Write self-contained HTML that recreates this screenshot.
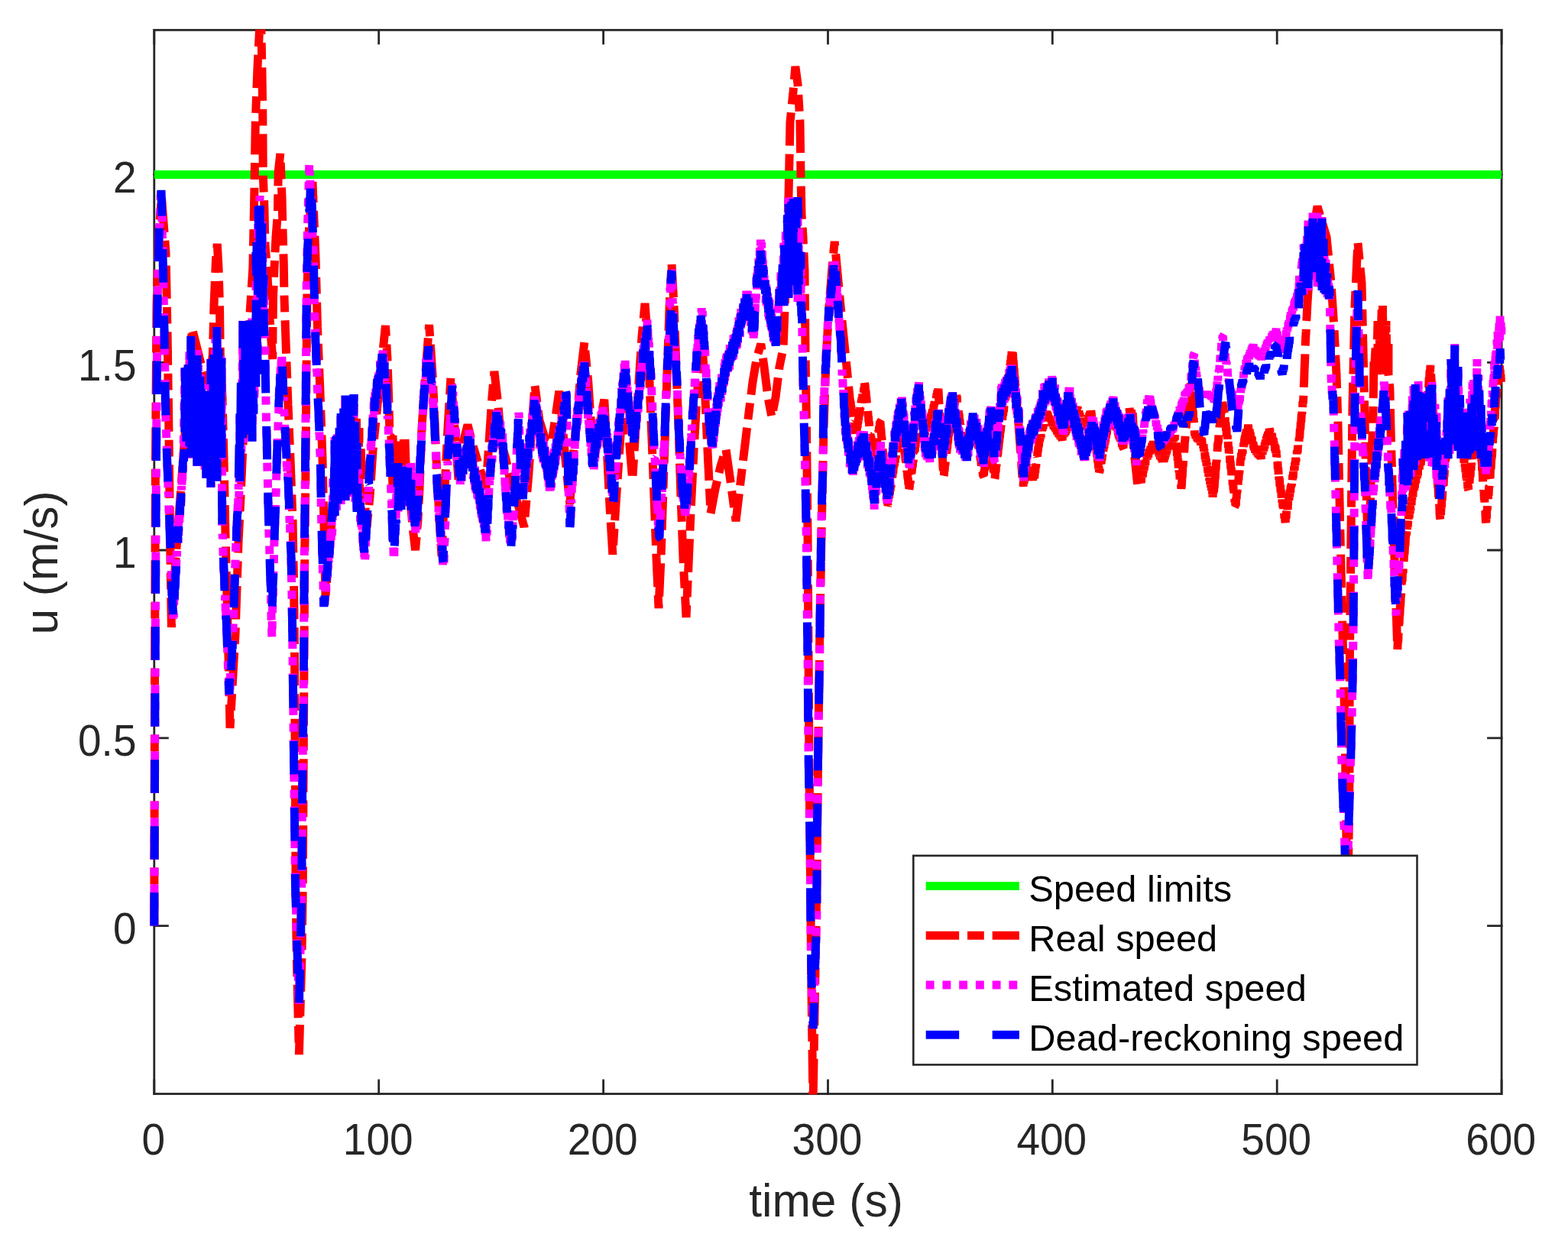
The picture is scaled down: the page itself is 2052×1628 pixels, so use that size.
<!DOCTYPE html>
<html lang="en"><head><meta charset="utf-8"><title>Speed comparison</title>
<style>
html,body{margin:0;padding:0;background:#fff;}
body{width:2052px;height:1628px;overflow:hidden;}
svg{display:block;}
text{font-family:'Liberation Sans', 'DejaVu Sans', sans-serif;fill:#262626;}
.tick{font-size:55px;}
.lab{font-size:60.5px;}
.leg{font-size:48.8px;fill:#000;}
.c{fill:none;stroke-width:11;stroke-linejoin:bevel;stroke-linecap:butt;}
</style></head>
<body>
<svg width="2052" height="1628" viewBox="0 0 2052 1628">
<rect x="0" y="0" width="2052" height="1628" fill="#fff"/>
<defs><clipPath id="ax"><rect x="195.3" y="38.5" width="1776.3" height="1393.8"/></clipPath></defs>
<g stroke="#262626" stroke-width="2.8" fill="none" stroke-linecap="square">
<rect x="201.8" y="39.3" width="1763.3" height="1392.2"/>
<path d="M201.8,1431.5v-17.6M201.8,39.3v17.6"/>
<path d="M495.7,1431.5v-17.6M495.7,39.3v17.6"/>
<path d="M789.6,1431.5v-17.6M789.6,39.3v17.6"/>
<path d="M1083.5,1431.5v-17.6M1083.5,39.3v17.6"/>
<path d="M1377.3,1431.5v-17.6M1377.3,39.3v17.6"/>
<path d="M1671.2,1431.5v-17.6M1671.2,39.3v17.6"/>
<path d="M1965.1,1431.5v-17.6M1965.1,39.3v17.6"/>
<path d="M201.8,1211.6h17.6M1965.1,1211.6h-17.6"/>
<path d="M201.8,965.8h17.6M1965.1,965.8h-17.6"/>
<path d="M201.8,720.0h17.6M1965.1,720.0h-17.6"/>
<path d="M201.8,474.3h17.6M1965.1,474.3h-17.6"/>
<path d="M201.8,228.5h17.6M1965.1,228.5h-17.6"/>
</g>
<text class="tick" transform="translate(200.8,1511.4) scale(1,1.045)" text-anchor="middle">0</text>
<text class="tick" transform="translate(494.7,1511.4) scale(1,1.045)" text-anchor="middle">100</text>
<text class="tick" transform="translate(788.6,1511.4) scale(1,1.045)" text-anchor="middle">200</text>
<text class="tick" transform="translate(1082.5,1511.4) scale(1,1.045)" text-anchor="middle">300</text>
<text class="tick" transform="translate(1376.3,1511.4) scale(1,1.045)" text-anchor="middle">400</text>
<text class="tick" transform="translate(1670.2,1511.4) scale(1,1.045)" text-anchor="middle">500</text>
<text class="tick" transform="translate(1964.1,1511.4) scale(1,1.045)" text-anchor="middle">600</text>
<text class="tick" transform="translate(178.5,1235.0) scale(1,1.045)" text-anchor="end">0</text>
<text class="tick" transform="translate(178.5,989.2) scale(1,1.045)" text-anchor="end">0.5</text>
<text class="tick" transform="translate(178.5,743.4) scale(1,1.045)" text-anchor="end">1</text>
<text class="tick" transform="translate(178.5,497.7) scale(1,1.045)" text-anchor="end">1.5</text>
<text class="tick" transform="translate(178.5,251.9) scale(1,1.045)" text-anchor="end">2</text>
<text class="lab" x="1081" y="1592" text-anchor="middle">time (s)</text>
<text class="lab" transform="translate(74.8,736.5) rotate(-90)" text-anchor="middle">u (m/s)</text>
<g clip-path="url(#ax)">
<path class="c" stroke="#00ff00" d="M201.8,228.5H1965.1"/>
<path class="c" stroke="#ff0000" stroke-dasharray="43.48 10.87 21.74 10.87" d="M201.8,1211.6 202.5,900.0 203.5,600.0 205.0,400.0 207.5,310.0 211.5,258.0 217.0,330.0 219.0,430.0 220.5,530.0 221.5,610.0 222.5,700.0 224.4,821.0 230.0,730.0 236.0,650.0 242.0,570.0 247.0,490.0 251.5,430.0 258.0,456.0 264.0,480.0 270.0,508.0 274.0,500.0 278.3,465.0 280.0,400.0 282.5,340.0 284.3,319.0 286.0,350.0 287.5,400.0 288.3,465.0 291.0,520.0 293.0,600.0 295.0,700.0 297.5,800.0 299.5,880.0 301.0,953.0 304.0,900.0 308.0,830.0 310.0,770.0 312.0,710.0 315.0,650.0 319.0,560.0 323.0,480.0 326.5,417.0 329.0,380.0 330.9,350.0 332.9,250.0 334.3,160.0 336.9,90.0 339.5,40.0 340.7,15.0 341.9,40.0 342.9,90.0 343.8,150.0 344.3,230.0 345.9,270.0 346.9,320.0 349.5,350.0 352.0,400.0 354.5,440.0 356.8,470.0 357.0,430.0 357.5,389.0 359.5,340.0 361.0,310.0 363.4,280.0 364.2,225.0 366.8,201.0 369.0,258.0 370.0,300.0 371.3,345.0 372.0,389.0 374.2,452.0 377.0,530.0 380.0,600.0 383.0,680.0 384.5,760.0 385.5,850.0 386.0,950.0 386.5,1050.0 387.0,1150.0 388.2,1250.0 391.4,1380.0 395.0,1250.0 396.3,1156.0 396.8,1070.0 397.3,982.0 397.8,896.0 398.3,809.0 398.8,722.0 399.8,634.0 400.5,549.0 401.2,462.0 402.0,375.0 404.5,300.0 409.0,238.0 413.0,336.0 415.5,428.0 419.0,514.0 422.0,600.0 424.0,687.0 426.0,780.0 431.0,720.0 436.0,660.0 437.7,658.1 440.0,600.0 440.1,660.0 441.5,593.8 443.5,646.6 444.5,571.9 446.4,643.3 448.9,557.5 450.0,650.0 450.1,540.0 452.1,640.4 453.6,547.7 455.3,643.6 456.9,532.8 458.8,627.5 460.6,529.6 462.0,640.0 462.1,520.0 463.8,627.2 466.4,547.8 468.2,645.8 470.0,560.0 470.1,650.0 472.2,587.3 473.9,642.5 476.0,640.0 480.0,690.0 484.0,650.0 488.0,590.0 493.0,540.0 498.0,490.0 502.0,450.0 504.5,426.0 507.0,470.0 509.0,530.0 510.0,570.0 511.9,570.3 514.0,640.0 514.0,570.0 516.2,632.2 517.2,578.9 519.8,637.7 521.2,579.3 522.9,639.3 524.5,577.6 526.5,646.8 528.4,575.2 530.0,650.0 530.0,575.0 532.4,646.6 534.2,621.3 536.0,640.0 540.0,690.0 543.6,720.0 547.0,680.0 549.0,640.0 552.0,560.0 556.0,500.0 561.6,425.0 566.0,490.0 568.5,540.0 571.0,600.0 575.0,680.0 578.0,728.0 582.0,639.8 586.0,559.8 590.0,492.9 595.0,559.8 600.0,627.8 606.0,579.8 612.0,555.8 618.0,579.8 623.9,599.8 629.9,619.8 635.9,639.8 639.9,579.8 643.9,519.9 646.9,485.9 651.9,529.9 655.9,579.8 661.9,599.8 669.9,639.8 677.9,659.7 685.9,689.7 691.9,619.8 695.9,559.8 699.9,503.9 705.9,549.9 713.9,575.8 721.8,579.8 727.8,539.9 731.8,511.9 735.8,551.8 739.8,599.8 745.8,659.7 749.8,599.8 755.8,539.9 759.8,489.9 764.8,448.0 769.8,499.9 773.8,559.8 777.8,599.8 783.8,559.8 790.8,522.9 793.8,579.8 797.8,659.7 801.8,725.7 806.0,660.0 810.0,600.0 814.0,540.0 818.0,500.0 822.0,560.0 827.7,628.0 832.0,560.0 836.0,500.0 840.0,440.0 844.0,397.0 848.0,450.0 852.0,550.0 856.0,650.0 859.0,730.0 862.0,796.0 865.0,730.0 868.0,640.0 871.0,550.0 874.0,460.0 876.5,390.0 879.0,346.0 882.0,400.0 885.0,480.0 888.0,560.0 891.0,650.0 894.0,730.0 898.0,808.0 901.0,740.0 904.0,670.0 908.0,590.0 912.0,520.0 916.0,470.0 919.0,450.0 922.0,500.0 926.0,590.0 930.0,672.0 936.0,640.0 943.0,610.0 950.0,588.0 956.0,630.0 963.0,682.0 968.0,640.0 974.0,590.0 980.0,540.0 985.0,500.0 990.0,470.0 995.8,450.0 1000.0,480.0 1005.0,520.0 1010.0,546.0 1015.0,520.0 1020.0,480.0 1025.0,456.0 1028.0,380.0 1030.0,320.0 1032.0,256.0 1034.0,160.0 1038.0,120.0 1040.9,87.0 1044.0,110.0 1047.0,160.0 1048.0,230.0 1049.0,280.0 1051.0,310.0 1053.0,355.0 1054.0,460.0 1055.5,560.0 1057.0,700.0 1058.0,850.0 1059.0,1000.0 1060.5,1150.0 1062.0,1300.0 1064.0,1445.0 1066.5,1300.0 1069.0,1150.0 1070.5,1000.0 1072.5,850.0 1075.0,700.0 1078.0,560.0 1081.0,470.0 1085.0,400.0 1089.0,350.0 1092.2,316.0 1100.0,400.0 1106.0,459.9 1112.0,519.9 1112.6,525.6 1113.1,524.8 1113.4,530.9 1113.9,531.1 1114.3,537.8 1114.9,537.4 1115.2,542.6 1115.8,543.2 1116.1,548.4 1116.5,547.2 1116.8,553.3 1117.4,552.6 1117.8,560.0 1118.2,558.3 1118.6,564.9 1119.1,563.6 1119.6,571.3 1120.0,571.8 1120.3,567.7 1120.9,567.7 1121.5,559.5 1122.0,559.8 1122.5,553.6 1122.9,553.9 1123.2,547.5 1123.6,550.2 1124.1,543.0 1124.5,544.1 1125.1,535.5 1125.6,536.2 1126.0,531.8 1126.4,527.4 1126.8,530.1 1127.3,523.1 1127.6,526.0 1127.9,520.1 1128.5,521.9 1128.9,515.2 1129.3,517.6 1129.8,511.1 1130.2,513.4 1130.6,507.3 1131.1,508.9 1131.6,502.0 1131.9,502.9 1132.5,510.1 1133.1,512.6 1133.5,520.0 1133.8,518.9 1134.4,528.4 1134.9,529.4 1135.3,536.7 1135.6,536.6 1136.2,545.1 1136.5,544.8 1136.9,552.3 1137.3,551.8 1137.9,559.8 1138.3,564.1 1138.8,563.7 1139.3,570.4 1139.8,570.4 1140.2,576.9 1140.7,576.1 1141.2,583.9 1141.8,584.0 1142.2,589.6 1142.6,589.3 1143.0,596.1 1143.6,595.9 1143.9,599.8 1144.5,598.6 1145.0,591.9 1145.3,594.1 1145.8,586.2 1146.3,587.9 1146.9,580.6 1147.2,582.0 1147.8,574.5 1148.3,575.8 1148.7,569.4 1149.2,570.3 1149.7,563.0 1150.3,564.4 1150.6,558.0 1151.1,559.1 1151.5,552.0 1151.9,551.8 1152.5,559.0 1152.8,561.1 1153.4,569.9 1154.0,573.2 1154.4,580.9 1154.8,582.8 1155.1,589.7 1155.5,590.7 1156.0,599.5 1156.4,601.6 1156.8,609.3 1157.2,609.7 1157.5,616.9 1157.9,619.8 1158.5,624.3 1159.0,632.9 1159.6,635.0 1160.0,643.3 1160.4,643.7 1160.8,652.4 1161.3,653.2 1161.9,661.7 1162.5,660.1 1163.1,652.2 1163.5,653.1 1163.8,646.7 1164.3,647.3 1164.7,642.0 1165.1,642.7 1165.4,637.3 1166.0,637.6 1166.5,630.1 1167.0,630.1 1167.4,623.4 1167.8,625.3 1168.1,618.8 1168.7,620.0 1169.2,612.4 1169.9,609.8 1170.4,608.9 1170.8,603.1 1171.2,605.6 1171.7,598.2 1172.2,599.9 1172.7,592.8 1173.2,595.5 1173.6,589.7 1174.0,591.3 1174.6,584.5 1175.0,585.7 1175.3,581.1 1175.7,582.4 1176.1,577.1 1176.5,579.5 1177.1,571.3 1177.6,572.8 1178.0,566.8 1178.5,569.6 1178.8,563.5 1179.1,565.7 1179.6,559.5 1179.9,559.8 1180.2,564.0 1180.8,564.8 1181.3,572.0 1181.7,572.4 1182.2,579.8 1182.7,580.8 1183.2,587.8 1183.6,587.0 1184.1,595.3 1184.5,594.1 1185.0,601.8 1185.6,603.2 1186.0,610.2 1186.4,609.6 1186.8,616.7 1187.3,617.5 1187.9,625.7 1188.4,626.7 1189.0,634.8 1189.4,633.1 1189.9,639.7 1190.2,638.8 1190.8,630.7 1191.2,632.9 1191.5,626.1 1192.0,627.3 1192.6,618.6 1193.1,618.9 1193.7,611.1 1194.2,611.6 1194.7,604.0 1195.2,604.2 1195.7,597.5 1196.1,597.4 1196.6,590.7 1197.2,590.4 1197.5,584.8 1198.0,585.6 1198.4,577.6 1198.8,579.0 1199.2,572.5 1199.9,569.8 1200.2,572.2 1200.6,567.5 1200.9,571.6 1201.4,567.8 1202.0,572.1 1202.4,568.0 1202.9,572.1 1203.3,566.9 1203.7,572.5 1204.2,567.1 1204.5,572.8 1205.0,568.1 1205.5,571.4 1205.9,568.2 1206.2,572.0 1206.8,567.2 1207.4,572.5 1207.9,567.4 1208.5,571.5 1208.9,567.5 1209.2,572.6 1209.9,569.8 1210.3,566.0 1210.7,569.8 1211.2,563.2 1211.6,566.1 1212.2,561.1 1212.6,564.3 1213.1,558.4 1213.7,561.2 1214.1,555.2 1214.6,557.9 1214.9,552.1 1215.4,555.3 1215.9,549.9 1216.5,552.6 1216.9,547.0 1217.4,548.9 1217.8,544.2 1218.3,546.6 1218.7,541.0 1219.2,544.7 1219.9,539.8 1220.3,535.5 1220.7,538.9 1221.0,533.2 1221.5,536.3 1222.1,529.4 1222.6,531.1 1223.0,525.4 1223.4,528.9 1224.0,522.4 1224.6,524.3 1224.9,517.9 1225.4,520.1 1225.9,515.1 1226.3,517.1 1226.8,510.8 1227.2,513.4 1227.9,508.9 1228.3,514.9 1228.8,526.0 1229.2,529.8 1229.8,541.6 1230.3,547.3 1230.6,556.4 1231.0,559.7 1231.3,567.2 1231.6,569.6 1232.1,580.2 1232.7,588.0 1233.1,597.2 1233.5,600.4 1234.0,611.9 1234.4,616.1 1234.8,624.8 1235.3,622.0 1235.7,616.4 1236.0,617.5 1236.6,608.5 1237.0,608.8 1237.5,600.3 1238.0,600.5 1238.6,591.7 1238.9,593.0 1239.2,586.7 1239.6,586.8 1240.1,578.9 1240.5,580.3 1241.1,570.7 1241.6,570.4 1242.0,563.4 1242.4,562.9 1242.9,556.7 1243.4,554.8 1243.8,549.8 1244.2,546.4 1244.5,549.6 1244.9,543.3 1245.3,546.0 1245.9,539.7 1246.4,541.8 1247.0,534.9 1247.4,537.4 1247.9,532.0 1248.3,534.5 1248.9,528.3 1249.4,529.7 1249.8,523.4 1250.2,526.0 1250.8,520.5 1251.3,522.4 1251.8,517.9 1252.3,519.6 1252.6,526.3 1253.1,526.3 1253.6,533.7 1254.1,533.9 1254.6,541.6 1255.2,542.2 1255.5,548.9 1255.9,548.3 1256.4,555.7 1257.0,555.3 1257.3,562.7 1257.7,561.9 1258.1,567.6 1258.4,567.2 1258.8,573.6 1259.4,575.1 1259.8,579.8 1260.2,581.5 1260.5,577.5 1260.8,581.5 1261.1,577.1 1261.4,581.9 1262.0,578.1 1262.4,582.6 1262.9,578.1 1263.3,582.6 1263.8,577.9 1264.2,582.7 1264.6,578.0 1265.0,582.2 1265.5,577.3 1266.0,581.8 1266.4,577.3 1266.8,581.7 1267.3,576.9 1267.8,581.5 1268.4,577.5 1268.7,582.5 1269.2,577.6 1269.5,582.1 1269.8,579.8 1270.4,576.9 1270.7,582.7 1271.1,578.3 1271.6,582.5 1272.2,578.1 1272.7,582.7 1273.3,577.8 1273.8,581.5 1274.4,577.4 1274.9,582.4 1275.3,578.0 1275.6,582.4 1275.9,578.3 1276.4,582.0 1277.0,578.1 1277.5,581.6 1278.0,576.9 1278.6,581.5 1279.1,577.5 1279.4,582.0 1279.8,579.8 1280.3,581.0 1280.6,586.8 1281.0,585.6 1281.6,593.2 1282.1,592.7 1282.5,598.8 1282.9,597.2 1283.2,602.5 1283.7,602.1 1284.3,609.6 1284.7,607.2 1285.2,615.8 1285.8,614.3 1286.4,622.4 1286.8,622.8 1287.2,618.4 1287.5,621.8 1288.0,614.9 1288.6,615.4 1289.0,608.9 1289.6,610.4 1289.9,604.3 1290.3,605.5 1290.6,600.0 1291.1,602.0 1291.7,594.3 1292.2,594.9 1292.8,588.3 1293.4,589.7 1293.9,582.3 1294.2,584.9 1294.8,579.8 1295.3,581.3 1295.7,587.9 1296.1,587.4 1296.6,594.2 1297.0,592.8 1297.6,600.7 1297.9,599.1 1298.5,606.7 1298.8,605.0 1299.2,611.8 1299.8,611.0 1300.2,617.7 1300.5,616.6 1301.0,623.7 1301.5,622.3 1301.8,626.8 1302.1,625.3 1302.6,617.5 1303.1,618.4 1303.4,610.5 1304.0,609.5 1304.5,601.9 1304.9,602.3 1305.2,596.2 1305.8,595.1 1306.3,587.3 1306.8,586.4 1307.3,578.7 1307.7,578.5 1308.1,572.8 1308.5,572.1 1308.8,565.5 1309.2,566.2 1309.8,559.8 1310.2,555.3 1310.7,556.1 1311.1,549.0 1311.6,550.5 1312.0,543.7 1312.6,544.2 1312.9,538.6 1313.5,539.2 1314.0,531.0 1314.5,532.2 1314.9,526.3 1315.3,527.1 1315.7,520.1 1316.3,521.1 1316.7,514.1 1317.2,515.4 1317.8,509.9 1318.1,504.9 1318.5,505.7 1319.1,498.3 1319.5,497.8 1319.9,491.5 1320.5,490.8 1320.9,484.4 1321.2,484.9 1321.7,476.9 1322.2,477.3 1322.5,471.3 1323.0,471.7 1323.3,465.4 1323.7,466.1 1324.2,458.4 1324.8,455.9 1325.1,461.6 1325.5,462.8 1325.9,471.6 1326.3,472.4 1326.7,481.3 1327.1,482.8 1327.5,490.1 1328.0,493.5 1328.5,502.3 1329.1,506.2 1329.4,512.8 1329.8,514.7 1330.2,522.7 1330.8,527.0 1331.1,533.5 1331.7,539.8 1332.1,543.8 1332.6,552.6 1333.1,556.6 1333.4,564.6 1333.9,567.3 1334.3,575.3 1334.8,580.1 1335.2,588.6 1335.8,592.5 1336.1,601.2 1336.6,603.7 1336.9,611.5 1337.3,614.3 1337.9,624.7 1338.3,627.8 1338.7,634.7 1339.0,636.4 1339.5,629.4 1340.1,632.8 1340.4,626.3 1340.9,629.7 1341.3,623.1 1341.9,625.8 1342.2,619.8 1342.5,623.4 1342.9,617.9 1343.5,620.7 1344.0,613.2 1344.3,617.1 1344.8,610.7 1345.2,614.2 1345.7,609.8 1346.3,608.7 1346.7,615.0 1347.0,611.0 1347.6,616.9 1348.0,615.0 1348.6,621.0 1349.2,617.9 1349.7,623.5 1350.2,620.7 1350.7,626.7 1351.0,623.5 1351.4,628.5 1351.8,625.1 1352.2,631.1 1352.7,630.7 1353.2,625.4 1353.7,625.9 1354.3,617.9 1354.7,618.7 1355.2,611.1 1355.7,611.0 1356.2,604.1 1356.7,604.1 1357.1,596.4 1357.5,597.3 1357.9,591.2 1358.4,590.7 1358.8,584.7 1359.4,584.3 1359.7,579.8 1360.2,576.2 1360.6,578.1 1361.0,572.1 1361.5,574.4 1361.9,568.5 1362.4,571.8 1362.9,565.6 1363.3,567.9 1363.7,561.8 1364.2,563.5 1364.5,558.8 1365.0,561.1 1365.3,556.0 1365.8,558.0 1366.3,551.2 1366.7,554.6 1367.0,548.0 1367.5,551.0 1368.1,544.3 1368.5,546.6 1368.9,541.0 1369.3,543.2 1369.7,539.8 1370.1,538.0 1370.6,543.6 1371.2,540.0 1371.5,545.3 1372.0,541.6 1372.5,547.8 1373.0,544.2 1373.6,549.1 1374.1,546.3 1374.5,551.0 1374.8,547.6 1375.3,553.3 1375.8,550.5 1376.2,555.8 1376.7,551.0 1377.0,557.3 1377.5,553.1 1378.0,558.3 1378.5,554.8 1379.1,560.9 1379.7,559.8 1380.1,558.8 1380.4,562.4 1381.0,559.2 1381.6,565.1 1382.0,561.4 1382.5,566.8 1382.9,562.1 1383.3,566.8 1383.6,563.6 1384.0,569.0 1384.5,564.7 1384.9,570.1 1385.3,565.6 1385.9,571.8 1386.5,567.3 1387.0,572.5 1387.5,569.4 1387.8,574.4 1388.4,570.3 1388.7,575.2 1389.3,572.5 1389.7,574.8 1390.1,575.8 1390.6,571.4 1391.1,574.1 1391.6,569.2 1392.2,572.3 1392.7,566.7 1393.3,570.1 1393.6,565.8 1394.1,568.9 1394.6,564.0 1395.1,567.4 1395.5,561.7 1395.8,566.0 1396.2,560.9 1396.6,563.3 1397.2,557.8 1397.8,561.3 1398.1,557.0 1398.6,559.7 1399.0,554.7 1399.7,555.8 1400.0,557.0 1400.4,552.0 1400.7,555.3 1401.1,550.9 1401.5,553.6 1401.8,548.8 1402.3,552.8 1402.9,546.9 1403.3,550.3 1403.6,545.5 1404.2,547.4 1404.5,542.4 1405.1,546.5 1405.5,540.7 1406.0,544.1 1406.6,537.9 1407.0,542.5 1407.4,536.7 1407.9,540.6 1408.4,534.4 1408.9,537.6 1409.7,533.8 1410.1,532.2 1410.5,538.8 1411.0,535.7 1411.4,540.5 1411.9,537.3 1412.3,543.4 1412.7,540.2 1413.3,544.7 1413.7,542.8 1414.3,548.2 1414.7,544.7 1415.0,549.3 1415.3,547.1 1415.8,551.8 1416.3,548.9 1416.8,554.3 1417.2,551.1 1417.7,556.7 1418.0,552.9 1418.4,558.5 1418.9,555.0 1419.7,559.8 1420.2,560.5 1420.5,554.7 1421.0,558.3 1421.6,552.2 1422.0,555.1 1422.4,549.7 1423.0,552.4 1423.3,547.1 1423.6,551.2 1424.2,545.7 1424.6,549.0 1424.9,543.3 1425.5,546.0 1425.8,540.1 1426.3,543.1 1426.9,538.2 1427.3,541.7 1427.7,537.8 1428.2,540.0 1428.8,547.9 1429.3,548.0 1429.8,555.6 1430.3,556.0 1430.8,562.8 1431.2,561.9 1431.6,568.9 1432.1,567.9 1432.5,574.9 1432.9,573.7 1433.3,581.0 1433.8,580.5 1434.3,588.7 1434.9,588.6 1435.5,596.5 1436.1,597.5 1436.6,604.9 1437.1,605.0 1437.7,613.3 1438.0,610.8 1438.6,617.8 1439.2,616.4 1439.6,610.3 1440.0,612.6 1440.6,605.8 1441.1,606.9 1441.6,600.9 1442.0,602.5 1442.5,594.8 1442.8,597.9 1443.4,590.7 1443.7,592.9 1444.3,586.0 1444.9,586.7 1445.3,580.2 1445.8,581.8 1446.2,575.4 1446.5,579.0 1446.8,572.8 1447.4,573.1 1447.8,568.0 1448.3,568.7 1448.8,562.2 1449.6,559.8 1450.2,561.6 1450.6,556.6 1451.1,561.7 1451.4,556.6 1452.0,560.7 1452.5,556.9 1452.8,560.3 1453.2,555.7 1453.6,560.6 1454.2,556.4 1454.6,559.8 1455.0,555.6 1455.3,559.3 1455.7,554.7 1456.0,559.5 1456.5,554.8 1456.8,558.9 1457.4,554.6 1457.8,558.8 1458.3,554.8 1458.7,559.1 1459.3,554.0 1459.6,555.8 1460.0,559.2 1460.5,556.2 1460.9,561.5 1461.2,558.5 1461.6,563.2 1462.1,560.9 1462.5,566.3 1462.8,563.1 1463.3,568.8 1463.6,565.6 1464.1,571.7 1464.4,567.3 1464.9,574.7 1465.3,570.5 1465.7,576.0 1466.2,572.7 1466.6,579.5 1467.2,576.6 1467.5,581.4 1468.0,579.3 1468.5,584.6 1468.9,582.1 1469.6,585.8 1469.9,586.1 1470.5,579.3 1471.0,582.2 1471.3,575.4 1471.9,578.0 1472.4,571.5 1472.9,573.2 1473.4,567.1 1474.0,568.5 1474.4,562.6 1474.9,564.0 1475.4,557.6 1475.7,560.9 1476.3,553.6 1476.8,556.3 1477.1,551.2 1477.7,552.0 1478.1,546.4 1478.7,547.8 1479.2,542.0 1479.7,543.1 1480.2,536.5 1480.6,539.8 1481.0,533.6 1481.6,532.8 1482.2,541.9 1482.6,546.0 1483.0,554.8 1483.5,558.3 1484.1,569.3 1484.5,573.3 1484.8,581.3 1485.3,585.1 1485.8,594.7 1486.1,596.7 1486.6,605.6 1487.2,612.0 1487.5,619.4 1488.0,624.1 1488.6,633.7 1478.0,533.8 1478.4,539.1 1479.0,537.1 1479.3,544.3 1479.8,539.9 1480.3,550.8 1480.7,546.3 1481.1,555.3 1481.5,550.9 1482.0,561.0 1482.3,555.0 1482.8,565.6 1483.2,560.3 1483.7,569.9 1484.2,564.9 1484.7,574.7 1485.3,571.3 1486.0,579.8 1486.5,586.9 1487.0,585.5 1487.6,596.3 1488.0,593.9 1488.5,605.7 1488.9,603.4 1489.3,613.7 1489.7,610.0 1490.2,621.1 1490.6,618.9 1490.9,627.7 1491.3,624.3 1492.0,633.7 1492.5,636.1 1493.0,626.7 1493.4,632.0 1493.8,623.0 1494.2,627.8 1494.7,618.3 1495.3,624.4 1495.9,614.4 1496.2,618.4 1496.7,609.2 1497.3,615.5 1497.6,606.0 1497.9,612.3 1498.3,602.7 1498.7,608.8 1499.2,599.2 1500.0,599.8 1500.4,602.9 1500.8,594.9 1501.2,601.5 1501.6,592.9 1502.0,598.5 1502.3,592.6 1502.7,599.1 1503.1,589.5 1503.5,595.3 1503.9,587.3 1504.4,594.4 1504.9,587.5 1505.3,594.0 1505.7,583.7 1506.0,590.2 1506.5,584.1 1507.1,590.1 1507.6,579.7 1508.1,587.7 1508.5,578.8 1508.8,586.7 1509.2,576.9 1509.6,584.6 1510.0,579.8 1510.4,576.8 1510.7,585.5 1511.3,578.1 1511.9,586.5 1512.2,581.3 1512.6,588.2 1513.0,582.1 1513.5,590.2 1514.0,583.2 1514.4,592.8 1515.0,585.9 1515.5,593.7 1516.0,587.8 1516.5,595.9 1517.1,589.1 1517.4,598.0 1517.9,592.8 1518.5,601.2 1518.9,594.4 1519.4,602.0 1519.9,594.9 1520.5,603.7 1521.1,599.4 1521.6,607.8 1521.9,603.8 1522.3,598.2 1522.7,604.9 1523.1,595.5 1523.5,603.8 1523.9,595.1 1524.3,600.8 1524.9,592.3 1525.3,597.7 1525.8,588.4 1526.3,595.2 1526.6,585.0 1526.9,592.5 1527.4,584.1 1527.9,589.6 1528.3,580.1 1528.8,588.0 1529.4,577.7 1529.9,579.8 1530.4,584.1 1530.8,576.0 1531.3,582.2 1531.7,575.0 1532.2,580.8 1532.7,572.5 1533.0,579.9 1533.4,573.5 1533.7,578.8 1534.3,572.7 1534.8,578.2 1535.3,571.3 1535.7,577.7 1536.2,571.0 1536.6,576.3 1536.9,569.3 1537.2,575.9 1537.6,569.7 1537.9,571.8 1538.5,579.3 1538.9,577.5 1539.5,588.5 1540.0,587.6 1540.5,596.6 1540.9,595.1 1541.3,602.9 1541.7,601.1 1542.3,612.4 1542.6,607.4 1543.1,618.4 1543.5,616.1 1544.1,627.3 1544.5,624.8 1545.1,634.9 1545.4,632.9 1545.9,639.7 1546.5,634.6 1546.8,626.0 1547.3,623.3 1547.9,610.0 1548.3,610.2 1548.6,601.4 1549.0,601.4 1549.4,591.5 1549.9,589.6 1550.4,578.7 1550.9,575.2 1551.4,565.4 1551.9,559.8 1552.4,557.4 1553.0,546.3 1553.4,549.6 1554.0,538.1 1554.4,537.9 1554.9,527.6 1555.5,529.1 1555.9,518.6 1556.4,520.0 1556.8,508.8 1557.4,510.7 1557.9,501.9 1558.4,504.0 1558.7,514.5 1559.3,514.5 1559.8,525.5 1560.2,524.7 1560.7,536.8 1561.2,536.6 1561.6,547.3 1562.2,547.0 1562.5,556.5 1563.0,556.2 1563.4,567.3 1563.9,569.8 1564.4,566.9 1565.0,573.8 1565.4,567.8 1565.9,576.3 1566.3,568.0 1566.8,576.7 1567.4,568.9 1567.7,578.3 1568.3,571.2 1568.6,579.1 1569.0,570.2 1569.3,579.3 1569.9,572.9 1570.3,580.0 1570.8,572.3 1571.4,582.3 1571.8,572.9 1572.3,580.8 1572.8,573.7 1573.2,582.9 1573.9,579.8 1574.3,579.4 1574.6,586.7 1575.0,581.4 1575.6,590.9 1575.9,587.6 1576.4,596.8 1576.7,591.8 1577.3,601.5 1577.7,596.5 1578.1,605.1 1578.5,601.1 1579.1,609.8 1579.5,605.7 1579.9,614.2 1580.2,609.5 1580.8,618.6 1581.3,614.9 1581.8,623.6 1582.2,618.7 1582.8,629.1 1583.4,625.2 1583.7,633.7 1584.2,629.2 1584.6,638.1 1585.2,633.4 1585.5,642.0 1586.1,638.7 1586.4,647.1 1586.7,642.2 1587.0,650.6 1587.4,645.2 1587.9,651.7 1588.3,649.6 1588.8,638.9 1589.3,637.0 1589.8,627.0 1590.3,625.9 1590.6,616.6 1591.1,614.3 1591.5,605.4 1592.1,604.4 1592.5,593.6 1593.0,593.4 1593.5,581.7 1593.9,579.8 1594.5,578.3 1594.9,567.4 1595.5,567.7 1596.1,556.0 1596.5,558.5 1596.9,548.1 1597.3,549.5 1597.7,539.9 1598.3,541.5 1598.6,532.7 1599.0,535.6 1599.4,526.3 1599.9,523.9 1600.4,530.6 1600.9,529.3 1601.3,538.5 1601.9,536.4 1602.4,546.2 1603.0,543.7 1603.6,554.7 1604.0,552.9 1604.6,563.8 1604.9,558.7 1605.2,569.2 1605.9,569.8 1606.3,569.8 1606.6,580.4 1607.1,576.5 1607.5,585.8 1608.0,584.2 1608.3,593.2 1608.7,590.6 1609.0,599.4 1609.4,596.5 1609.8,606.1 1610.2,603.3 1610.8,614.2 1611.3,611.9 1611.8,622.1 1612.1,618.6 1612.4,627.5 1612.8,624.7 1613.2,634.7 1613.8,633.9 1614.2,642.1 1614.6,641.0 1615.2,650.7 1615.6,649.2 1615.9,657.6 1616.3,653.6 1616.9,661.7 1617.3,661.4 1617.6,651.5 1618.1,653.6 1618.5,644.6 1619.0,645.0 1619.5,634.4 1620.0,636.9 1620.4,627.8 1620.9,628.4 1621.3,619.6 1621.8,620.0 1622.3,611.2 1622.7,613.8 1623.2,602.9 1623.8,599.8 1624.2,602.0 1624.5,592.8 1625.1,596.7 1625.7,588.2 1626.1,593.7 1626.6,584.1 1627.2,587.3 1627.7,579.3 1628.1,583.4 1628.7,573.1 1629.0,579.3 1629.3,570.0 1629.6,576.7 1630.2,565.7 1630.7,571.2 1631.2,561.5 1631.7,567.0 1632.3,557.4 1632.8,557.8 1633.2,562.8 1633.5,555.5 1634.1,566.0 1634.5,558.6 1634.9,568.3 1635.3,561.8 1635.7,571.6 1636.2,565.4 1636.7,575.5 1637.1,568.1 1637.7,578.6 1638.2,571.5 1638.7,580.7 1639.3,576.7 1639.7,583.5 1640.1,578.6 1640.7,586.7 1641.0,582.3 1641.3,589.2 1641.8,587.8 1642.4,583.5 1642.7,592.7 1643.3,585.7 1643.7,593.1 1644.2,586.2 1644.7,595.3 1645.2,588.7 1645.6,596.2 1645.9,588.1 1646.3,597.3 1646.6,589.1 1647.1,598.1 1647.5,590.3 1648.0,599.8 1648.5,593.3 1648.9,600.0 1649.2,593.7 1649.8,597.8 1650.3,600.7 1650.7,592.5 1651.1,596.4 1651.5,588.9 1652.0,595.1 1652.6,586.8 1653.0,591.6 1653.4,583.2 1653.9,590.3 1654.5,579.5 1654.8,586.9 1655.4,578.9 1655.9,582.6 1656.4,575.5 1656.9,580.5 1657.4,571.3 1657.9,577.9 1658.5,568.2 1658.9,575.6 1659.5,565.4 1660.0,572.6 1660.3,563.0 1660.7,570.6 1661.3,561.0 1661.8,562.8 1662.3,567.3 1662.9,563.6 1663.4,572.5 1663.8,566.4 1664.2,575.1 1664.6,567.3 1664.9,578.0 1665.5,571.4 1666.0,581.4 1666.4,573.7 1666.7,582.1 1667.1,577.8 1667.7,585.6 1668.1,580.5 1668.6,590.1 1669.1,583.0 1669.5,593.0 1669.8,589.8 1670.2,589.0 1670.5,598.1 1670.9,596.2 1671.5,606.5 1671.9,604.0 1672.3,614.1 1672.7,611.8 1673.3,622.7 1673.6,618.4 1673.9,628.4 1674.4,625.6 1674.9,636.4 1675.5,634.6 1675.8,639.7 1676.1,644.5 1676.7,641.8 1677.2,652.8 1677.5,648.1 1678.0,658.0 1678.4,655.6 1678.9,664.1 1679.5,662.1 1680.0,673.1 1680.5,670.4 1681.0,678.6 1681.5,676.8 1681.8,681.7 1682.2,683.8 1682.8,672.4 1683.1,678.5 1683.6,668.2 1684.1,671.3 1684.6,661.7 1685.1,666.9 1685.6,655.5 1686.1,660.3 1686.6,651.0 1686.9,654.9 1687.2,646.6 1687.7,650.5 1688.3,640.5 1688.7,644.9 1689.1,637.0 1689.8,635.7 1690.4,634.7 1690.8,627.7 1691.2,630.9 1691.7,621.4 1692.2,626.4 1692.6,615.5 1693.2,620.7 1693.6,610.4 1694.1,615.6 1694.6,604.8 1695.1,608.6 1695.7,598.9 1696.0,603.7 1696.6,595.2 1697.1,597.7 1697.4,589.2 1698.0,592.9 1698.6,582.7 1699.0,586.8 1699.8,579.8 1700.2,572.7 1700.7,573.7 1701.3,562.0 1701.8,561.7 1702.3,552.6 1702.8,552.1 1703.3,541.6 1703.8,542.4 1704.1,533.7 1704.5,536.3 1704.9,525.1 1705.3,528.3 1705.8,519.9 1706.3,504.1 1706.7,497.8 1707.1,483.5 1707.7,470.8 1708.2,452.6 1708.8,439.9 1709.2,433.5 1709.6,420.8 1710.0,416.8 1710.8,400.0 1714.0,350.0 1719.0,300.0 1724.0,270.0 1730.0,290.0 1736.0,310.0 1742.0,370.0 1746.0,430.0 1749.0,490.0 1751.0,555.0 1754.0,700.0 1757.0,830.0 1760.0,950.0 1762.0,1100.0 1763.5,1200.0 1765.0,1100.0 1766.0,1015.0 1766.0,940.0 1766.5,850.0 1768.0,700.0 1770.0,530.0 1773.0,400.0 1776.9,317.0 1782.0,370.0 1785.0,500.0 1788.0,640.0 1791.0,740.0 1795.0,600.0 1796.9,545.0 1798.0,470.0 1798.0,490.0 1800.1,455.5 1801.6,484.1 1803.0,420.0 1803.0,490.0 1805.0,419.5 1806.0,479.5 1808.2,405.1 1809.4,490.0 1809.5,400.0 1810.5,487.7 1812.4,422.4 1814.0,490.0 1814.0,420.0 1815.3,488.2 1817.0,450.0 1817.0,490.0 1818.9,507.7 1820.0,560.0 1824.0,700.0 1828.8,850.0 1829.2,841.2 1829.8,838.9 1830.1,827.4 1830.4,828.4 1830.7,817.2 1831.1,816.1 1831.5,806.3 1831.9,804.2 1832.3,794.1 1832.8,791.3 1833.2,780.6 1833.6,778.2 1834.0,770.0 1834.5,761.5 1835.0,761.3 1835.5,750.1 1836.1,749.5 1836.6,737.1 1836.9,737.9 1837.5,726.3 1838.1,724.3 1838.6,713.0 1839.0,714.5 1839.4,703.8 1840.0,700.0 1840.6,700.0 1840.9,691.0 1841.4,695.3 1841.8,684.6 1842.3,689.6 1842.8,679.3 1843.1,683.9 1843.5,674.1 1844.1,678.1 1844.6,667.3 1845.1,672.3 1845.5,661.6 1846.1,668.3 1846.5,655.7 1847.0,661.3 1847.5,650.6 1848.0,654.8 1848.4,644.9 1848.9,650.6 1849.3,639.5 1850.0,640.0 1850.6,642.1 1851.0,632.2 1851.4,638.5 1851.7,630.0 1852.1,635.2 1852.5,625.9 1852.8,632.6 1853.2,621.9 1853.7,629.1 1854.1,618.0 1854.5,626.0 1854.9,616.1 1855.4,622.5 1855.7,612.3 1856.3,618.9 1856.8,607.4 1857.3,614.4 1857.7,605.8 1858.1,612.0 1858.6,600.3 1859.2,608.8 1860.0,600.0 1860.6,591.5 1861.1,591.5 1861.7,579.0 1862.1,583.2 1862.5,571.0 1862.8,576.0 1863.3,564.1 1863.7,565.5 1864.1,556.5 1864.5,559.0 1865.1,544.5 1865.5,549.1 1866.0,536.3 1866.4,539.2 1867.0,525.9 1867.5,529.1 1868.0,520.0 1868.4,512.7 1868.8,514.2 1869.2,503.0 1869.7,506.5 1870.2,494.2 1870.5,497.9 1871.1,484.5 1871.5,487.3 1872.0,478.0 1872.5,483.1 1872.9,494.5 1873.3,498.4 1873.8,511.4 1874.3,515.5 1874.8,529.1 1875.2,529.8 1875.6,541.3 1876.0,543.4 1876.5,558.4 1876.8,557.9 1877.4,571.3 1878.0,580.0 1878.5,584.4 1879.0,597.1 1879.4,597.5 1879.9,610.0 1880.4,612.8 1880.8,623.3 1881.3,625.6 1881.6,636.6 1882.1,638.8 1882.5,649.9 1883.0,650.5 1883.4,662.0 1883.7,660.5 1884.1,673.1 1884.8,680.0 1885.2,671.4 1885.5,674.3 1886.1,661.2 1886.5,664.4 1886.9,653.0 1887.3,655.0 1887.7,644.0 1888.2,645.9 1888.6,635.0 1889.1,635.4 1889.6,623.9 1890.1,622.9 1890.5,613.8 1890.9,614.4 1891.3,603.8 1892.0,600.0 1892.5,601.1 1893.0,588.0 1893.3,594.5 1893.9,582.6 1894.3,586.6 1894.6,576.6 1895.2,581.2 1895.7,567.7 1896.2,571.6 1896.7,560.5 1897.2,565.6 1897.6,554.1 1898.1,557.6 1898.6,546.2 1899.0,550.7 1899.4,539.8 1900.0,540.0 1900.5,544.0 1900.8,535.8 1901.2,547.1 1901.8,538.6 1902.3,548.4 1902.8,540.8 1903.3,551.6 1903.6,542.7 1904.2,552.6 1904.6,544.9 1905.2,554.8 1905.7,546.3 1906.1,556.7 1906.4,547.3 1907.0,558.7 1907.5,549.5 1907.9,559.5 1908.4,551.5 1908.9,562.5 1909.3,554.0 1910.0,560.0 1910.3,565.8 1910.7,560.8 1911.2,571.3 1911.8,567.3 1912.2,579.8 1912.8,575.6 1913.2,586.3 1913.6,582.3 1914.0,592.0 1914.5,588.0 1914.9,596.6 1915.4,592.8 1916.0,605.7 1916.4,600.4 1916.9,611.7 1917.4,606.9 1918.0,618.3 1918.5,614.4 1919.0,626.5 1919.4,622.2 1919.9,632.5 1920.3,627.6 1920.9,639.4 1921.4,634.4 1921.7,641.0 1922.0,642.1 1922.6,630.9 1923.0,632.7 1923.6,622.3 1924.1,624.5 1924.5,613.3 1925.0,615.9 1925.4,606.0 1925.8,608.5 1926.4,597.7 1926.9,600.9 1927.3,590.3 1927.7,593.5 1928.2,583.0 1928.5,585.2 1928.9,575.4 1929.2,580.5 1930.0,570.0 1930.5,564.4 1931.0,573.8 1931.5,562.2 1932.1,570.1 1932.4,560.9 1932.9,570.8 1933.2,558.9 1933.6,569.1 1933.9,557.9 1934.4,565.6 1934.9,558.7 1935.3,566.6 1935.7,556.1 1936.0,560.0 1936.3,568.4 1936.8,568.5 1937.1,577.9 1937.6,580.9 1938.0,590.3 1938.5,592.5 1938.9,604.0 1939.2,603.4 1939.7,616.1 1940.1,615.8 1940.7,630.8 1941.3,632.8 1941.6,643.2 1941.9,641.8 1942.4,654.6 1942.8,653.4 1943.2,666.5 1943.7,666.7 1944.3,681.9 1944.7,684.0 1945.1,676.6 1945.4,678.9 1945.8,666.9 1946.4,667.2 1946.7,657.4 1947.3,658.2 1947.7,646.6 1948.1,648.7 1948.5,637.5 1949.1,636.5 1949.6,624.4 1950.1,626.1 1950.5,612.8 1951.1,613.7 1951.7,600.9 1952.0,600.0 1952.6,595.5 1953.1,581.9 1953.4,583.9 1953.8,572.1 1954.3,571.0 1954.6,562.2 1955.2,560.9 1955.7,547.7 1956.2,547.5 1956.7,534.6 1957.2,533.0 1957.5,523.7 1958.0,520.0 1958.4,520.0 1958.7,509.8 1959.2,512.4 1959.6,501.0 1960.1,502.8 1960.4,492.7 1960.9,494.2 1961.2,484.5 1961.6,486.9 1962.0,480.0 1962.5,478.5 1962.8,489.2 1963.2,483.6 1963.7,495.3 1964.0,490.1 1964.4,500.0 1965.0,500.0"/>
<path class="c" stroke="#ff00ff" stroke-dasharray="10.87 10.87" d="M201.8,1211.6 202.3,1069.7 203.0,900.0 203.4,809.7 203.9,713.9 204.5,600.0 204.9,542.2 205.4,477.4 206.0,400.0 206.4,380.1 206.9,363.7 207.3,337.4 207.7,327.5 208.0,310.0 208.5,294.4 209.0,296.6 209.4,277.5 209.8,278.6 210.2,257.4 211.0,249.0 211.3,263.8 211.8,276.4 212.4,308.2 213.0,330.0 213.4,349.3 214.0,382.3 214.5,401.9 215.0,430.0 215.5,467.2 216.1,502.1 216.5,530.0 217.0,551.1 217.4,554.7 217.9,580.2 218.2,580.4 218.7,604.0 219.0,610.0 219.6,620.1 220.2,648.2 220.5,643.6 221.0,668.4 221.5,672.6 222.0,690.0 222.3,703.4 222.9,711.0 223.4,734.2 223.8,733.6 224.5,760.0 225.0,778.4 225.6,782.0 226.0,800.3 226.6,811.0 226.9,795.8 227.3,808.5 227.8,783.2 228.1,790.9 229.0,770.0 229.4,753.7 229.8,759.3 230.2,740.7 230.5,746.5 231.0,723.1 231.4,728.2 232.0,710.0 232.5,696.1 233.0,710.3 233.4,684.1 233.7,700.8 234.1,674.7 234.6,685.3 235.2,665.8 235.5,676.5 236.1,650.4 236.7,661.9 237.0,650.0 237.5,635.9 237.8,643.2 238.1,626.1 238.5,634.5 239.0,608.5 239.4,616.6 240.0,600.0 240.4,573.1 240.8,553.0 241.1,530.4 241.6,504.1 241.9,479.9 242.0,589.7 242.4,563.9 242.8,547.3 243.3,510.9 243.9,477.4 244.2,493.8 244.6,501.4 244.9,525.9 245.4,537.1 245.9,568.5 246.4,584.6 246.8,548.2 247.4,505.6 248.0,458.4 248.5,494.8 248.9,530.2 249.4,556.0 249.9,599.7 250.0,439.9 250.6,496.4 251.0,528.8 251.6,591.4 252.0,572.0 252.5,540.3 252.9,523.0 253.3,493.2 254.1,453.4 254.6,502.5 255.0,541.5 255.5,592.2 255.9,573.4 256.3,542.5 256.9,515.3 257.3,490.1 257.6,478.3 257.9,457.9 258.0,609.7 258.5,564.5 258.8,540.4 259.1,509.3 259.5,477.5 259.8,499.0 260.4,523.5 260.8,551.5 261.4,577.8 261.9,609.7 262.0,489.8 262.3,511.6 262.7,521.9 263.0,545.5 263.4,557.3 263.8,584.0 264.1,597.9 264.7,573.4 265.0,566.5 265.4,544.9 265.9,530.2 266.4,502.4 267.0,539.6 267.5,576.0 268.1,615.6 268.6,583.9 269.2,556.7 269.9,513.8 270.0,625.7 270.5,585.1 271.0,558.1 271.5,517.2 271.9,526.3 272.2,547.4 272.7,560.2 273.0,580.4 273.6,596.1 273.9,614.1 274.3,587.9 274.8,547.8 275.3,516.6 275.9,469.9 276.0,637.7 276.5,581.5 277.0,539.3 277.6,478.1 277.9,505.0 278.5,553.8 278.9,576.3 279.4,619.8 279.9,582.0 280.3,549.4 280.7,531.0 281.1,491.5 281.8,442.7 282.2,475.1 282.6,506.5 283.2,563.7 283.9,629.7 284.0,427.9 284.4,464.2 284.8,505.4 285.3,542.6 285.6,575.9 285.9,604.4 286.4,567.5 286.9,534.5 287.3,501.4 287.9,461.2 288.4,492.7 288.9,519.2 289.3,546.4 289.9,579.8 290.0,467.9 290.4,582.8 290.9,689.9 291.3,704.6 291.6,702.8 292.1,727.8 292.6,729.6 292.9,749.1 293.4,751.8 293.9,769.9 294.5,785.7 294.8,778.8 295.3,804.5 295.7,798.8 296.2,822.7 296.9,829.8 297.4,838.8 297.8,861.0 298.2,863.1 298.7,886.0 299.1,887.7 299.5,903.7 299.9,909.5 300.4,886.1 301.0,903.8 301.3,880.8 301.9,889.7 302.3,886.5 302.7,864.2 303.3,867.2 303.8,844.7 304.1,849.5 304.9,829.8 305.2,815.6 305.5,817.2 305.9,794.6 306.4,789.6 306.9,769.9 307.2,756.2 307.7,747.3 308.1,729.1 308.9,709.9 309.2,709.0 309.5,689.4 309.9,696.5 310.3,677.6 310.8,675.6 311.2,657.3 311.5,663.9 311.9,650.0 312.3,633.5 312.8,650.7 313.3,624.8 313.9,629.7 313.9,539.8 314.3,555.8 314.9,560.5 315.3,582.3 315.8,592.1 316.2,561.9 316.5,535.5 317.1,484.2 317.6,447.8 317.9,419.9 317.9,579.8 318.5,535.8 319.1,499.2 319.4,473.2 319.7,448.6 320.1,419.4 320.5,456.7 321.0,508.7 321.3,536.1 321.7,572.6 322.1,525.7 322.8,435.5 323.2,461.1 323.7,500.8 324.0,522.8 324.5,557.7 325.1,526.8 325.5,497.0 325.9,481.2 326.4,449.8 326.7,430.6 327.0,455.7 327.4,481.5 327.7,507.8 328.5,564.2 329.1,499.2 329.9,415.9 329.9,577.8 330.4,545.4 330.8,507.3 331.4,470.2 332.1,418.9 332.4,463.6 332.8,520.8 333.2,510.7 333.8,480.9 334.3,470.7 334.9,442.5 335.5,423.0 335.9,446.3 336.4,467.0 336.9,489.8 336.9,415.9 335.0,420.0 335.1,330.0 335.4,346.0 335.7,347.5 336.1,370.2 336.4,375.1 337.0,400.7 337.4,345.0 338.0,270.0 338.1,400.0 338.5,361.6 339.0,330.7 339.3,304.6 340.0,256.0 340.1,380.0 340.5,333.7 341.0,279.3 341.6,314.7 342.1,348.9 342.5,372.1 343.0,410.0 343.1,290.0 343.5,324.4 344.0,354.4 344.3,382.7 344.7,403.5 345.0,430.0 345.1,360.0 345.6,391.6 345.9,403.4 346.5,440.0 346.8,460.9 347.4,489.3 348.0,525.0 348.4,546.3 348.9,561.3 349.3,588.9 350.0,617.0 350.3,625.6 350.8,652.9 351.1,661.5 351.5,682.4 352.0,700.0 352.6,711.8 353.0,733.7 353.3,733.5 353.7,755.0 354.0,760.0 354.5,779.3 355.1,810.4 355.5,817.2 355.8,834.0 356.2,818.9 356.6,794.1 357.0,787.4 357.3,765.9 358.0,740.0 358.3,736.2 358.9,708.8 359.3,704.6 359.7,684.1 360.0,680.0 360.3,674.0 360.7,650.9 361.2,642.9 362.0,612.0 362.4,594.2 362.8,592.8 363.3,567.8 363.8,566.5 364.2,542.6 364.7,539.8 365.0,524.0 365.6,505.6 366.0,516.5 366.3,492.9 366.7,500.3 367.2,481.0 367.7,486.7 368.5,463.0 368.9,466.2 369.2,484.1 369.7,485.1 370.1,505.7 370.4,499.7 371.0,522.9 371.4,519.8 371.8,541.2 372.3,540.6 372.7,561.6 373.5,572.0 374.1,575.6 374.4,595.3 374.8,586.5 375.3,611.4 375.7,602.0 376.0,621.9 376.6,617.1 377.1,637.6 377.5,640.0 378.0,648.0 378.3,667.1 378.7,662.9 379.0,684.5 379.4,679.1 379.9,705.0 380.5,708.4 381.0,727.0 381.4,751.5 381.9,774.6 382.5,813.0 383.1,864.2 383.5,900.0 384.0,941.7 384.5,987.0 384.9,1022.5 385.5,1073.0 386.1,1121.1 386.5,1160.0 386.8,1174.6 387.4,1184.8 387.8,1208.3 388.2,1212.3 388.6,1236.0 389.0,1245.0 389.6,1256.9 389.9,1276.8 390.3,1279.1 390.9,1306.7 391.4,1315.0 391.9,1290.8 392.4,1280.1 392.9,1250.4 393.3,1238.0 393.7,1218.2 394.1,1190.2 394.8,1156.0 395.3,1070.0 395.8,1025.2 396.3,982.0 396.6,950.7 397.3,896.0 397.8,809.0 398.3,722.0 398.7,692.3 399.3,634.0 399.6,595.3 400.0,549.0 400.6,462.0 401.2,375.0 401.7,348.5 402.5,300.0 402.8,285.4 403.1,279.3 403.5,258.8 403.9,249.2 404.3,231.0 404.8,214.0 405.2,229.4 405.6,225.0 406.1,247.4 406.5,247.4 407.0,268.0 407.4,262.7 407.7,285.9 408.2,285.4 408.6,304.9 408.9,299.8 409.3,318.6 409.7,319.6 410.3,336.0 410.8,361.4 411.1,373.8 411.7,406.9 412.2,428.0 412.6,430.9 413.0,452.8 413.5,453.3 413.8,474.6 414.2,468.0 414.5,486.8 415.0,486.9 415.3,507.9 415.8,514.0 416.4,522.7 416.8,544.2 417.3,542.5 417.8,566.7 418.2,568.9 418.7,590.3 419.3,600.0 419.6,615.8 420.1,651.6 420.8,687.0 421.2,696.9 421.7,723.5 422.1,728.0 422.4,748.7 422.9,756.5 423.2,776.6 423.8,794.0 424.2,782.9 424.5,798.5 424.9,775.6 425.3,785.6 425.7,765.6 426.1,778.9 426.5,759.3 426.9,773.6 427.3,745.8 428.0,750.0 428.4,756.0 428.7,731.2 429.2,745.5 429.5,724.8 430.1,736.6 430.5,715.2 431.1,730.3 431.6,703.1 432.1,717.2 432.4,695.7 433.0,700.0 433.4,710.6 433.9,679.1 434.5,700.6 435.0,688.2 435.4,658.3 435.9,621.1 436.4,639.3 436.8,638.5 437.4,665.6 438.0,675.0 438.1,572.0 438.4,583.0 438.9,609.9 439.3,615.8 439.7,639.5 440.5,667.6 441.1,613.1 441.6,568.2 442.0,587.7 442.4,596.8 442.9,624.5 443.2,629.8 443.6,648.6 444.0,631.7 444.5,604.6 444.8,598.1 445.2,571.1 445.7,557.2 446.0,541.0 446.1,660.0 446.6,626.6 447.1,611.6 447.5,585.6 448.3,547.1 448.8,575.7 449.3,601.0 450.1,646.4 450.6,614.5 451.2,569.5 451.5,548.8 452.0,516.0 452.1,655.0 452.4,620.3 453.0,569.8 453.5,521.2 454.1,560.3 454.5,596.9 455.3,646.5 455.7,613.7 456.3,579.4 457.1,527.1 457.5,547.6 457.9,576.2 458.3,592.8 459.0,637.8 459.6,617.0 460.2,583.1 460.5,575.4 461.1,544.7 461.7,519.7 462.1,561.5 462.5,599.3 463.0,650.0 463.1,516.0 463.4,549.7 464.0,589.4 464.8,658.2 465.3,645.4 465.6,626.2 466.0,618.8 466.4,596.2 467.0,580.0 467.1,670.0 467.5,653.2 467.9,630.6 468.4,614.4 468.9,630.1 469.2,626.5 469.6,648.6 470.0,645.1 470.3,664.5 470.7,667.2 471.2,652.5 471.5,682.7 472.0,668.0 472.5,663.4 472.9,690.0 473.4,677.6 473.7,695.8 474.3,686.0 474.8,710.6 475.2,694.6 475.7,720.6 476.3,708.2 476.7,730.0 477.2,717.9 477.7,732.0 478.1,727.9 478.7,701.6 479.2,704.6 479.6,683.0 480.1,683.9 480.5,663.6 481.0,660.0 481.5,656.7 482.0,637.8 482.4,643.7 482.9,620.5 483.4,625.5 484.0,600.3 484.5,600.0 484.8,606.1 485.2,580.9 485.6,592.0 486.2,570.8 486.8,575.6 487.3,555.3 487.7,567.9 488.2,540.2 488.6,553.1 489.0,540.0 489.3,525.9 489.7,543.2 490.0,519.1 490.4,537.2 491.0,512.9 491.4,533.8 491.9,508.5 492.5,523.8 493.0,510.0 493.5,496.8 494.0,517.5 494.6,489.8 495.1,511.8 495.6,484.5 496.2,502.7 497.0,490.0 497.4,472.3 497.9,492.3 498.3,473.1 498.6,489.7 499.0,467.4 499.4,487.0 499.8,464.0 500.4,479.8 500.7,467.5 501.1,458.6 501.7,483.5 502.2,466.8 502.6,491.8 503.1,472.8 503.6,501.1 504.2,485.5 505.0,500.0 505.3,511.7 505.8,509.0 506.3,530.4 506.8,522.6 507.3,548.4 507.7,544.3 508.3,560.0 508.7,576.6 509.2,574.6 509.7,598.8 510.2,601.5 510.6,621.2 511.1,618.0 511.7,640.0 512.1,655.3 512.4,654.4 512.8,673.1 513.5,690.0 513.9,694.1 514.4,716.6 514.8,715.2 515.3,733.0 515.8,729.5 516.2,706.5 516.7,711.8 517.0,691.7 517.6,694.3 518.0,680.0 518.6,655.0 519.1,643.0 519.5,657.3 519.9,647.6 520.5,672.0 521.0,668.0 521.0,606.0 521.6,624.7 522.1,648.2 522.6,661.6 523.1,644.3 523.4,652.6 523.9,630.0 524.4,633.5 524.7,614.2 525.1,611.8 525.5,631.0 526.0,639.0 526.4,660.0 527.0,645.4 527.5,623.4 528.1,609.6 528.4,624.8 528.9,625.3 529.4,648.2 529.8,648.7 530.2,664.5 530.7,654.1 531.3,630.9 531.8,625.9 532.2,610.7 532.8,616.2 533.1,638.2 533.4,629.7 533.8,651.9 534.3,650.3 534.7,663.5 535.3,645.9 535.8,617.4 536.2,607.2 536.5,623.8 537.0,630.1 537.4,652.7 538.0,668.0 538.0,606.0 538.4,623.1 539.2,665.3 539.6,681.6 540.2,658.1 541.0,670.0 541.6,682.1 542.1,661.2 542.6,689.4 543.2,666.0 543.7,697.4 544.2,673.1 544.7,698.8 545.0,690.0 545.4,677.0 545.9,681.4 546.3,660.5 546.7,665.9 547.1,645.7 547.7,647.9 548.1,627.9 548.5,638.4 549.0,615.4 549.6,610.0 550.0,608.9 550.5,584.8 551.1,590.5 551.5,566.1 552.1,570.5 552.6,549.4 553.2,549.9 553.8,533.0 554.1,517.8 554.4,534.2 555.0,510.6 555.4,520.8 555.7,498.8 556.0,509.7 556.3,490.7 557.0,490.0 557.3,496.1 557.8,469.3 558.3,488.1 558.6,467.7 559.1,481.9 559.5,461.6 559.9,480.7 560.4,454.1 561.0,458.0 561.6,476.0 562.0,458.9 562.5,485.9 562.9,467.3 563.2,491.5 563.8,480.1 564.2,501.1 564.6,483.3 565.0,500.0 565.5,517.6 565.9,508.6 566.4,528.8 566.8,517.2 567.3,541.8 567.8,532.0 568.2,548.0 568.6,564.1 569.2,565.9 569.7,588.0 570.3,589.3 570.8,613.1 571.1,606.7 571.7,633.0 572.0,634.0 572.5,632.3 573.1,656.4 573.6,648.2 574.0,670.3 574.4,661.8 574.9,683.0 575.2,671.0 575.6,690.6 576.0,690.0 576.4,683.3 576.8,709.7 577.1,695.3 577.6,715.9 578.2,703.5 578.5,727.1 578.9,710.2 579.4,740.4 579.9,720.7 580.6,741.0 581.1,733.1 581.5,711.8 582.0,707.3 582.4,688.4 582.8,685.9 583.1,667.0 583.6,662.6 584.0,640.1 584.6,635.9 585.0,619.8 585.5,603.7 586.0,608.6 586.6,587.9 587.0,593.8 587.4,574.5 587.9,578.6 588.2,558.8 588.7,564.7 589.3,540.8 589.7,549.7 590.0,528.8 590.4,539.0 590.9,513.2 591.2,525.0 591.6,504.1 592.0,504.9 592.3,516.7 592.9,512.5 593.3,532.3 593.7,521.7 594.2,544.4 594.6,534.4 594.9,554.9 595.3,547.2 595.8,571.5 596.4,561.5 597.0,579.8 597.3,594.1 597.7,578.1 598.2,603.0 598.6,584.7 599.1,607.5 599.6,593.4 600.2,615.8 600.5,600.7 600.9,622.1 601.4,610.8 602.0,622.8 602.3,633.8 602.8,607.3 603.2,633.1 603.6,604.4 604.1,629.9 604.6,599.1 604.9,623.6 605.3,602.6 605.8,622.8 606.3,595.8 606.6,618.3 607.1,596.6 607.6,615.5 608.1,594.2 608.4,610.3 609.0,599.8 609.6,587.7 609.9,608.3 610.3,582.7 610.9,604.3 611.3,580.0 611.8,594.8 612.1,575.6 612.7,591.6 613.0,569.5 613.5,589.9 613.8,562.7 614.4,572.8 614.8,583.4 615.3,567.2 615.8,595.4 616.3,582.0 616.7,603.8 617.2,586.6 617.6,611.1 618.0,591.2 618.3,618.2 618.8,598.2 619.3,626.8 620.0,619.8 620.4,610.1 620.9,634.1 621.4,610.6 621.9,642.2 622.5,615.3 622.9,644.9 623.5,618.6 624.0,646.7 624.3,619.5 624.8,652.3 625.4,621.7 625.9,639.8 626.4,654.1 626.9,634.0 627.5,658.2 628.0,639.0 628.3,666.6 628.6,640.6 629.2,668.3 629.6,650.0 630.0,676.3 630.4,653.2 631.0,678.5 631.3,658.1 631.6,682.3 631.9,659.6 632.4,684.6 633.0,669.0 633.4,690.3 633.9,675.3 634.2,694.5 634.7,678.3 635.0,700.5 635.5,683.1 636.1,708.9 636.4,686.1 636.9,699.7 637.3,697.8 637.8,675.0 638.3,678.9 638.8,657.7 639.3,659.0 639.9,639.8 640.4,626.0 640.8,635.5 641.1,615.6 641.5,628.5 641.8,607.5 642.3,618.5 642.9,599.8 643.5,583.3 644.0,604.6 644.4,579.5 644.9,592.8 645.4,568.8 645.9,590.0 646.3,560.8 646.7,579.9 647.0,555.8 647.5,572.4 648.0,550.2 648.3,572.2 648.7,544.4 649.2,559.0 649.9,545.9 650.3,536.7 650.8,564.4 651.3,538.6 651.8,562.6 652.1,539.5 652.6,567.7 653.1,550.7 653.6,569.6 654.2,555.5 654.5,576.5 654.8,551.4 655.3,579.4 655.7,557.3 656.2,584.5 656.5,565.3 656.9,587.9 657.5,565.4 657.9,579.8 658.3,594.5 658.7,587.7 659.0,606.6 659.6,597.4 659.9,621.7 660.3,612.2 660.9,629.8 661.4,645.1 661.7,629.8 662.3,656.2 662.8,647.3 663.3,672.5 663.9,669.7 664.3,664.7 664.8,684.5 665.1,668.8 665.5,697.5 665.9,681.3 666.5,707.3 667.0,689.2 667.6,712.3 668.2,702.0 668.9,715.7 669.4,714.7 669.8,695.5 670.2,707.1 670.8,683.6 671.3,690.7 671.9,665.4 672.2,675.1 672.5,654.6 672.9,659.7 673.4,658.3 674.0,634.0 674.4,635.4 674.9,612.7 675.3,618.6 675.9,599.8 676.5,583.8 676.8,589.0 677.3,566.4 677.6,573.9 678.1,549.9 678.5,554.8 678.9,539.9 679.2,544.7 679.6,563.4 680.1,572.1 680.9,599.8 681.4,614.6 681.7,607.0 682.3,629.0 682.9,622.3 683.3,647.9 683.9,647.8 684.4,636.5 684.8,651.9 685.3,628.9 685.8,644.4 686.4,617.4 687.0,635.0 687.6,608.2 688.1,626.7 688.6,601.7 689.1,616.5 689.5,589.8 689.9,599.8 690.3,606.0 690.9,582.0 691.3,602.6 691.8,578.9 692.3,591.4 692.8,569.6 693.3,590.4 693.7,560.9 694.0,581.9 694.4,561.2 694.7,575.6 695.3,552.8 695.9,559.8 696.2,570.8 696.8,540.4 697.2,559.9 697.7,535.0 698.1,549.4 698.4,524.9 698.9,545.1 699.4,518.6 699.9,535.5 700.3,523.9 700.7,518.5 701.1,539.2 701.6,522.0 702.0,550.7 702.6,529.4 702.9,557.0 703.5,539.4 703.8,562.9 704.3,545.8 704.6,570.2 705.1,553.2 705.9,569.8 706.3,586.9 706.7,561.2 707.3,587.9 707.7,565.9 708.0,588.3 708.5,566.9 708.9,592.2 709.5,569.5 709.9,600.3 710.5,578.8 710.8,603.6 711.2,573.9 711.6,606.0 712.0,583.3 712.4,605.3 713.0,585.0 713.5,610.6 713.9,599.8 714.2,589.5 714.6,612.2 715.2,598.2 715.6,617.2 715.9,602.8 716.5,626.5 716.8,601.8 717.4,629.1 717.8,607.8 718.3,636.6 718.8,617.8 719.2,642.6 719.5,616.7 719.9,631.8 720.4,643.5 721.0,616.0 721.6,638.2 722.1,607.9 722.4,627.7 722.7,604.8 723.2,628.9 723.6,599.4 724.1,620.3 724.5,595.5 724.9,616.2 725.4,587.0 725.8,610.5 726.2,584.1 726.8,609.4 727.1,580.3 727.4,601.6 727.8,589.8 728.4,574.8 728.8,596.5 729.4,573.2 729.9,592.1 730.4,564.1 730.7,589.3 731.1,561.9 731.6,583.9 732.2,560.2 732.7,579.7 733.1,554.9 733.5,573.9 733.9,555.0 734.5,574.1 734.9,546.7 735.3,568.5 735.8,555.8 736.4,543.6 736.8,557.6 737.2,536.4 737.7,553.2 738.2,525.2 738.8,546.7 739.3,516.9 739.9,539.0 740.2,511.6 740.6,532.0 741.2,514.9 741.6,529.1 742.2,566.6 742.8,599.8 743.2,606.0 743.6,627.0 744.1,632.0 744.6,657.0 744.9,657.5 745.5,684.0 745.8,689.7 746.4,675.2 746.9,677.6 747.4,654.0 747.9,658.1 748.4,635.7 749.0,642.0 749.5,618.9 749.8,619.8 750.1,622.5 750.5,599.2 751.0,610.1 751.4,591.2 751.9,595.8 752.3,576.6 752.9,581.4 753.5,555.5 753.8,559.8 754.2,564.5 754.6,543.1 755.1,557.0 755.6,533.7 756.1,554.2 756.4,529.1 757.0,545.0 757.6,520.2 757.9,538.9 758.3,511.8 758.8,528.4 759.1,506.2 759.4,524.2 759.8,509.9 760.4,496.4 761.0,516.4 761.4,491.5 762.0,505.5 762.6,481.9 763.1,497.2 763.6,471.6 764.2,492.2 764.8,477.9 765.1,472.9 765.5,496.2 766.0,486.7 766.5,507.1 767.0,496.3 767.5,523.4 768.1,511.6 768.6,536.5 769.1,519.5 769.5,547.7 769.8,539.9 770.1,532.0 770.6,555.1 770.9,546.5 771.4,569.2 771.8,551.5 772.3,576.9 772.6,561.0 773.1,589.3 773.6,574.0 774.1,596.8 774.4,583.4 775.0,608.7 775.3,594.2 775.8,609.8 776.3,614.9 776.9,590.5 777.2,614.3 777.6,586.3 778.2,604.4 778.6,577.5 778.9,602.3 779.5,577.2 779.8,592.7 780.4,568.0 780.9,590.1 781.5,559.6 781.8,569.8 782.1,584.5 782.6,551.6 783.1,579.2 783.6,548.6 783.9,575.2 784.3,550.5 784.7,568.9 785.2,549.2 785.5,571.6 786.1,545.5 786.6,570.7 786.9,539.1 787.4,561.8 787.9,535.5 788.4,563.5 789.0,532.9 789.8,543.9 790.2,558.0 790.7,538.3 791.1,562.6 791.6,544.7 792.2,574.9 792.5,553.1 793.1,577.2 793.7,559.0 794.2,582.6 794.7,567.0 795.2,590.9 795.7,574.2 796.3,600.9 796.8,579.3 797.4,608.6 797.8,599.8 798.3,596.2 798.8,622.6 799.3,606.3 799.7,631.0 800.3,620.5 800.9,645.3 801.3,632.3 801.8,651.4 802.1,638.4 802.8,655.7 803.2,654.3 803.6,634.9 804.0,642.8 804.4,621.3 805.0,627.5 805.5,607.0 805.9,616.2 806.3,595.0 806.9,599.7 807.3,577.8 807.8,579.8 808.3,585.1 808.7,559.5 809.1,572.7 809.5,551.8 810.0,570.7 810.3,545.9 810.7,560.0 811.2,534.4 811.8,539.9 812.1,543.7 812.7,522.7 813.3,533.0 813.7,507.7 814.1,526.7 814.5,500.0 814.9,517.3 815.2,497.2 815.7,507.7 816.2,487.8 816.7,499.6 817.0,475.7 817.4,495.8 817.8,479.9 818.1,471.9 818.7,500.6 819.1,481.6 819.5,506.7 820.0,493.7 820.6,516.5 821.1,505.9 821.5,528.0 821.9,511.5 822.5,539.9 823.0,525.0 823.7,539.9 824.1,553.6 824.6,530.9 824.9,558.0 825.5,540.5 826.1,568.1 826.6,546.2 826.9,568.9 827.2,548.3 827.7,570.5 828.3,553.5 828.7,575.8 829.2,555.8 829.7,573.8 830.3,576.5 830.7,557.8 831.1,570.9 831.6,549.2 832.2,562.2 832.6,535.5 833.1,555.6 833.5,531.0 834.1,544.0 834.6,522.0 835.1,538.7 835.7,519.9 836.3,507.1 836.8,522.2 837.2,497.4 837.8,509.5 838.3,483.3 838.6,498.6 839.2,478.9 839.7,479.9 840.1,489.3 840.5,465.9 840.9,482.1 841.3,457.4 841.9,474.4 842.2,451.4 842.6,475.2 842.9,448.9 843.3,468.1 843.7,441.9 844.1,459.4 844.5,439.0 845.0,459.7 845.5,428.5 846.0,448.0 846.5,428.0 846.8,442.7 847.1,418.6 847.7,429.0 848.1,440.9 848.5,435.6 848.9,457.8 849.3,448.2 849.6,468.0 850.1,460.3 850.6,484.3 851.0,477.4 851.4,495.8 851.9,487.4 852.7,509.9 853.1,525.0 853.6,524.3 854.0,542.6 854.5,541.3 855.1,569.7 855.4,563.6 856.0,587.4 856.7,599.8 857.2,599.5 857.5,620.3 858.0,613.4 858.5,636.8 858.9,628.4 859.4,656.7 859.7,646.5 860.3,671.1 860.7,663.2 861.2,687.2 861.6,676.2 862.0,697.3 862.7,703.7 863.0,692.5 863.6,693.2 864.0,673.0 864.4,681.4 864.9,657.9 865.4,658.1 866.0,635.8 866.4,643.9 866.8,621.3 867.1,630.1 867.7,601.6 868.1,609.5 868.6,586.1 869.0,591.7 869.7,573.8 870.1,558.8 870.4,558.6 870.8,535.9 871.4,532.2 871.9,504.6 872.7,487.9 873.2,488.3 873.7,462.7 874.1,478.0 874.4,456.6 874.8,467.2 875.4,440.4 875.7,453.4 876.2,427.8 876.7,437.3 877.1,416.4 877.5,425.9 878.0,402.3 878.7,400.0 876.0,400.0 876.5,398.5 877.0,376.6 877.5,385.3 877.9,362.5 878.3,375.7 878.6,353.3 879.0,355.0 879.3,369.8 879.8,371.1 880.2,396.6 880.6,394.9 881.2,421.0 881.5,421.4 882.0,440.0 882.4,452.0 883.0,448.8 883.5,468.6 883.9,458.5 884.4,485.6 884.8,474.2 885.2,496.3 886.0,500.0 886.4,506.8 886.9,528.9 887.4,529.8 887.8,550.5 888.2,548.3 888.6,570.0 889.0,575.0 889.6,578.9 890.2,600.5 890.7,597.3 891.2,615.8 891.6,608.6 892.1,634.2 892.5,625.1 893.0,640.0 893.5,652.2 893.8,631.6 894.4,660.9 894.8,637.2 895.2,667.8 895.6,646.0 896.2,672.9 896.6,650.6 896.9,678.4 897.4,655.4 897.7,668.0 898.2,672.2 898.8,647.2 899.3,656.2 899.7,636.1 900.1,645.5 900.4,621.8 900.9,635.3 901.4,610.6 901.8,625.3 902.2,599.8 902.5,614.7 903.0,600.0 903.6,583.9 904.0,590.7 904.6,564.8 905.1,576.0 905.4,555.8 905.9,558.8 906.3,538.2 906.8,546.8 907.2,525.6 907.6,536.7 908.0,520.0 908.5,504.9 908.9,518.8 909.4,490.7 909.8,502.1 910.3,481.3 910.7,491.8 911.3,465.2 911.7,477.5 912.1,456.0 912.5,464.1 913.0,450.0 913.5,438.1 914.0,454.9 914.5,429.1 914.9,450.1 915.4,423.7 916.0,442.6 916.3,418.5 916.8,438.0 917.1,413.7 917.5,431.2 918.1,403.0 918.4,425.6 918.8,410.0 919.3,407.2 919.7,432.3 920.2,421.8 920.5,442.4 920.8,432.1 921.4,453.2 921.8,444.1 922.3,467.0 922.6,457.4 923.0,470.0 923.4,485.2 924.0,477.5 924.3,499.9 924.9,496.1 925.3,516.7 925.8,513.8 926.3,535.7 927.0,540.0 927.4,531.5 928.0,558.0 928.3,539.8 928.8,566.1 929.4,548.3 929.9,573.5 930.3,557.6 930.8,584.4 931.1,567.6 931.6,582.0 932.2,588.5 932.6,561.4 932.9,586.4 933.4,558.9 934.0,577.8 934.5,549.5 935.0,568.0 935.6,541.5 936.2,558.6 936.7,533.6 937.2,549.8 937.7,527.8 938.2,545.1 938.6,520.3 939.1,539.3 939.4,513.5 940.0,520.0 940.3,532.1 940.9,508.2 941.4,525.2 941.7,500.4 942.3,525.8 942.7,502.5 943.2,525.2 943.6,496.5 944.1,518.6 944.5,489.6 944.8,517.0 945.3,487.4 946.0,500.0 946.4,509.0 946.9,486.4 947.5,507.0 948.0,475.2 948.6,498.7 949.0,470.0 949.5,497.9 950.0,480.0 950.6,464.7 951.0,485.8 951.4,462.1 951.9,489.2 952.5,460.4 952.9,485.9 953.3,460.5 953.8,481.4 954.3,457.9 954.6,484.2 955.2,451.0 955.8,474.3 956.2,456.0 956.6,475.0 957.0,452.5 957.4,470.5 957.7,448.9 958.1,474.3 958.5,449.6 958.9,467.4 959.3,446.2 959.6,471.1 960.1,438.3 960.7,464.1 961.2,437.3 962.0,450.0 962.5,456.6 962.8,433.2 963.3,457.6 963.8,432.1 964.4,455.2 964.9,428.1 965.4,448.9 965.9,421.4 966.4,445.3 966.9,415.4 967.4,437.2 967.7,417.4 968.2,440.8 968.8,408.1 969.4,433.8 969.7,404.0 970.2,426.1 970.7,404.9 971.2,422.5 972.0,410.0 972.3,399.5 972.8,416.1 973.4,394.5 974.0,416.7 974.4,390.1 974.8,417.4 975.4,390.1 975.8,408.0 976.2,387.9 976.5,405.9 976.8,380.6 977.3,409.5 978.0,392.0 978.4,380.3 978.9,411.2 979.2,383.7 979.7,416.7 980.2,390.2 980.6,415.0 980.9,399.3 981.2,418.4 981.8,401.3 982.4,426.3 983.0,420.0 983.5,407.5 983.9,436.5 984.3,410.3 984.7,438.7 985.1,414.1 985.5,438.4 985.9,413.8 986.3,446.4 986.8,432.0 987.3,416.1 987.7,422.4 988.3,397.2 988.7,402.2 989.0,380.9 989.4,391.1 989.8,374.0 990.3,359.9 990.6,378.7 991.0,353.0 991.5,369.5 991.9,348.0 992.3,361.9 992.8,338.5 993.2,353.1 993.6,332.3 993.9,347.0 994.5,322.0 994.9,337.1 995.5,313.6 995.8,322.0 996.1,334.3 996.6,316.8 997.2,348.3 997.6,327.9 998.0,355.3 998.4,339.8 998.8,361.0 999.4,349.3 999.8,371.1 1000.3,358.5 1000.8,383.2 1001.3,364.0 1001.8,380.0 1002.1,396.1 1002.6,372.2 1003.2,400.0 1003.5,376.6 1004.0,399.3 1004.5,384.3 1004.9,403.6 1005.2,387.2 1005.6,414.6 1006.2,393.9 1006.6,418.7 1007.1,391.3 1007.4,422.1 1007.8,410.0 1008.1,401.8 1008.5,427.8 1009.1,402.8 1009.7,430.4 1010.0,410.5 1010.5,438.7 1010.8,416.3 1011.3,441.2 1011.9,417.4 1012.4,446.7 1013.0,423.6 1013.5,453.6 1014.0,434.0 1014.8,449.0 1015.2,455.7 1015.6,428.5 1016.0,442.9 1016.3,420.8 1016.7,439.8 1017.0,425.5 1017.4,413.4 1018.0,414.7 1018.4,414.0 1018.8,391.4 1019.3,396.6 1019.6,378.7 1020.0,378.0 1020.0,400.0 1020.4,400.6 1021.0,375.2 1021.5,380.6 1021.9,356.1 1022.3,358.4 1022.7,376.6 1023.3,382.6 1023.7,399.6 1024.2,387.6 1024.7,358.9 1025.2,347.4 1025.6,325.5 1026.0,318.0 1026.0,400.0 1026.4,388.2 1027.0,358.8 1027.4,348.4 1027.8,323.4 1028.4,303.5 1028.8,323.8 1029.2,341.0 1029.6,364.7 1029.9,378.9 1030.4,347.2 1030.8,331.1 1031.1,308.2 1031.6,283.5 1032.0,258.0 1032.0,390.0 1032.5,348.9 1033.0,305.9 1033.5,258.7 1033.9,277.5 1034.4,306.9 1034.9,328.4 1035.7,371.8 1036.2,351.8 1036.6,327.0 1036.9,313.6 1037.4,285.7 1038.0,258.0 1038.0,370.0 1038.4,352.8 1038.8,320.2 1039.3,289.3 1039.7,261.0 1040.3,284.7 1040.7,307.7 1041.1,324.0 1041.6,353.1 1042.1,373.9 1042.4,350.5 1043.0,323.3 1043.3,294.8 1044.0,258.0 1044.0,395.0 1044.6,365.4 1045.1,327.8 1045.6,298.1 1046.1,318.7 1046.6,336.1 1047.2,367.5 1048.0,400.0 1048.0,330.0 1048.6,355.2 1049.0,385.5 1049.5,410.0 1050.3,460.0 1050.8,481.3 1051.1,503.7 1051.7,529.0 1052.3,551.2 1052.7,574.9 1053.1,585.5 1053.7,617.0 1054.3,650.3 1054.6,661.5 1055.3,703.0 1055.6,735.3 1056.2,795.0 1056.8,838.2 1057.2,876.0 1057.8,963.0 1058.2,991.4 1058.6,1020.4 1059.0,1049.0 1059.4,1070.7 1059.7,1083.5 1060.2,1110.0 1060.8,1200.0 1061.1,1224.1 1061.7,1258.0 1062.0,1282.0 1062.3,1297.3 1062.6,1294.8 1063.1,1318.4 1063.4,1319.2 1064.2,1346.0 1064.7,1332.9 1065.0,1312.6 1065.4,1305.4 1066.0,1282.0 1066.6,1260.3 1066.9,1258.7 1067.5,1231.7 1067.9,1230.6 1068.5,1204.4 1068.8,1200.0 1069.2,1095.0 1069.6,1067.6 1070.2,1026.0 1070.8,973.5 1071.2,938.0 1071.7,911.9 1072.1,886.0 1072.8,852.0 1073.4,783.0 1073.8,759.3 1074.2,726.7 1074.7,700.9 1075.0,678.0 1075.4,658.0 1075.9,647.5 1076.3,625.4 1077.0,606.0 1077.4,566.9 1077.7,529.0 1078.1,516.4 1078.6,521.5 1079.1,500.2 1079.7,504.9 1080.0,490.0 1080.4,477.4 1081.0,480.6 1081.5,452.9 1081.9,460.2 1082.2,439.4 1082.7,446.1 1083.2,424.2 1083.7,420.0 1084.3,422.3 1084.7,402.5 1085.1,412.3 1085.7,389.1 1086.2,402.1 1086.5,381.0 1086.9,400.5 1087.5,373.2 1088.1,385.5 1088.6,362.5 1089.1,375.1 1089.7,360.0 1090.3,343.7 1090.7,366.2 1091.3,341.2 1091.7,363.9 1092.2,338.2 1092.7,350.0 1093.0,364.4 1093.6,352.4 1094.1,379.2 1094.5,362.2 1095.0,388.7 1095.4,373.7 1095.7,395.3 1096.1,384.2 1096.5,405.8 1096.9,391.7 1097.3,414.7 1097.7,402.4 1098.1,422.4 1098.4,413.3 1098.9,438.1 1099.3,422.8 1100.0,439.9 1100.4,453.4 1100.9,452.2 1101.3,473.4 1101.7,466.8 1102.1,491.3 1102.5,486.7 1103.0,501.9 1103.5,516.3 1103.9,510.3 1104.3,530.6 1104.7,526.0 1105.0,546.9 1105.4,535.0 1106.0,553.8 1106.4,568.1 1106.9,552.9 1107.5,577.6 1108.0,554.0 1108.5,580.2 1108.8,559.6 1109.3,589.4 1109.8,567.7 1110.3,595.6 1110.7,576.9 1111.2,598.2 1111.6,579.6 1112.0,595.8 1112.3,611.5 1112.7,586.8 1113.2,610.4 1113.7,589.1 1114.0,612.6 1114.5,590.9 1114.9,620.8 1115.2,598.6 1116.0,609.8 1116.3,621.7 1116.9,592.5 1117.4,617.9 1118.0,595.3 1118.5,612.1 1119.0,586.9 1119.5,612.8 1119.9,586.7 1120.4,606.5 1120.7,581.9 1121.2,605.5 1121.5,584.7 1122.0,605.1 1122.4,577.4 1122.7,602.6 1123.3,579.0 1123.8,596.9 1124.3,572.0 1124.7,595.4 1125.1,571.1 1125.4,599.1 1126.0,565.9 1126.4,594.3 1127.0,564.0 1127.5,591.9 1128.1,564.3 1128.5,584.7 1128.8,562.9 1129.4,587.3 1130.0,571.8 1130.4,562.1 1130.8,589.7 1131.3,569.4 1131.6,592.0 1132.1,568.2 1132.5,592.4 1132.9,575.9 1133.3,602.4 1133.8,578.4 1134.3,603.2 1134.9,581.2 1135.4,612.7 1135.8,587.6 1136.3,611.7 1136.7,589.9 1137.2,619.2 1137.6,597.1 1138.0,624.7 1138.4,596.9 1139.0,629.7 1139.3,602.9 1139.9,619.8 1140.3,630.7 1140.9,617.0 1141.3,641.6 1141.7,627.6 1142.2,650.7 1142.5,635.5 1142.9,653.7 1143.3,637.4 1143.9,655.7 1144.2,666.7 1144.7,641.3 1145.2,658.9 1145.7,627.8 1146.0,651.6 1146.4,622.9 1146.8,646.1 1147.2,614.7 1147.8,632.4 1148.1,613.2 1148.5,629.6 1148.8,606.2 1149.2,625.1 1149.5,602.1 1150.0,617.9 1150.4,588.8 1150.7,609.5 1151.2,587.5 1151.6,604.2 1151.9,589.8 1152.5,578.4 1152.8,608.7 1153.3,585.3 1153.7,613.5 1154.3,590.4 1154.7,619.9 1155.0,597.3 1155.4,623.3 1155.8,605.1 1156.2,624.1 1156.8,610.8 1157.1,631.6 1157.5,616.6 1157.9,637.5 1158.4,622.4 1158.9,645.1 1159.5,628.0 1160.1,654.8 1160.4,634.3 1161.0,659.2 1161.4,638.2 1161.9,651.7 1162.5,656.7 1163.0,633.4 1163.4,649.9 1163.8,627.1 1164.1,642.1 1164.6,620.6 1165.0,635.1 1165.4,611.1 1165.9,624.1 1166.2,601.4 1166.6,620.6 1167.1,592.4 1167.6,608.2 1168.1,585.9 1168.7,598.2 1169.2,576.5 1169.9,579.8 1170.3,589.1 1170.7,563.6 1171.1,583.3 1171.5,562.9 1172.0,578.5 1172.5,553.0 1172.9,575.0 1173.4,550.4 1173.9,566.8 1174.3,543.7 1174.9,567.0 1175.3,537.1 1175.8,556.8 1176.3,538.0 1176.8,557.4 1177.3,527.5 1177.8,550.8 1178.1,528.2 1178.6,546.4 1179.1,517.4 1179.4,541.3 1179.9,527.9 1180.4,518.8 1180.8,547.0 1181.3,526.2 1181.7,555.8 1182.2,537.3 1182.5,556.9 1182.9,540.7 1183.4,564.3 1183.9,548.8 1184.5,574.0 1184.8,554.6 1185.2,581.9 1185.8,567.5 1186.3,590.0 1186.8,571.3 1187.2,601.4 1187.6,580.4 1188.1,605.0 1188.6,590.8 1189.1,613.7 1189.9,609.8 1190.3,598.0 1190.7,612.5 1191.2,591.5 1191.5,607.3 1191.8,580.0 1192.3,596.9 1192.6,577.9 1193.1,590.5 1193.7,567.4 1194.2,585.4 1194.7,557.6 1195.1,574.1 1195.7,552.3 1196.2,564.4 1196.7,538.0 1197.2,554.6 1197.8,530.7 1198.2,547.7 1198.8,520.2 1199.2,543.6 1199.7,515.9 1200.2,532.2 1200.6,507.8 1201.2,525.4 1201.9,507.9 1202.5,500.3 1203.0,529.4 1203.5,513.2 1203.8,535.6 1204.3,518.0 1204.8,545.1 1205.4,524.3 1205.9,552.2 1206.4,534.3 1206.7,557.0 1207.0,536.7 1207.5,561.8 1207.8,542.5 1208.2,572.4 1208.8,552.5 1209.3,580.0 1209.7,559.8 1210.3,590.1 1210.8,573.3 1211.4,598.1 1211.9,589.8 1212.3,575.8 1212.7,599.8 1213.3,575.2 1213.8,603.6 1214.2,575.2 1214.7,601.7 1215.3,577.0 1215.7,602.3 1216.2,575.8 1216.8,605.2 1217.2,578.3 1217.8,603.8 1218.4,578.8 1219.0,599.4 1219.5,579.0 1219.9,587.8 1220.3,594.1 1220.6,569.8 1221.2,593.6 1221.7,567.7 1222.1,584.7 1222.7,557.3 1223.0,583.0 1223.3,555.7 1223.9,575.0 1224.3,549.0 1224.7,573.3 1225.0,549.1 1225.6,567.5 1226.0,542.7 1226.3,561.0 1226.7,536.3 1227.1,556.6 1227.4,532.9 1227.9,539.8 1228.2,553.1 1228.6,535.9 1229.1,563.0 1229.7,543.1 1230.1,569.6 1230.7,558.2 1231.1,576.0 1231.4,561.7 1231.9,589.7 1232.4,570.6 1232.7,596.6 1233.0,575.6 1233.5,598.1 1233.8,593.8 1234.2,582.8 1234.6,597.3 1235.0,573.2 1235.5,593.0 1235.9,571.0 1236.3,589.3 1236.6,568.4 1237.2,586.9 1237.5,560.3 1238.0,575.4 1238.5,555.0 1239.1,573.0 1239.4,550.8 1239.9,566.4 1240.2,540.2 1240.8,559.1 1241.4,536.1 1241.9,550.6 1242.4,529.8 1242.9,550.1 1243.3,523.4 1243.8,543.6 1244.2,517.8 1244.7,536.6 1245.2,511.7 1245.8,517.9 1246.1,531.3 1246.5,513.3 1246.9,532.5 1247.2,516.6 1247.6,541.3 1248.0,522.3 1248.5,546.5 1248.8,527.0 1249.4,548.5 1250.0,532.9 1250.5,558.7 1251.0,536.0 1251.4,560.7 1251.8,545.6 1252.2,567.1 1252.5,549.3 1253.1,571.7 1253.4,555.0 1253.7,576.8 1254.1,558.8 1254.6,581.2 1255.1,560.4 1255.4,586.7 1255.8,579.8 1256.3,567.3 1256.7,597.0 1257.0,571.2 1257.5,592.7 1257.9,573.5 1258.4,593.5 1258.8,574.4 1259.2,595.5 1259.6,573.3 1260.0,596.7 1260.5,573.3 1261.0,595.7 1261.4,573.1 1261.8,596.8 1262.4,578.9 1262.8,597.7 1263.3,579.3 1263.8,603.1 1264.4,581.0 1264.8,603.2 1265.3,581.6 1265.8,591.8 1266.2,598.0 1266.7,573.3 1267.2,597.2 1267.7,568.2 1268.1,589.3 1268.5,561.0 1268.9,584.8 1269.3,561.4 1269.9,578.9 1270.4,550.2 1270.7,574.2 1271.1,546.7 1271.7,566.4 1272.3,540.9 1272.8,549.8 1273.1,559.8 1273.5,540.9 1273.9,566.5 1274.2,543.1 1274.8,571.4 1275.2,541.8 1275.6,567.9 1276.0,549.4 1276.4,569.6 1276.8,545.4 1277.4,574.4 1277.9,548.0 1278.4,579.1 1278.9,557.2 1279.3,582.9 1279.8,569.8 1280.2,556.5 1280.8,582.7 1281.2,563.1 1281.7,587.4 1282.1,562.3 1282.5,594.3 1282.8,569.9 1283.3,598.8 1283.8,571.6 1284.1,600.8 1284.6,575.4 1285.0,604.5 1285.3,580.2 1285.8,603.4 1286.2,582.0 1286.6,609.0 1287.0,583.5 1287.5,610.9 1287.8,599.8 1288.1,586.8 1288.5,602.9 1289.1,580.4 1289.6,594.4 1289.9,576.1 1290.4,592.1 1290.8,564.8 1291.4,584.3 1291.8,556.2 1292.1,577.0 1292.5,553.0 1292.8,575.5 1293.2,553.1 1293.7,569.7 1294.0,545.4 1294.6,558.8 1295.0,533.2 1295.4,553.9 1295.9,531.7 1296.3,550.5 1296.8,533.8 1297.1,532.2 1297.6,554.3 1297.9,544.2 1298.5,567.4 1298.8,553.6 1299.3,575.2 1299.9,569.0 1300.2,590.5 1300.7,579.0 1301.1,603.3 1301.8,603.8 1302.3,589.5 1302.8,601.4 1303.2,581.0 1303.6,594.8 1304.0,568.9 1304.5,588.6 1305.0,561.8 1305.4,575.2 1305.9,549.1 1306.3,564.4 1306.8,543.3 1307.2,557.1 1307.7,533.7 1308.2,550.0 1308.8,522.2 1309.1,537.1 1309.8,521.9 1310.3,504.4 1310.8,530.8 1311.3,502.1 1311.7,532.8 1312.0,504.3 1312.5,528.0 1313.0,505.1 1313.3,522.9 1313.7,504.3 1314.2,527.2 1314.7,500.4 1315.0,521.7 1315.6,495.8 1316.1,519.2 1316.5,496.5 1316.9,515.2 1317.3,489.6 1317.7,517.7 1318.1,494.5 1318.5,515.8 1319.0,491.5 1319.3,512.5 1319.8,490.3 1320.2,509.5 1320.8,483.1 1321.4,511.3 1321.9,479.5 1322.3,511.1 1322.8,477.4 1323.3,503.0 1323.8,477.3 1324.2,503.2 1324.8,489.9 1325.1,483.0 1325.6,506.2 1326.0,487.8 1326.4,513.8 1326.8,489.4 1327.3,518.8 1327.6,494.6 1327.9,520.6 1328.3,504.5 1328.9,526.3 1329.4,507.5 1329.9,536.7 1330.5,517.2 1330.9,542.3 1331.3,519.4 1331.9,550.4 1332.5,530.0 1333.0,555.5 1333.3,534.0 1333.7,549.8 1334.3,566.5 1334.8,556.6 1335.4,578.9 1335.9,569.1 1336.4,596.7 1336.7,591.8 1337.1,588.7 1337.5,610.0 1337.8,595.8 1338.2,619.2 1338.7,619.8 1339.1,605.6 1339.5,629.5 1340.0,603.4 1340.5,620.8 1341.0,597.9 1341.6,617.4 1342.0,587.7 1342.4,608.4 1342.8,584.2 1343.1,608.0 1343.6,577.4 1344.1,600.8 1344.6,575.8 1345.1,592.9 1345.5,571.5 1346.0,593.2 1346.4,565.9 1347.0,585.3 1347.3,557.9 1347.7,569.8 1348.1,578.4 1348.5,554.7 1349.0,580.4 1349.6,556.0 1350.1,579.1 1350.6,552.8 1351.0,573.0 1351.6,549.7 1351.9,573.3 1352.5,545.6 1352.9,568.0 1353.3,545.1 1353.7,565.2 1354.1,546.6 1354.5,566.6 1355.0,543.0 1355.5,561.4 1356.0,541.1 1356.3,563.6 1356.8,540.8 1357.3,564.3 1357.6,539.4 1358.0,563.9 1358.3,533.8 1358.9,556.0 1359.7,543.8 1360.3,531.3 1360.7,552.9 1361.1,523.8 1361.6,552.3 1362.2,524.7 1362.7,547.0 1363.3,517.1 1363.8,539.4 1364.4,510.3 1364.8,539.1 1365.3,511.6 1365.7,519.9 1366.1,534.0 1366.7,502.3 1367.0,534.5 1367.5,505.8 1368.1,529.4 1368.4,501.0 1368.8,531.5 1369.4,501.9 1369.8,525.3 1370.2,502.6 1370.6,526.7 1371.2,503.2 1371.6,527.7 1372.0,500.9 1372.5,522.0 1372.8,495.0 1373.2,518.7 1373.8,495.1 1374.3,517.7 1374.8,497.6 1375.3,518.0 1375.6,495.9 1376.0,515.3 1376.4,492.0 1376.7,503.9 1377.0,519.1 1377.6,491.3 1378.1,521.2 1378.5,501.6 1379.0,524.5 1379.5,505.1 1379.9,530.8 1380.5,503.2 1380.9,533.1 1381.5,514.6 1381.9,538.5 1382.4,517.8 1382.8,538.3 1383.3,520.8 1383.6,540.8 1384.1,520.7 1384.5,549.4 1384.9,524.0 1385.3,551.3 1385.7,539.8 1386.1,527.0 1386.6,557.4 1387.0,527.8 1387.4,555.1 1387.8,534.9 1388.4,560.8 1388.8,539.3 1389.2,558.0 1389.7,538.2 1390.0,561.5 1390.6,542.0 1390.9,567.3 1391.3,543.8 1391.7,555.8 1392.0,568.9 1392.5,543.5 1393.0,559.1 1393.4,532.4 1393.8,557.1 1394.3,530.1 1394.9,551.4 1395.2,527.7 1395.7,544.1 1396.3,520.7 1396.8,535.3 1397.3,513.5 1397.9,533.7 1398.7,515.9 1399.0,505.0 1399.4,533.2 1399.9,506.9 1400.3,537.4 1400.6,515.0 1401.1,541.5 1401.6,518.5 1402.1,541.7 1402.5,519.1 1402.8,544.4 1403.3,525.9 1403.6,548.9 1404.1,527.0 1404.7,556.2 1405.1,533.6 1405.7,549.8 1406.1,566.6 1406.7,541.6 1407.2,563.8 1407.8,541.7 1408.3,571.0 1408.6,543.5 1409.1,576.0 1409.4,549.9 1409.8,576.0 1410.4,555.8 1410.9,577.4 1411.2,555.6 1411.6,585.2 1411.9,556.7 1412.3,586.1 1412.7,564.1 1413.2,587.1 1413.8,566.3 1414.2,586.5 1414.6,570.1 1415.2,595.6 1415.8,569.7 1416.2,596.6 1416.5,574.5 1417.1,595.2 1417.5,578.9 1417.8,603.8 1418.3,576.6 1418.8,603.2 1419.2,578.2 1419.7,594.8 1420.2,603.2 1420.6,576.8 1421.0,598.9 1421.6,578.2 1422.0,594.0 1422.4,571.8 1422.7,592.9 1423.3,568.0 1423.7,594.4 1424.2,561.3 1424.7,589.8 1425.1,559.4 1425.6,582.8 1426.1,557.7 1426.5,580.6 1426.8,557.5 1427.2,576.9 1427.6,553.6 1428.1,578.0 1428.7,544.3 1429.0,572.9 1429.7,555.8 1430.1,549.3 1430.5,569.5 1430.8,546.3 1431.4,571.6 1431.8,551.7 1432.2,576.9 1432.6,557.1 1433.1,584.2 1433.5,563.3 1434.0,581.7 1434.5,561.8 1435.1,589.1 1435.6,564.4 1436.1,596.9 1436.5,569.0 1436.9,600.6 1437.5,572.0 1437.9,603.7 1438.2,579.8 1438.6,591.8 1439.1,603.3 1439.7,576.9 1440.3,595.7 1440.8,566.4 1441.3,593.0 1441.9,567.5 1442.5,586.4 1443.0,561.0 1443.5,584.1 1444.1,550.6 1444.5,575.2 1444.9,550.1 1445.4,575.6 1445.9,545.8 1446.3,567.0 1446.7,542.9 1447.1,561.4 1447.6,549.8 1448.0,535.4 1448.6,561.6 1448.9,533.4 1449.4,558.2 1449.8,536.7 1450.1,561.4 1450.5,528.9 1450.9,554.1 1451.3,533.9 1451.8,556.4 1452.2,531.8 1452.6,555.9 1453.2,522.8 1453.7,548.7 1454.1,523.8 1454.6,544.4 1455.0,524.3 1455.4,547.4 1455.9,520.4 1456.3,544.7 1456.6,531.8 1457.1,517.3 1457.5,543.4 1457.9,525.3 1458.5,553.5 1459.0,526.4 1459.5,552.9 1460.0,532.3 1460.5,557.8 1461.1,535.7 1461.4,554.4 1461.9,536.1 1462.4,564.4 1463.0,535.4 1463.5,568.2 1463.8,540.1 1464.2,568.3 1464.6,541.4 1465.0,569.4 1465.3,548.3 1465.8,571.6 1466.3,551.6 1466.9,575.5 1467.3,553.1 1467.9,580.6 1468.4,551.9 1468.8,581.6 1469.2,557.8 1469.6,569.8 1470.2,585.2 1470.5,555.7 1470.9,578.9 1471.5,552.2 1471.8,577.5 1472.4,556.4 1472.8,578.1 1473.2,547.2 1473.6,578.2 1474.2,550.5 1474.7,575.2 1475.0,543.6 1475.6,574.3 1476.1,542.0 1476.4,570.4 1476.8,540.9 1477.4,565.3 1477.9,540.6 1478.3,566.6 1478.8,544.4 1479.2,564.9 1479.6,551.8 1480.1,540.7 1480.6,565.5 1481.1,545.8 1481.7,575.9 1482.0,553.3 1482.3,581.6 1482.6,554.4 1482.9,583.3 1483.3,560.8 1483.8,584.5 1484.1,567.9 1484.6,594.3 1485.2,572.6 1485.6,594.3 1485.9,576.5 1486.3,599.6 1486.8,578.6 1487.3,609.2 1487.6,597.8 1484.0,555.8 1484.4,553.6 1484.9,564.7 1485.4,560.4 1485.9,571.1 1486.2,564.6 1486.7,574.9 1487.3,572.8 1487.8,583.3 1488.3,579.1 1488.8,587.3 1489.1,583.1 1489.5,591.8 1490.0,589.1 1490.5,597.7 1491.0,597.8 1491.5,592.3 1492.1,593.3 1492.5,585.0 1492.9,587.5 1493.3,579.6 1493.6,583.2 1494.1,572.6 1494.6,577.9 1495.1,567.3 1495.4,572.3 1495.8,562.2 1496.2,565.7 1496.8,555.3 1497.4,559.2 1498.0,551.8 1498.4,545.8 1498.9,547.3 1499.5,538.2 1500.0,539.9 1500.4,531.2 1500.9,533.8 1501.5,522.6 1502.0,525.7 1502.5,516.0 1503.0,515.9 1503.6,522.9 1504.1,516.5 1504.4,525.5 1504.9,518.6 1505.5,528.5 1505.8,522.6 1506.3,532.0 1506.7,526.5 1507.0,535.8 1507.5,530.2 1508.0,539.3 1508.5,533.3 1509.1,541.4 1509.7,536.9 1510.1,546.9 1510.4,539.0 1510.8,549.7 1511.3,542.7 1512.0,549.8 1512.4,555.3 1512.8,550.1 1513.2,558.1 1513.8,553.7 1514.3,562.5 1514.7,555.9 1515.1,564.1 1515.7,559.9 1516.1,569.7 1516.4,563.3 1516.8,570.8 1517.1,566.2 1517.5,575.2 1518.0,568.3 1518.4,577.7 1518.7,570.7 1519.3,580.2 1520.0,579.8 1520.5,575.3 1521.1,581.6 1521.6,574.0 1522.0,581.4 1522.6,572.2 1522.9,580.2 1523.4,572.6 1523.8,578.2 1524.2,572.0 1524.5,578.9 1524.9,569.9 1525.5,577.0 1525.9,569.8 1526.4,574.6 1527.0,567.0 1527.6,572.9 1528.1,566.9 1528.6,573.4 1529.0,563.9 1529.4,572.2 1530.0,564.3 1530.4,571.6 1530.9,562.9 1531.5,568.9 1531.9,560.2 1532.3,568.7 1532.7,560.8 1533.2,567.9 1533.8,558.8 1534.1,565.9 1534.5,557.1 1535.1,564.3 1535.5,555.8 1535.9,559.8 1536.5,562.3 1537.0,551.9 1537.5,558.3 1537.9,550.4 1538.3,556.3 1538.9,548.8 1539.2,553.1 1539.6,546.8 1540.1,551.6 1540.5,542.6 1540.9,548.9 1541.3,541.5 1541.6,547.1 1542.1,537.4 1542.7,543.0 1543.2,536.5 1543.5,540.6 1543.9,532.2 1544.4,539.0 1545.0,530.1 1545.3,537.9 1545.7,527.1 1546.1,534.9 1546.7,524.4 1547.3,532.4 1547.7,522.7 1548.2,527.8 1548.6,521.1 1548.9,526.8 1549.4,518.8 1549.9,519.9 1550.5,523.5 1550.8,513.1 1551.2,522.1 1551.6,511.8 1551.9,519.0 1552.4,512.1 1552.8,517.4 1553.4,510.2 1553.7,514.9 1554.2,506.8 1554.7,514.2 1555.2,505.3 1555.8,512.9 1556.3,503.2 1556.6,510.1 1557.0,502.9 1557.4,508.8 1557.9,503.9 1558.3,497.4 1558.7,498.2 1559.1,488.6 1559.7,489.2 1560.2,477.5 1560.5,481.2 1561.0,469.8 1561.3,472.9 1561.9,463.9 1562.4,463.4 1562.7,472.6 1563.3,468.7 1563.7,479.4 1564.2,475.1 1564.5,484.7 1564.8,480.1 1565.2,489.8 1565.5,484.7 1565.9,493.1 1566.4,490.9 1566.8,499.0 1567.3,496.5 1567.9,507.2 1568.3,502.9 1568.7,512.3 1569.1,506.8 1569.9,515.9 1570.3,519.5 1570.7,512.2 1571.3,519.0 1571.7,512.4 1572.1,520.6 1572.5,513.2 1572.9,520.0 1573.4,512.9 1573.8,519.1 1574.3,512.0 1574.8,519.7 1575.1,511.1 1575.6,519.4 1576.2,511.6 1576.7,519.8 1577.2,512.7 1577.7,518.6 1578.0,510.8 1578.4,520.9 1578.9,512.2 1579.2,519.1 1579.7,511.6 1580.2,519.7 1580.7,512.1 1581.0,519.1 1581.3,512.1 1581.9,515.9 1582.3,520.5 1582.7,514.0 1583.1,520.9 1583.5,514.9 1583.9,521.5 1584.2,515.6 1584.7,523.7 1585.0,515.1 1585.4,523.8 1585.9,515.9 1586.4,523.2 1586.9,517.6 1587.4,524.9 1587.8,518.5 1588.4,524.9 1588.8,519.0 1589.4,526.7 1589.9,523.9 1590.3,518.3 1590.9,520.7 1591.5,508.9 1591.8,513.4 1592.3,503.8 1592.6,509.5 1593.1,498.2 1593.5,503.3 1593.9,491.9 1594.3,497.2 1594.9,489.9 1595.2,483.8 1595.8,484.1 1596.3,472.5 1596.6,476.1 1597.0,464.7 1597.4,467.0 1597.8,458.3 1598.2,459.6 1598.7,448.4 1599.1,451.2 1599.9,439.9 1600.4,439.6 1600.9,449.8 1601.5,447.6 1602.1,458.7 1602.5,455.2 1602.9,463.7 1603.4,461.3 1603.9,472.4 1604.2,466.0 1604.8,476.7 1605.3,473.8 1605.6,483.3 1606.2,481.0 1606.7,492.1 1607.3,489.0 1607.8,499.5 1608.4,496.0 1608.8,506.9 1609.2,502.7 1609.9,509.9 1610.3,514.7 1610.8,509.5 1611.3,517.9 1611.6,510.6 1612.0,518.7 1612.4,512.1 1612.9,521.4 1613.5,516.7 1613.9,525.2 1614.4,518.9 1614.9,526.5 1615.4,520.9 1615.8,528.8 1616.2,523.4 1616.6,530.1 1617.0,524.0 1617.5,532.9 1617.9,527.1 1618.3,536.2 1618.8,530.4 1619.3,538.4 1619.9,535.8 1620.2,530.2 1620.6,535.7 1621.1,524.4 1621.5,529.2 1621.9,519.4 1622.3,525.6 1622.9,514.9 1623.4,518.9 1623.8,507.7 1624.2,513.5 1624.5,503.8 1625.0,509.0 1625.3,501.0 1625.7,504.5 1626.0,496.5 1626.5,500.4 1627.1,488.9 1627.4,494.5 1627.8,485.1 1628.1,488.4 1628.6,480.8 1629.0,484.3 1629.4,475.5 1629.8,475.9 1630.3,477.9 1630.7,471.1 1631.0,478.1 1631.5,469.5 1631.9,474.2 1632.5,466.3 1632.8,473.4 1633.2,464.4 1633.7,470.2 1634.2,463.0 1634.7,470.2 1635.2,461.2 1635.5,466.7 1636.0,458.0 1636.5,463.8 1637.1,455.3 1637.6,462.8 1638.1,453.5 1638.4,461.5 1638.9,451.4 1639.4,458.7 1639.8,453.9 1640.2,450.1 1640.5,458.4 1640.9,451.1 1641.3,459.1 1641.7,454.1 1642.2,461.5 1642.7,453.9 1643.1,463.0 1643.5,455.6 1644.0,465.6 1644.5,456.8 1644.9,466.7 1645.4,459.5 1645.7,467.9 1646.2,461.5 1646.6,469.1 1647.0,460.7 1647.6,469.0 1648.0,463.9 1648.3,470.3 1648.8,463.3 1649.2,472.0 1649.8,469.9 1650.4,465.2 1650.8,471.5 1651.3,463.0 1651.8,468.0 1652.2,461.1 1652.5,466.5 1653.0,458.7 1653.5,464.7 1653.8,456.4 1654.4,463.3 1654.8,454.7 1655.3,459.9 1655.6,452.9 1656.1,459.0 1656.5,451.4 1656.9,457.0 1657.2,448.4 1657.8,453.4 1658.2,445.1 1658.7,452.7 1659.2,444.6 1659.8,445.9 1660.3,448.6 1660.8,441.9 1661.2,447.1 1661.8,440.5 1662.3,447.3 1662.6,439.7 1663.2,446.5 1663.6,436.9 1664.0,443.5 1664.6,436.4 1665.2,442.7 1665.7,434.1 1666.1,441.4 1666.5,434.3 1666.9,439.8 1667.3,433.1 1667.7,439.8 1668.1,432.1 1668.7,439.1 1669.0,429.1 1669.5,437.1 1669.8,432.9 1670.3,429.8 1670.7,438.7 1671.2,433.6 1671.6,443.0 1672.0,437.1 1672.5,444.8 1673.0,439.7 1673.3,449.5 1673.8,443.1 1674.2,450.4 1674.6,444.5 1674.9,454.9 1675.5,447.7 1675.8,455.8 1676.2,451.4 1676.5,460.3 1677.0,454.8 1677.8,459.9 1678.2,460.5 1678.6,453.0 1679.0,457.5 1679.3,450.5 1679.9,455.1 1680.2,447.1 1680.8,450.0 1681.3,441.6 1681.8,447.7 1682.4,437.8 1682.9,441.8 1683.5,432.0 1683.8,437.8 1684.2,428.4 1684.8,433.4 1685.2,426.7 1685.6,431.7 1686.1,421.5 1686.5,428.0 1686.8,419.1 1687.4,423.7 1687.9,413.1 1688.3,420.6 1688.7,410.4 1689.0,416.4 1689.3,408.4 1689.8,410.0 1690.1,413.8 1690.5,405.3 1690.8,410.2 1691.2,403.1 1691.6,409.3 1692.0,400.8 1692.6,406.4 1693.2,396.7 1693.5,402.6 1694.0,393.7 1694.4,399.4 1694.9,391.2 1695.3,397.7 1695.7,387.5 1696.2,394.3 1696.7,385.3 1697.3,391.8 1697.7,383.2 1698.3,388.5 1698.7,378.7 1699.1,386.1 1699.8,380.0 1700.0,395.0 1700.0,360.0 1700.4,360.4 1700.7,376.4 1701.1,374.4 1701.5,386.8 1701.8,384.1 1702.4,366.8 1702.9,364.4 1703.3,347.4 1703.7,347.9 1704.1,334.5 1704.5,344.0 1705.1,363.2 1705.5,368.5 1706.0,385.0 1706.0,320.0 1706.5,335.0 1706.9,338.0 1707.4,360.1 1708.1,375.8 1708.6,359.2 1709.0,353.3 1709.3,336.8 1709.9,326.3 1710.5,306.7 1710.9,325.0 1711.3,350.0 1712.0,380.0 1712.0,286.0 1712.5,307.4 1712.9,335.2 1713.5,362.9 1713.9,347.6 1714.5,337.7 1714.9,320.0 1715.4,310.2 1715.9,291.6 1716.5,305.1 1716.8,320.4 1717.2,329.9 1718.0,356.0 1718.0,278.0 1718.5,303.7 1719.0,324.0 1719.7,354.9 1720.2,343.7 1720.6,327.5 1721.0,321.4 1721.6,299.7 1722.1,289.0 1722.5,311.9 1722.9,323.5 1723.2,341.7 1723.6,355.2 1724.0,375.0 1724.0,278.0 1724.6,310.4 1725.1,334.7 1725.5,357.9 1725.9,375.2 1726.2,359.2 1726.6,351.4 1727.1,329.6 1727.5,321.5 1727.9,305.4 1728.5,286.6 1729.1,326.0 1729.6,353.0 1730.0,380.0 1730.0,284.0 1730.5,309.7 1731.0,329.6 1731.4,356.3 1731.9,377.1 1732.2,359.8 1732.9,329.7 1733.3,342.4 1733.7,347.6 1734.2,366.1 1734.5,368.3 1735.0,385.0 1735.0,340.0 1735.6,364.2 1736.1,383.6 1736.7,367.1 1737.1,388.7 1737.7,365.5 1738.2,382.4 1738.6,368.1 1739.1,365.8 1739.5,388.5 1740.0,382.0 1740.3,398.0 1740.9,433.0 1741.3,450.5 1742.0,490.0 1742.4,504.9 1742.7,490.5 1743.2,515.7 1743.8,508.1 1744.2,528.1 1745.0,530.0 1745.5,547.4 1746.0,574.8 1746.4,580.1 1746.8,608.4 1747.2,615.0 1748.0,650.0 1748.4,671.8 1748.9,689.6 1749.3,712.6 1749.6,719.9 1750.0,740.0 1750.5,764.7 1750.9,778.0 1751.3,800.4 1751.6,808.1 1752.0,830.0 1752.6,854.3 1753.0,859.4 1753.3,878.3 1753.7,881.6 1754.4,910.0 1754.8,935.3 1755.1,948.6 1755.5,975.1 1756.0,1003.0 1756.5,1011.5 1756.8,1030.2 1757.3,1031.1 1757.9,1056.8 1758.3,1056.3 1758.7,1076.6 1759.0,1080.0 1759.4,1090.1 1760.0,1117.7 1760.4,1123.2 1760.9,1149.0 1761.5,1158.6 1762.0,1180.0 1762.3,1174.9 1762.6,1155.0 1763.2,1143.8 1763.8,1117.1 1764.3,1109.3 1764.7,1088.0 1765.0,1080.0 1765.5,1068.1 1766.0,1043.4 1766.3,1039.9 1766.8,1016.5 1767.2,1013.6 1767.6,989.4 1768.0,982.0 1768.3,971.9 1768.7,946.6 1769.1,940.4 1769.4,919.5 1770.0,896.0 1770.3,875.8 1771.0,830.0 1771.3,787.5 1772.0,700.0 1772.4,630.6 1773.0,530.0 1773.5,505.3 1773.9,491.6 1774.3,470.6 1775.0,440.0 1775.4,432.1 1775.9,405.9 1776.4,399.2 1776.9,380.0 1777.5,405.7 1778.1,438.8 1778.4,452.5 1779.0,484.9 1779.5,503.5 1780.0,530.0 1780.5,547.8 1781.0,538.8 1781.4,563.5 1782.0,556.3 1782.4,575.6 1782.7,568.6 1783.1,588.8 1783.4,580.2 1783.7,601.8 1784.1,591.8 1784.7,612.8 1785.0,606.2 1785.3,626.9 1786.0,630.0 1786.6,643.2 1787.2,670.1 1787.7,679.6 1788.2,703.7 1788.8,714.5 1789.1,733.0 1789.6,739.5 1790.0,758.0 1790.4,762.0 1790.7,736.4 1791.1,745.2 1791.6,726.4 1792.0,731.9 1792.5,709.6 1792.9,719.7 1793.4,694.1 1793.7,707.4 1794.2,683.9 1794.6,691.7 1795.0,669.9 1795.6,674.4 1796.0,655.7 1796.6,660.8 1797.1,634.5 1797.6,643.7 1798.0,630.0 1798.6,613.9 1799.1,631.1 1799.5,604.7 1800.0,624.2 1800.4,602.9 1800.7,617.8 1801.1,596.0 1801.6,608.8 1802.0,584.5 1802.5,602.6 1803.0,578.5 1803.5,597.3 1803.9,572.5 1804.4,587.3 1804.8,563.8 1805.1,580.3 1805.5,559.3 1805.8,581.6 1806.1,551.0 1806.6,573.4 1807.1,543.9 1807.5,562.8 1808.0,550.0 1808.5,533.4 1808.9,545.9 1809.4,524.3 1809.9,536.6 1810.5,512.0 1811.0,524.9 1811.3,499.3 1811.7,514.3 1812.0,502.0 1812.4,504.0 1812.8,526.9 1813.3,524.5 1813.7,547.9 1814.3,549.9 1814.8,569.6 1815.2,568.6 1815.6,588.0 1816.1,587.8 1816.6,613.5 1817.0,616.0 1817.5,613.2 1818.0,635.9 1818.4,629.3 1818.8,650.3 1819.2,637.0 1819.8,666.6 1820.4,658.1 1821.0,673.0 1821.5,689.0 1821.9,686.9 1822.4,709.5 1822.8,706.2 1823.3,729.0 1823.8,727.2 1824.2,751.0 1824.6,745.2 1825.0,767.9 1825.3,764.7 1825.7,781.8 1826.3,783.6 1826.8,803.0 1827.2,805.1 1827.8,779.8 1828.1,788.9 1828.6,765.9 1829.0,774.6 1829.3,755.7 1829.6,763.1 1830.1,743.2 1830.4,752.1 1830.8,729.3 1831.1,742.8 1832.0,720.0 1832.6,701.8 1832.9,707.0 1833.5,688.5 1833.8,674.0 1834.2,667.5 1834.5,647.6 1835.1,637.8 1835.4,617.2 1836.0,600.0 1836.0,660.0 1836.5,643.7 1836.9,622.1 1837.4,609.1 1838.0,582.7 1838.4,592.7 1838.7,611.7 1839.2,617.1 1839.8,643.3 1840.2,626.8 1840.7,597.8 1841.0,590.4 1841.5,558.5 1842.0,540.0 1842.0,635.0 1842.4,616.9 1842.7,588.3 1843.0,573.0 1843.5,537.5 1844.1,550.3 1844.4,570.0 1845.0,578.2 1845.4,599.8 1845.7,602.2 1846.3,623.6 1846.8,598.3 1847.1,576.8 1847.6,554.5 1848.3,518.2 1848.8,548.6 1849.4,582.7 1850.0,615.0 1850.0,505.0 1850.5,523.7 1851.0,551.1 1851.3,559.9 1851.8,587.5 1852.3,608.7 1852.7,578.7 1853.3,543.5 1853.8,505.6 1854.3,523.0 1854.6,545.3 1855.2,561.6 1855.6,588.6 1856.0,600.0 1856.0,499.0 1856.6,519.8 1857.1,549.6 1857.4,558.7 1857.8,584.2 1858.2,598.2 1858.7,562.1 1859.1,537.8 1859.5,508.2 1859.9,520.4 1860.4,544.1 1860.9,554.6 1861.3,581.6 1861.8,594.5 1862.3,565.3 1862.7,552.3 1863.3,519.4 1863.8,538.0 1864.2,566.8 1865.0,600.0 1865.0,515.0 1865.4,530.1 1865.8,553.6 1866.3,569.0 1866.9,597.1 1867.3,573.6 1867.8,535.8 1868.1,513.8 1868.5,529.4 1868.9,533.8 1869.2,551.2 1869.5,554.6 1870.1,579.2 1870.4,584.1 1870.9,604.3 1871.5,572.4 1871.9,542.2 1872.4,512.0 1872.9,545.9 1873.4,573.1 1874.0,610.0 1874.0,500.0 1874.5,522.6 1874.8,533.2 1875.3,567.3 1875.9,587.3 1876.3,610.6 1876.6,597.6 1877.0,570.9 1877.4,556.0 1877.9,528.9 1878.3,541.8 1878.7,571.7 1879.2,586.6 1880.0,630.0 1880.0,540.0 1880.4,575.5 1881.2,633.2 1881.7,619.8 1882.2,625.6 1882.7,612.3 1883.0,612.6 1883.5,636.0 1884.0,623.6 1884.8,646.0 1885.2,652.9 1885.7,627.6 1886.0,643.8 1886.3,620.1 1886.6,638.2 1887.1,616.2 1887.4,635.1 1888.0,606.0 1888.5,626.7 1889.0,598.6 1889.6,617.0 1890.0,600.0 1890.4,588.4 1890.9,612.5 1891.3,582.3 1891.6,597.1 1892.1,591.2 1892.7,564.7 1893.0,570.1 1893.5,550.4 1893.9,556.9 1894.3,580.9 1895.0,600.0 1895.0,520.0 1895.4,528.4 1895.9,556.1 1896.3,560.6 1896.8,585.6 1897.1,593.9 1897.7,556.4 1898.1,531.7 1898.6,491.9 1899.0,470.0 1899.0,590.0 1899.4,561.5 1900.0,507.3 1900.3,480.4 1900.8,512.2 1901.2,529.7 1901.5,557.4 1901.9,577.6 1902.2,553.1 1902.6,529.0 1903.0,497.7 1903.3,477.5 1903.7,450.0 1903.8,580.0 1904.3,548.2 1904.7,529.7 1905.1,500.6 1905.5,479.0 1905.9,498.0 1906.3,509.2 1906.8,537.7 1907.2,552.7 1907.6,573.3 1908.0,590.0 1908.0,480.0 1908.4,491.3 1908.9,521.3 1909.3,536.4 1909.7,559.8 1910.1,572.1 1910.4,591.0 1911.0,577.9 1911.6,549.4 1912.0,540.0 1912.0,600.0 1912.6,584.7 1913.1,560.3 1913.5,556.7 1913.9,538.4 1914.3,546.5 1914.7,568.0 1915.0,567.9 1915.5,593.4 1915.8,597.0 1916.3,577.0 1916.7,574.0 1917.2,546.8 1917.7,537.9 1918.3,557.0 1918.8,564.3 1919.1,583.1 1919.4,578.8 1920.0,600.0 1920.0,530.0 1920.6,553.4 1921.1,558.7 1921.4,579.3 1921.7,580.6 1922.1,596.6 1922.6,579.4 1923.2,548.4 1923.9,521.9 1924.2,539.3 1924.5,546.3 1925.3,584.4 1925.8,564.7 1926.2,539.8 1926.7,519.0 1927.0,500.0 1927.0,590.0 1927.4,565.3 1927.8,548.8 1928.3,513.8 1928.6,497.0 1929.1,519.6 1929.7,528.6 1930.1,549.9 1930.5,554.0 1930.8,573.5 1931.4,587.7 1931.8,556.9 1932.1,534.0 1932.5,501.0 1933.0,470.0 1933.0,590.0 1933.4,574.2 1933.9,539.5 1934.3,527.7 1934.9,490.7 1935.3,523.9 1935.7,560.2 1936.1,586.6 1936.7,566.6 1937.0,562.8 1937.5,541.1 1938.0,530.0 1938.0,600.0 1938.6,592.7 1939.2,566.4 1939.9,555.7 1940.4,574.1 1940.8,573.6 1941.4,601.9 1942.0,612.0 1942.0,570.0 1942.6,580.2 1943.0,602.1 1943.5,610.3 1944.1,598.2 1944.6,620.4 1945.0,601.7 1945.7,612.0 1946.0,615.5 1946.5,590.5 1946.9,608.4 1947.4,585.6 1947.8,595.2 1948.2,575.3 1948.5,588.6 1949.0,566.3 1949.3,575.7 1950.0,560.0 1950.4,543.6 1950.8,554.6 1951.2,537.8 1951.7,544.7 1952.1,523.7 1952.5,534.9 1953.1,511.2 1953.6,519.7 1954.1,497.1 1954.4,504.7 1955.0,490.0 1955.5,476.1 1955.9,495.4 1956.2,471.7 1956.7,483.9 1957.3,457.9 1957.8,476.3 1958.2,454.5 1958.7,465.0 1959.0,444.3 1959.6,459.9 1960.0,433.8 1960.5,449.6 1960.9,431.8 1961.3,447.8 1961.7,432.0 1962.3,419.6 1962.6,447.1 1963.1,413.5 1963.4,441.0 1964.0,417.6 1964.5,440.6 1965.0,428.0"/>
<path class="c" stroke="#0000ff" stroke-dasharray="43.48 43.48" d="M201.8,1211.6 202.2,1114.9 203.0,900.0 203.5,800.0 203.9,722.4 204.5,600.0 205.0,529.2 205.5,467.0 206.0,400.0 206.4,380.7 206.7,369.1 207.3,338.1 207.7,327.5 208.0,310.0 208.3,298.4 208.7,299.8 209.1,284.0 209.6,280.7 210.1,262.9 210.5,263.2 211.0,249.0 211.6,268.4 212.1,297.3 212.5,308.0 213.0,330.0 213.5,356.6 214.1,380.2 214.6,414.7 215.0,430.0 215.5,464.4 216.1,503.9 216.5,530.0 216.9,540.0 217.4,561.7 217.8,569.8 218.4,593.0 219.0,610.0 219.6,623.2 220.0,641.2 220.5,645.2 220.8,662.7 221.4,670.0 222.0,690.0 222.6,710.7 223.1,717.3 223.7,742.3 224.1,746.3 224.5,760.0 225.0,778.1 225.5,781.3 225.9,795.9 226.2,797.6 226.6,811.0 227.0,808.3 227.6,789.9 227.9,794.8 228.5,773.2 229.0,770.0 229.4,766.3 229.8,750.9 230.4,748.2 230.9,727.7 231.4,724.7 232.0,710.0 232.3,699.3 232.7,710.4 233.2,689.0 233.8,695.7 234.2,676.1 234.7,682.5 235.2,665.6 235.5,673.7 235.9,655.7 236.4,662.5 237.0,650.0 237.3,639.9 237.8,643.1 238.4,621.1 238.8,626.2 239.3,605.3 240.0,600.0 240.6,603.6 241.0,588.1 241.4,601.5 241.9,589.7 242.0,479.9 242.3,495.2 242.7,519.9 243.2,544.2 243.8,577.7 244.3,558.6 244.8,532.2 245.1,520.2 245.7,491.8 246.1,477.4 246.5,499.7 246.8,514.1 247.2,543.0 247.6,562.5 248.0,584.1 248.5,550.6 248.9,516.4 249.4,481.9 249.9,439.9 250.0,599.7 250.4,559.9 250.8,523.2 251.1,491.0 251.5,455.3 252.0,497.1 252.5,523.0 252.9,553.9 253.4,592.4 253.9,565.5 254.3,541.6 254.7,515.3 255.1,496.3 255.5,473.0 255.9,494.5 256.3,518.5 256.8,544.3 257.3,576.6 257.9,609.7 258.0,457.9 258.5,495.5 259.0,535.9 259.3,558.0 259.8,606.4 260.2,590.8 260.7,557.2 261.1,537.6 261.9,489.8 262.0,609.7 262.4,583.2 262.7,561.2 263.1,531.5 263.5,508.7 264.1,535.2 264.6,554.4 265.2,584.4 265.6,594.6 266.1,616.9 266.5,598.3 266.8,576.8 267.3,553.0 267.7,531.3 268.0,517.4 268.4,541.6 268.9,565.9 269.4,598.0 269.9,625.7 270.0,513.8 270.5,533.9 271.1,559.9 271.5,574.6 272.0,597.9 272.4,612.3 272.9,584.3 273.2,570.1 273.5,543.7 274.0,521.1 274.3,499.3 274.6,526.7 275.2,574.3 275.9,637.7 276.0,469.9 276.4,507.9 276.9,559.9 277.5,613.9 277.9,585.9 278.3,557.5 278.7,528.7 279.0,505.7 279.7,453.6 280.2,498.1 280.8,549.7 281.1,576.2 281.6,620.4 281.9,591.7 282.3,556.5 282.8,522.4 283.3,472.5 283.9,427.9 284.0,629.7 284.4,595.2 284.8,560.8 285.2,529.4 285.7,487.0 286.1,456.3 286.5,485.5 286.8,503.9 287.2,531.4 288.0,577.8 288.4,550.2 288.7,536.4 289.3,502.8 289.9,467.9 290.0,579.8 290.5,648.9 290.9,689.9 291.3,698.2 291.8,718.2 292.2,721.3 292.8,743.6 293.3,749.2 293.9,769.9 294.2,780.0 294.6,779.0 294.9,795.5 295.2,791.0 295.7,810.4 296.1,809.4 296.9,829.8 297.3,844.4 297.7,847.5 298.0,863.9 298.5,871.6 298.9,889.4 299.2,891.1 299.5,903.7 300.0,908.6 300.4,888.0 300.9,902.4 301.2,885.6 301.9,889.7 302.4,883.5 302.8,865.9 303.4,864.4 303.7,846.9 304.1,849.3 304.5,832.2 304.9,829.8 305.4,816.1 305.9,795.7 306.2,791.6 306.9,769.9 307.4,751.6 307.7,746.7 308.2,728.1 308.9,709.9 309.3,707.4 309.8,687.9 310.1,689.0 310.5,671.6 311.0,672.4 311.4,654.1 311.9,650.0 312.4,621.9 312.9,591.9 313.4,565.0 313.9,539.8 313.9,629.7 314.4,581.3 314.8,552.8 315.4,493.7 316.0,510.3 316.4,532.3 316.8,540.2 317.4,566.9 317.9,579.8 317.9,419.9 318.3,449.9 318.9,495.1 319.4,531.8 319.8,566.6 320.4,507.3 321.1,428.1 321.7,468.1 322.3,514.2 323.0,563.1 323.5,526.9 323.8,507.7 324.2,476.6 325.0,424.4 325.6,493.8 326.2,568.7 326.7,524.9 327.1,497.9 327.5,464.9 328.2,419.3 328.7,469.3 329.1,505.2 329.9,577.8 329.9,415.9 330.3,445.6 330.8,469.3 331.3,510.2 331.9,541.8 332.2,518.5 332.7,500.0 333.2,466.7 333.5,452.3 333.9,430.5 334.4,462.7 335.0,508.6 335.5,485.0 335.9,464.3 336.3,445.5 336.9,415.9 336.9,489.8 335.0,330.0 335.1,420.0 335.5,375.4 335.8,344.4 336.1,307.9 336.6,330.6 336.9,350.4 337.5,375.4 338.0,400.0 338.1,270.0 338.5,296.7 338.8,310.1 339.2,335.3 339.6,355.1 340.0,380.0 340.1,256.0 340.6,331.6 341.0,389.3 341.3,370.8 341.8,353.1 342.3,324.3 342.7,308.3 343.0,290.0 343.1,410.0 343.5,397.0 343.8,394.4 344.2,375.9 344.7,371.8 345.0,360.0 345.1,430.0 345.5,425.6 346.1,446.2 346.5,440.0 346.9,459.4 347.4,495.7 348.0,525.0 348.4,540.7 348.8,563.3 349.3,581.4 349.7,606.2 350.0,617.0 350.5,636.2 350.9,658.5 351.4,672.5 352.0,700.0 352.5,718.6 353.0,727.4 353.6,751.7 354.0,760.0 354.6,770.4 355.1,793.0 355.8,806.0 356.2,791.7 356.7,784.3 357.0,767.7 357.6,756.3 358.0,740.0 358.5,721.6 358.9,716.8 359.5,691.8 360.0,680.0 360.6,664.0 361.0,643.9 361.5,632.6 362.0,612.0 362.5,594.0 363.0,584.9 363.5,562.1 363.9,559.6 364.2,543.9 365.0,524.0 365.3,522.2 365.7,507.6 366.3,505.8 366.8,489.2 367.3,487.9 367.8,469.1 368.5,463.0 368.8,474.9 369.3,475.7 369.8,495.7 370.2,495.1 370.8,516.4 371.1,513.8 371.5,532.7 372.1,538.0 372.6,557.1 373.0,556.6 373.5,572.0 374.0,584.0 374.4,583.3 374.9,600.1 375.2,594.1 375.7,614.1 376.1,610.3 376.5,626.9 377.0,625.7 377.5,640.0 377.9,652.8 378.3,654.9 378.6,671.7 379.0,675.3 379.5,693.6 379.9,695.5 380.2,712.3 381.0,727.0 381.4,749.6 381.9,782.5 382.5,813.0 382.9,845.8 383.5,900.0 384.0,946.8 384.5,987.0 384.8,1013.4 385.5,1073.0 385.9,1108.8 386.5,1160.0 387.0,1174.2 387.6,1198.7 388.0,1205.6 388.4,1227.0 389.0,1245.0 389.4,1253.9 389.9,1274.9 390.2,1277.4 390.8,1300.7 391.4,1315.0 391.7,1299.5 392.1,1288.2 392.7,1259.9 393.3,1238.0 393.8,1211.4 394.4,1178.3 394.8,1156.0 395.3,1070.0 395.8,1024.7 396.3,982.0 396.8,940.8 397.3,896.0 397.8,809.0 398.3,722.0 398.9,671.3 399.3,634.0 399.6,595.4 400.0,549.0 400.6,462.0 401.2,375.0 401.6,366.3 402.0,346.8 402.4,337.8 402.7,321.5 403.1,316.5 403.5,300.0 403.8,288.6 404.2,292.2 404.7,273.8 405.1,277.6 405.4,258.1 405.9,261.2 406.2,245.1 406.8,243.4 407.2,232.0 407.5,240.4 408.1,264.9 408.7,279.0 409.0,294.7 409.6,307.6 410.3,336.0 410.8,361.7 411.2,378.6 411.7,404.4 412.2,428.0 412.6,432.8 413.0,449.2 413.4,451.3 413.7,467.9 414.0,468.9 414.4,483.5 414.8,484.3 415.1,501.8 415.5,502.4 415.8,514.0 416.3,530.2 416.7,531.4 417.3,552.9 417.6,552.8 417.9,569.7 418.5,574.9 418.9,594.4 419.3,600.0 419.9,632.3 420.2,657.0 420.8,687.0 421.2,697.0 421.7,722.0 422.1,729.4 422.4,746.6 422.9,758.8 423.4,780.9 423.8,794.0 424.3,782.8 424.8,791.0 425.3,772.8 425.9,777.6 426.5,760.2 426.8,767.8 427.4,747.3 428.0,750.0 428.4,754.5 428.8,734.4 429.2,745.3 429.8,724.1 430.3,733.8 430.7,714.8 431.3,725.6 431.7,705.2 432.1,714.5 432.4,701.6 433.0,700.0 433.3,696.5 433.7,679.8 434.3,677.0 435.0,659.4 435.5,657.9 435.8,677.1 436.4,666.6 436.7,676.7 437.3,629.6 438.0,572.0 438.1,675.0 438.4,656.4 439.0,631.8 439.4,607.2 440.2,570.3 440.6,590.5 441.1,608.3 441.6,636.2 442.1,659.0 442.5,635.3 443.1,614.4 443.6,584.1 444.4,549.6 444.9,585.2 445.4,619.0 446.0,660.0 446.1,541.0 446.6,575.9 447.2,604.6 448.0,652.4 448.6,608.4 449.1,561.3 449.5,529.9 450.1,560.4 450.6,583.3 450.9,603.4 451.3,619.6 452.0,655.0 452.1,516.0 452.6,557.8 453.0,581.2 453.6,624.0 454.0,654.0 454.5,623.3 455.0,594.2 455.6,554.7 456.0,529.8 456.4,563.8 456.8,592.4 457.4,646.2 457.9,604.8 458.2,575.2 458.8,526.2 459.4,560.2 459.8,578.4 460.1,599.0 460.8,634.2 461.3,607.0 461.6,593.5 462.0,566.0 462.5,547.8 463.0,516.0 463.1,650.0 463.4,626.4 463.9,597.8 464.2,574.1 464.5,551.6 465.0,577.2 465.5,596.6 465.8,617.1 466.2,629.4 466.7,655.9 467.0,670.0 467.1,580.0 467.6,614.4 467.9,640.2 468.3,663.0 468.6,651.2 469.1,658.3 469.4,642.7 470.2,639.2 470.7,651.1 471.3,652.8 471.7,667.9 472.0,668.0 472.6,669.4 473.0,686.5 473.3,677.1 473.7,693.4 474.2,684.5 474.5,704.7 475.1,697.3 475.6,714.9 476.1,708.3 476.7,726.5 477.1,721.3 477.7,732.0 478.2,725.6 478.7,704.3 479.0,706.1 479.4,692.6 479.9,687.4 480.3,672.1 480.7,671.3 481.0,660.0 481.4,647.1 481.8,650.7 482.3,632.1 482.8,632.8 483.3,616.5 483.6,619.2 484.1,603.3 484.5,600.0 485.1,598.8 485.4,582.5 485.8,588.7 486.3,569.2 486.8,576.6 487.1,558.3 487.5,563.8 488.1,546.8 488.6,549.1 489.0,540.0 489.5,528.5 489.8,543.7 490.3,520.6 490.8,534.1 491.1,514.6 491.6,530.4 492.0,512.1 492.4,521.7 493.0,510.0 493.6,496.1 493.9,515.1 494.2,495.6 494.8,509.9 495.3,490.9 495.7,503.3 496.0,489.2 496.6,501.5 497.0,490.0 497.6,477.7 497.9,492.4 498.3,473.9 498.8,488.7 499.2,465.9 499.5,480.9 499.9,462.8 500.3,479.7 500.7,467.5 501.1,463.5 501.6,479.8 502.1,472.8 502.5,490.8 503.0,474.7 503.4,495.2 503.7,484.6 504.2,502.8 504.5,490.9 505.0,500.0 505.4,510.4 505.8,508.6 506.2,526.1 506.7,526.0 507.1,544.0 507.5,541.7 507.9,557.6 508.3,560.0 508.9,569.4 509.3,585.4 509.8,589.6 510.2,609.3 510.7,613.3 511.2,631.6 511.7,640.0 512.1,648.1 512.5,665.7 513.1,672.9 513.5,690.0 514.0,707.0 514.4,706.3 514.8,726.5 515.3,733.0 515.7,719.6 516.2,720.1 516.7,700.2 517.2,699.4 517.6,684.4 518.0,680.0 518.5,684.8 519.0,671.6 519.4,656.4 519.8,647.7 520.4,624.2 521.0,606.0 521.0,668.0 521.5,656.7 522.0,636.0 522.3,630.9 522.9,607.0 523.3,614.2 523.9,636.6 524.3,640.6 524.6,656.7 525.1,666.8 525.5,647.1 526.0,634.0 526.4,611.1 527.0,623.8 527.5,645.0 527.9,650.9 528.4,667.0 528.9,662.3 529.3,643.7 529.7,644.3 530.2,625.3 530.9,613.4 531.4,638.0 532.0,661.3 532.5,644.4 532.9,640.0 533.4,620.6 533.9,610.5 534.4,625.6 534.8,626.3 535.1,640.6 535.6,644.9 536.2,661.6 536.6,650.7 537.1,631.7 537.6,623.7 538.0,606.0 538.0,668.0 538.6,647.8 539.0,640.5 539.5,654.7 540.0,650.6 540.3,663.8 540.7,659.9 541.0,670.0 541.4,679.7 541.7,667.5 542.2,686.2 542.6,670.5 543.0,688.9 543.5,672.4 544.0,694.4 544.5,679.3 545.0,690.0 545.5,688.3 545.8,670.8 546.2,675.0 546.8,654.4 547.2,655.6 547.8,634.7 548.3,636.5 548.7,619.7 549.0,625.1 549.6,610.0 550.1,597.5 550.5,596.7 550.9,582.8 551.4,581.9 551.7,566.6 552.2,566.5 552.7,548.0 553.3,549.1 553.8,533.0 554.1,524.2 554.7,525.6 555.1,509.2 555.6,513.4 556.1,494.8 556.6,501.2 557.0,490.0 557.4,477.5 557.8,492.9 558.3,474.2 558.6,485.9 559.0,464.0 559.4,479.0 559.7,461.3 560.2,470.6 560.6,453.0 561.0,458.0 561.5,469.7 562.0,463.0 562.6,480.5 562.9,472.3 563.5,489.1 564.0,481.8 564.4,500.7 565.0,500.0 565.5,502.4 566.1,520.8 566.4,516.7 566.8,531.1 567.3,529.7 567.8,547.2 568.2,548.0 568.5,550.3 569.0,568.6 569.5,573.6 570.0,591.0 570.5,595.7 571.1,616.9 571.7,621.5 572.0,634.0 572.5,645.6 572.9,640.7 573.4,658.7 573.8,653.1 574.1,668.9 574.6,662.7 575.1,681.5 575.5,677.8 576.0,690.0 576.5,702.5 576.8,691.3 577.3,709.5 577.9,704.7 578.3,721.6 578.9,713.8 579.4,733.0 580.0,735.0 580.3,725.1 580.7,721.7 581.1,705.8 581.5,703.4 582.0,685.7 582.3,684.4 582.9,662.4 583.4,660.6 583.9,641.4 584.4,636.3 585.0,619.8 585.5,604.9 586.0,610.0 586.5,589.7 586.9,591.5 587.5,571.9 588.0,576.0 588.6,553.9 589.1,556.3 589.6,539.9 590.0,542.5 590.4,525.1 590.8,529.7 591.4,509.3 592.0,504.9 592.4,516.1 592.9,512.5 593.3,531.0 593.7,524.5 594.0,542.9 594.6,537.5 594.9,553.2 595.2,548.0 595.7,567.3 596.3,564.0 597.0,579.8 597.5,593.1 598.0,580.8 598.5,597.9 598.8,586.6 599.2,603.9 599.7,594.8 600.2,613.1 600.5,602.2 601.0,624.5 601.4,609.4 602.0,622.8 602.5,629.2 602.9,612.0 603.5,629.2 603.9,608.6 604.4,620.9 604.8,604.8 605.3,620.3 605.7,599.2 606.0,620.5 606.4,602.2 606.8,613.4 607.1,594.3 607.6,612.7 608.0,596.7 608.5,609.8 609.0,599.8 609.5,590.1 609.9,601.2 610.3,584.9 610.7,596.8 611.1,582.1 611.4,597.5 611.8,577.5 612.3,593.8 612.6,570.9 613.0,590.5 613.6,569.7 614.4,572.8 614.9,583.4 615.3,572.8 615.8,594.9 616.3,583.3 616.7,601.7 617.1,587.2 617.4,607.9 617.9,594.3 618.4,616.9 618.9,602.9 619.5,624.0 620.0,619.8 620.3,613.6 620.6,631.1 620.9,612.9 621.3,635.0 621.7,619.0 622.1,636.1 622.5,621.6 623.0,641.6 623.4,623.0 623.8,641.5 624.2,627.3 624.8,645.9 625.2,629.3 625.9,639.8 626.3,648.9 626.8,634.0 627.3,654.2 627.7,639.5 628.3,659.8 628.8,645.0 629.2,667.2 629.7,649.4 630.0,672.8 630.5,656.9 630.9,674.4 631.3,659.4 631.9,677.6 632.3,668.2 632.6,684.0 633.1,671.1 633.6,691.4 634.0,677.4 634.6,696.6 634.9,682.7 635.5,697.5 635.8,687.5 636.4,704.0 636.9,699.7 637.5,684.4 637.9,686.1 638.3,668.5 638.9,666.0 639.2,648.2 639.5,652.4 639.9,639.8 640.3,630.6 640.6,636.9 641.1,618.5 641.6,623.7 642.1,605.6 642.4,612.4 642.9,599.8 643.5,586.7 643.8,600.2 644.3,581.1 644.7,591.6 645.3,576.0 645.7,585.7 646.2,568.8 646.7,580.4 647.0,558.3 647.5,573.3 647.9,553.8 648.2,568.7 648.7,549.5 649.0,560.9 649.5,539.3 649.9,545.9 650.4,555.2 650.8,539.3 651.2,562.5 651.6,543.6 652.1,562.6 652.7,549.3 653.1,569.9 653.7,555.9 654.3,571.7 654.7,559.9 655.1,574.6 655.7,561.4 656.1,579.5 656.6,565.4 657.1,583.1 657.9,579.8 658.5,582.5 659.1,604.5 659.5,602.8 660.0,619.1 660.3,615.1 660.9,629.8 661.5,642.1 662.0,639.4 662.4,655.6 662.7,647.7 663.3,667.6 663.9,669.7 664.4,665.8 664.9,684.6 665.2,675.7 665.7,691.2 666.2,682.5 666.7,700.7 667.1,693.1 667.5,709.5 667.8,697.5 668.4,717.2 668.9,715.7 669.3,702.5 669.9,705.7 670.4,687.4 671.0,692.4 671.3,675.6 671.7,684.9 672.2,665.2 672.9,659.7 673.4,653.6 673.8,636.6 674.2,638.3 674.6,620.7 674.9,624.3 675.5,604.2 675.9,599.8 676.2,597.2 676.6,580.7 677.1,582.5 677.4,566.3 677.8,566.8 678.3,545.6 678.9,539.9 679.2,552.7 679.6,557.2 680.0,575.6 680.3,581.0 680.9,599.8 681.3,613.5 681.7,606.9 682.1,626.8 682.6,622.4 683.0,638.6 683.5,635.9 683.9,647.8 684.4,653.1 684.9,632.3 685.3,643.1 685.8,625.0 686.2,637.5 686.6,620.2 687.1,627.9 687.4,610.3 687.9,624.9 688.5,605.4 688.8,616.9 689.1,600.5 689.9,599.8 690.4,601.6 690.8,587.2 691.3,599.2 691.7,580.6 692.3,593.3 692.8,570.0 693.3,586.4 693.7,566.2 694.3,579.9 694.9,556.7 695.3,568.8 695.9,559.8 696.4,549.1 696.8,559.7 697.3,538.4 697.8,549.3 698.2,533.2 698.7,543.2 699.3,523.4 699.7,536.1 700.3,523.9 700.7,521.7 701.2,536.6 701.5,524.8 702.0,546.4 702.4,535.7 702.8,553.9 703.2,541.1 703.7,557.7 704.0,545.5 704.4,563.0 704.9,552.2 705.4,572.4 705.9,569.8 706.3,563.4 706.8,582.6 707.1,567.0 707.5,584.6 708.0,567.7 708.5,588.6 708.9,574.9 709.4,593.5 709.8,578.5 710.2,597.1 710.6,581.2 711.1,600.1 711.6,584.8 712.0,604.2 712.5,585.2 712.9,602.8 713.5,591.5 713.9,599.8 714.3,612.0 714.6,596.7 715.0,613.7 715.4,600.5 715.8,616.0 716.3,603.5 716.9,626.1 717.4,612.2 718.0,629.0 718.3,615.0 718.9,634.1 719.2,622.0 719.9,631.8 720.3,637.6 720.8,619.5 721.4,629.6 721.7,612.4 722.1,629.5 722.4,611.8 722.9,624.2 723.5,605.6 724.0,616.0 724.5,596.8 724.9,614.3 725.5,593.0 726.0,609.4 726.5,589.2 726.9,600.7 727.4,585.0 727.8,589.8 728.4,595.9 729.0,574.3 729.5,593.0 730.0,570.4 730.6,588.7 731.1,566.6 731.4,581.8 731.8,562.1 732.3,581.5 732.9,557.9 733.4,574.8 734.0,554.5 734.4,572.3 734.9,551.4 735.4,564.6 735.8,555.8 736.4,545.3 736.7,554.3 737.1,540.4 737.6,550.4 738.0,531.0 738.5,542.2 738.9,526.1 739.3,537.4 739.7,518.6 740.0,532.1 740.6,513.5 741.2,514.9 741.7,541.7 742.1,556.9 742.4,577.7 742.8,599.8 743.3,610.9 743.8,632.4 744.2,639.1 744.6,658.6 745.2,668.0 745.8,689.7 746.4,685.7 746.9,666.9 747.3,669.7 747.8,650.0 748.1,654.0 748.6,636.9 749.0,637.8 749.4,620.9 749.8,619.8 750.2,619.3 750.5,602.6 751.0,609.3 751.5,589.2 752.0,593.2 752.3,576.1 752.7,582.4 753.3,562.2 753.8,559.8 754.2,561.6 754.5,547.1 754.9,558.2 755.4,541.1 755.8,552.5 756.3,532.6 756.8,541.9 757.3,525.7 757.9,532.2 758.3,516.8 758.8,528.1 759.3,508.2 759.8,509.9 760.3,517.0 760.8,494.3 761.1,511.5 761.6,491.5 762.1,503.0 762.4,486.1 762.8,499.8 763.3,479.3 763.7,494.4 764.1,475.0 764.5,489.8 764.8,477.9 765.1,474.5 765.7,493.6 766.2,487.9 766.5,507.5 767.1,500.7 767.5,516.0 768.0,511.9 768.5,528.1 769.0,525.1 769.4,541.0 769.8,539.9 770.2,539.4 770.7,557.7 771.1,548.1 771.6,567.9 772.1,560.6 772.5,577.9 773.1,569.9 773.4,587.0 773.9,579.1 774.5,600.3 774.8,593.2 775.2,607.9 775.8,609.8 776.3,597.7 776.7,610.8 777.0,592.7 777.5,605.5 778.0,587.7 778.3,598.3 778.7,580.0 779.2,592.7 779.6,577.5 779.9,591.4 780.5,573.3 780.8,586.5 781.4,566.3 781.8,569.8 782.3,577.1 782.8,556.6 783.3,576.2 783.7,555.0 784.1,569.3 784.5,554.8 785.1,566.7 785.4,551.4 785.9,566.0 786.3,548.6 786.6,564.8 787.2,541.2 787.6,560.5 788.0,542.7 788.5,558.1 788.9,536.9 789.3,553.8 789.8,543.9 790.3,540.0 790.7,556.4 791.0,544.6 791.4,563.6 791.7,551.7 792.2,570.0 792.5,552.5 793.0,572.4 793.4,561.2 793.7,580.4 794.2,566.7 794.6,585.4 795.0,573.2 795.5,593.0 796.0,580.9 796.6,599.6 797.0,585.5 797.3,604.9 797.8,599.8 798.2,595.6 798.5,616.4 799.0,604.9 799.4,624.6 799.8,614.4 800.3,637.3 800.7,627.6 801.2,644.9 801.6,638.5 802.0,655.9 802.4,643.3 802.8,655.7 803.2,654.5 803.6,636.9 803.9,643.0 804.4,623.4 804.9,627.8 805.4,611.4 805.8,614.2 806.4,594.0 806.9,596.7 807.3,581.7 807.8,579.8 808.1,583.2 808.6,564.8 809.0,574.6 809.4,556.7 809.9,566.1 810.4,547.6 810.8,555.0 811.1,541.2 811.4,549.7 811.8,539.9 812.3,525.1 812.7,537.6 813.1,521.2 813.5,529.5 814.1,508.9 814.4,520.0 814.7,505.0 815.0,515.4 815.6,496.4 815.9,504.3 816.4,487.9 816.9,496.4 817.3,475.4 817.8,479.9 818.3,492.6 818.6,482.8 819.0,500.4 819.4,491.4 819.7,506.4 820.2,498.6 820.7,518.2 821.3,509.4 821.7,526.8 822.2,518.7 822.7,537.0 823.1,525.4 823.7,539.9 824.2,551.7 824.7,536.0 825.1,555.0 825.4,543.4 825.7,557.2 826.3,544.3 826.7,563.7 827.0,551.4 827.5,570.6 828.0,554.9 828.3,571.7 828.9,559.1 829.4,579.0 829.7,573.8 830.1,565.7 830.5,575.7 830.8,557.3 831.4,564.8 831.8,546.6 832.1,561.6 832.5,539.2 832.8,550.8 833.4,532.5 834.0,545.1 834.4,524.6 834.8,535.2 835.2,518.7 835.7,519.9 836.1,522.9 836.6,502.4 836.9,514.0 837.4,496.4 837.9,506.4 838.2,486.6 838.7,497.0 839.1,480.9 839.7,479.9 840.3,486.1 840.8,467.1 841.2,476.2 841.7,457.7 842.1,473.2 842.6,454.5 843.0,466.5 843.4,449.1 843.9,461.3 844.3,442.7 844.6,458.2 845.1,435.6 845.5,452.4 846.0,433.4 846.6,444.9 847.1,426.5 847.7,429.0 848.1,439.8 848.6,436.3 848.9,455.2 849.5,452.4 849.9,468.3 850.3,467.6 850.8,484.1 851.4,482.2 851.8,498.4 852.3,499.0 852.7,509.9 853.3,527.3 853.7,529.1 854.2,547.1 854.7,550.3 855.0,567.3 855.5,568.1 856.1,588.1 856.4,588.6 856.7,599.8 857.1,612.6 857.5,607.5 857.9,625.9 858.3,623.4 858.6,636.2 859.2,638.6 859.7,656.4 860.2,654.8 860.7,674.5 861.2,672.0 861.8,694.2 862.3,692.1 862.7,703.7 863.0,703.8 863.6,683.8 863.9,684.7 864.5,667.3 865.0,663.9 865.3,650.1 865.7,652.0 866.2,633.4 866.6,636.7 867.2,615.3 867.6,617.2 868.1,597.9 868.5,601.2 869.1,578.8 869.7,573.8 870.2,562.7 870.7,541.2 871.0,538.4 871.5,516.4 872.0,510.8 872.3,494.4 872.7,487.9 873.1,487.5 873.5,470.5 874.1,472.7 874.6,453.1 874.9,461.5 875.3,442.9 875.6,448.7 876.1,431.9 876.6,437.5 877.1,416.9 877.6,421.1 878.0,404.1 878.7,400.0 876.0,400.0 876.4,397.3 876.9,381.1 877.5,383.9 878.0,363.7 878.3,371.3 878.6,356.0 879.0,355.0 879.3,366.9 879.8,374.5 880.3,394.7 880.7,401.8 881.3,423.2 881.6,425.5 882.0,440.0 882.5,451.9 882.9,449.9 883.4,465.3 883.7,458.1 884.0,477.6 884.5,472.1 885.0,489.1 885.5,485.9 886.0,500.0 886.6,518.2 887.1,524.3 887.4,539.0 887.9,545.2 888.3,561.2 889.0,575.0 889.4,575.8 889.8,592.4 890.2,589.2 890.6,604.8 891.1,602.2 891.6,623.4 892.0,619.9 892.6,637.3 893.0,640.0 893.4,635.7 893.8,650.6 894.3,640.0 894.9,657.4 895.3,645.0 895.9,665.7 896.4,649.8 897.0,674.4 897.7,668.0 898.2,655.7 898.6,663.3 899.1,642.8 899.4,650.7 900.0,632.5 900.5,636.5 900.8,623.5 901.4,626.8 901.9,609.6 902.4,615.3 903.0,600.0 903.6,584.1 904.2,586.9 904.8,565.6 905.3,570.2 905.7,550.8 906.2,553.8 906.5,537.0 906.9,541.6 907.5,524.2 908.0,520.0 908.6,519.4 909.0,500.5 909.6,504.6 910.0,487.5 910.5,490.1 910.9,474.3 911.4,478.2 911.8,459.8 912.3,465.4 913.0,450.0 913.6,440.4 914.1,452.0 914.4,430.5 914.8,443.8 915.4,425.5 915.9,439.4 916.4,419.5 916.7,433.5 917.3,412.9 917.7,425.8 918.1,405.9 918.8,410.0 919.3,424.8 919.9,418.7 920.2,435.9 920.8,434.1 921.3,450.1 921.7,446.7 922.2,462.4 922.6,459.3 923.0,470.0 923.5,482.4 924.1,483.2 924.5,501.3 924.9,496.7 925.3,515.6 925.7,512.1 926.1,531.0 926.7,528.3 927.0,540.0 927.3,550.6 927.7,539.6 928.3,557.2 928.9,552.1 929.4,569.9 929.8,556.0 930.3,578.6 930.8,566.8 931.1,583.0 931.6,582.0 932.1,572.7 932.5,584.5 932.9,563.8 933.3,574.8 933.8,559.7 934.2,570.5 934.6,554.0 935.0,563.3 935.4,545.8 935.8,561.0 936.1,542.4 936.6,555.1 936.9,537.6 937.2,550.2 937.7,531.2 938.0,540.0 938.5,520.9 939.0,534.5 939.5,517.4 940.0,520.0 940.3,527.1 940.6,508.9 941.1,525.8 941.5,505.6 942.0,520.7 942.5,505.2 943.1,515.9 943.7,501.0 944.2,512.5 944.6,494.0 945.1,513.9 945.7,494.6 946.0,500.0 946.4,504.5 946.9,486.8 947.2,502.9 947.8,481.7 948.1,499.3 948.4,477.0 949.0,492.6 949.4,477.2 950.0,480.0 950.4,486.4 950.8,471.6 951.3,487.1 951.8,465.0 952.3,485.3 952.6,463.5 953.0,478.9 953.4,462.7 953.9,480.5 954.3,459.2 954.6,478.3 955.0,460.1 955.6,473.2 956.0,456.0 956.4,471.8 956.8,455.7 957.2,472.7 957.7,451.1 958.1,468.2 958.5,447.2 959.1,466.9 959.4,448.9 959.8,466.4 960.2,443.8 960.7,462.9 961.2,441.1 961.6,460.3 962.0,450.0 962.3,442.2 962.7,453.8 963.1,437.0 963.5,455.4 963.8,434.2 964.3,446.7 964.9,429.8 965.2,447.5 965.8,423.6 966.3,439.0 966.8,420.5 967.3,439.9 967.8,419.5 968.3,432.5 968.9,416.4 969.2,431.5 969.8,409.7 970.3,424.6 970.7,405.7 971.2,419.5 971.6,405.0 972.0,410.0 972.5,418.0 972.9,397.1 973.3,417.7 973.8,397.3 974.2,409.5 974.7,391.1 975.1,411.3 975.7,391.8 976.2,408.3 976.6,390.3 976.9,406.7 977.2,385.2 977.7,402.9 978.0,392.0 978.5,384.1 979.0,408.5 979.5,389.9 980.0,413.4 980.5,399.4 981.0,417.2 981.4,402.5 981.9,419.8 982.2,409.0 983.0,420.0 983.3,432.1 983.8,415.4 984.3,434.4 984.7,413.9 985.0,432.4 985.4,420.7 985.8,438.8 986.4,423.5 986.8,432.0 987.3,428.0 987.8,408.4 988.3,406.7 988.8,387.4 989.3,388.1 989.8,374.0 990.2,363.1 990.5,376.4 991.0,359.5 991.5,370.4 991.9,350.7 992.3,363.0 992.6,348.1 993.0,361.9 993.5,340.8 994.0,354.8 994.4,337.1 995.0,349.9 995.4,328.1 995.8,334.0 996.2,345.1 996.7,333.1 997.3,352.7 997.7,343.2 998.0,357.8 998.4,347.2 998.7,362.8 999.3,353.2 999.6,373.1 1000.2,358.5 1000.6,379.5 1001.1,366.5 1001.5,384.7 1001.8,380.0 1002.2,371.2 1002.6,391.6 1003.0,375.3 1003.5,397.5 1003.8,382.8 1004.2,398.0 1004.5,386.6 1004.9,402.2 1005.3,389.5 1005.7,409.2 1006.1,396.0 1006.5,411.2 1006.8,396.6 1007.3,417.2 1007.8,410.0 1008.1,405.1 1008.6,424.0 1008.9,408.7 1009.4,424.2 1009.8,412.0 1010.1,431.7 1010.5,415.1 1010.9,437.2 1011.3,419.1 1011.9,440.9 1012.5,426.6 1013.0,446.1 1013.5,434.8 1013.9,449.3 1014.2,436.2 1014.8,449.0 1015.3,452.6 1015.6,434.4 1016.4,432.2 1016.9,431.4 1017.2,414.0 1017.8,421.9 1018.2,403.9 1018.8,402.3 1019.1,409.4 1019.7,393.7 1020.0,400.0 1020.0,378.0 1020.5,387.6 1021.0,379.7 1021.4,397.5 1022.0,397.8 1022.4,385.9 1022.9,380.1 1023.2,365.0 1023.7,360.5 1024.2,346.2 1024.5,353.0 1024.9,371.3 1025.2,372.4 1025.6,392.0 1026.0,400.0 1026.0,318.0 1026.5,329.9 1027.1,354.5 1027.5,360.0 1028.0,383.5 1028.4,393.6 1028.8,369.5 1029.3,344.1 1029.7,321.2 1030.4,281.3 1030.9,317.8 1031.5,352.9 1032.0,390.0 1032.0,258.0 1032.4,279.8 1032.7,298.8 1033.3,337.8 1033.9,372.8 1034.3,343.8 1034.9,309.4 1035.6,264.1 1036.1,283.8 1036.4,302.4 1036.9,320.6 1037.4,348.8 1038.0,370.0 1038.0,258.0 1038.5,291.7 1039.0,329.8 1039.5,362.6 1040.0,338.1 1040.6,320.5 1041.0,297.7 1041.7,273.1 1042.2,301.4 1042.8,328.6 1043.2,352.6 1043.7,376.1 1044.0,395.0 1044.0,258.0 1044.4,282.6 1045.0,320.5 1045.5,359.4 1045.8,383.8 1046.1,372.4 1046.4,372.7 1047.0,352.4 1047.3,348.9 1048.0,330.0 1048.0,400.0 1048.5,396.6 1048.9,414.0 1049.5,410.0 1049.9,430.4 1050.3,460.0 1050.8,487.8 1051.1,498.6 1051.7,529.0 1052.2,554.9 1052.8,574.7 1053.2,595.4 1053.7,617.0 1054.2,640.9 1054.6,665.8 1054.9,678.9 1055.3,703.0 1055.9,760.8 1056.2,795.0 1056.6,828.3 1057.2,876.0 1057.8,963.0 1058.2,994.1 1058.6,1018.5 1059.0,1049.0 1059.4,1073.6 1059.8,1085.5 1060.2,1110.0 1060.8,1200.0 1061.2,1227.3 1061.7,1257.8 1062.0,1282.0 1062.5,1299.0 1062.8,1302.6 1063.3,1322.7 1063.6,1324.9 1064.2,1346.0 1064.7,1331.5 1065.2,1306.9 1065.5,1301.7 1066.0,1282.0 1066.4,1266.2 1066.8,1261.3 1067.4,1237.2 1067.9,1230.1 1068.3,1211.8 1068.8,1200.0 1069.2,1095.0 1069.5,1072.1 1070.2,1026.0 1070.5,997.1 1071.2,938.0 1071.6,919.4 1072.0,894.5 1072.4,873.2 1072.8,852.0 1073.4,783.0 1073.8,753.3 1074.2,728.5 1074.6,703.1 1075.0,678.0 1075.4,668.4 1075.7,648.7 1076.3,635.1 1077.0,606.0 1077.7,529.0 1078.1,518.3 1078.6,519.3 1079.0,502.0 1079.5,502.1 1080.0,490.0 1080.4,477.8 1080.8,481.0 1081.4,459.0 1081.7,461.7 1082.1,446.2 1082.6,444.8 1083.1,424.5 1083.7,420.0 1084.1,423.0 1084.7,401.8 1085.0,414.1 1085.6,394.0 1086.1,402.9 1086.7,381.8 1087.2,390.1 1087.7,375.0 1088.1,383.3 1088.7,362.7 1089.1,374.4 1089.7,360.0 1090.1,348.3 1090.4,369.1 1090.9,347.0 1091.4,365.1 1092.0,345.6 1092.7,350.0 1093.1,360.2 1093.5,355.5 1093.9,371.0 1094.3,363.7 1094.7,382.7 1095.0,373.2 1095.6,390.3 1096.1,387.8 1096.6,403.8 1097.0,395.4 1097.4,415.8 1097.9,406.2 1098.3,425.3 1098.9,419.4 1099.4,438.1 1100.0,439.9 1100.4,443.4 1100.8,461.5 1101.3,460.7 1101.8,481.6 1102.3,483.7 1103.0,501.9 1103.4,515.3 1104.0,513.6 1104.6,533.3 1105.1,534.7 1106.0,553.8 1106.3,566.1 1106.7,549.4 1107.0,570.0 1107.4,555.7 1107.8,576.8 1108.1,561.3 1108.6,581.4 1109.1,570.3 1109.6,586.9 1110.1,574.7 1110.5,593.0 1110.9,581.9 1111.3,598.6 1112.0,595.8 1112.5,589.6 1112.9,606.4 1113.5,589.6 1113.9,609.9 1114.3,596.1 1114.7,615.6 1115.2,597.8 1115.6,619.8 1116.0,609.8 1116.4,597.0 1116.9,615.7 1117.4,598.2 1117.8,615.8 1118.4,596.4 1118.8,612.8 1119.3,593.6 1119.8,609.3 1120.4,590.0 1120.9,605.6 1121.5,588.2 1122.0,599.5 1122.5,582.9 1122.8,599.4 1123.3,578.3 1123.7,599.8 1124.3,579.2 1124.8,595.3 1125.3,578.1 1125.8,593.6 1126.1,574.1 1126.4,591.3 1126.9,571.9 1127.5,589.2 1128.0,566.2 1128.3,583.2 1128.8,567.5 1129.4,582.2 1130.0,571.8 1130.4,567.3 1131.0,584.0 1131.4,569.9 1132.0,590.4 1132.5,577.8 1133.1,597.6 1133.5,578.6 1133.9,598.5 1134.5,582.6 1134.8,601.8 1135.3,591.5 1135.9,610.2 1136.2,592.4 1136.6,613.4 1137.0,597.8 1137.6,616.5 1137.9,599.9 1138.2,618.2 1138.7,605.7 1139.1,621.7 1139.9,619.8 1140.3,615.0 1140.8,634.8 1141.3,626.1 1141.9,643.3 1142.4,636.0 1142.8,655.0 1143.3,641.8 1143.9,655.7 1144.3,658.9 1144.7,641.4 1145.3,650.3 1145.7,635.5 1146.1,643.8 1146.6,623.9 1147.0,638.4 1147.6,616.7 1148.1,628.5 1148.6,610.5 1149.1,620.1 1149.4,603.6 1149.9,613.8 1150.3,596.2 1150.8,607.3 1151.4,585.0 1151.9,589.8 1152.5,601.9 1153.1,590.2 1153.5,608.0 1153.9,594.1 1154.2,609.7 1154.8,598.3 1155.3,617.3 1155.9,607.4 1156.4,626.6 1157.0,612.1 1157.5,631.4 1158.0,619.2 1158.4,638.6 1158.9,626.9 1159.5,644.0 1159.8,628.5 1160.4,651.9 1160.7,633.5 1161.1,652.8 1161.5,639.8 1161.9,651.7 1162.3,656.6 1162.8,638.1 1163.3,648.7 1163.7,626.1 1164.2,641.0 1164.5,619.9 1164.9,634.1 1165.4,612.0 1165.7,622.9 1166.2,608.2 1166.8,613.0 1167.4,593.3 1167.8,607.4 1168.1,590.9 1168.6,598.7 1169.1,579.1 1169.4,589.6 1169.9,579.8 1170.3,569.4 1170.9,584.2 1171.5,564.6 1171.8,577.8 1172.2,557.5 1172.5,573.9 1173.1,556.6 1173.4,570.6 1174.0,551.2 1174.4,564.5 1174.7,544.5 1175.2,560.6 1175.6,543.8 1176.0,557.2 1176.5,535.0 1176.9,549.9 1177.2,534.6 1177.6,545.7 1178.0,530.2 1178.4,546.6 1178.8,525.4 1179.1,541.7 1179.5,520.6 1179.9,527.9 1180.4,537.3 1180.7,529.1 1181.2,544.9 1181.7,535.6 1182.1,551.8 1182.5,540.3 1183.0,562.7 1183.4,550.6 1183.8,566.7 1184.4,557.7 1184.8,577.7 1185.3,562.2 1185.8,585.4 1186.2,574.3 1186.6,591.2 1187.1,579.8 1187.7,599.0 1188.1,586.6 1188.5,606.2 1188.9,595.2 1189.4,614.4 1189.9,609.8 1190.3,600.4 1190.9,609.1 1191.3,590.7 1191.8,598.9 1192.4,580.5 1192.9,593.9 1193.3,574.7 1193.8,581.7 1194.2,568.0 1194.8,577.9 1195.3,554.5 1195.8,564.9 1196.1,549.8 1196.7,558.0 1197.1,539.3 1197.4,550.7 1197.9,533.9 1198.4,546.2 1198.8,526.0 1199.2,539.5 1199.7,517.6 1200.0,530.2 1200.3,514.8 1200.6,526.6 1201.0,506.6 1201.4,519.0 1201.9,507.9 1202.4,503.4 1203.0,523.7 1203.4,511.2 1203.7,530.5 1204.3,518.3 1204.7,539.6 1205.2,528.7 1205.6,547.7 1206.2,535.3 1206.7,555.7 1207.2,544.9 1207.8,562.0 1208.3,555.7 1208.9,572.0 1209.4,564.7 1209.8,578.9 1210.1,566.7 1210.6,586.7 1211.1,577.4 1211.5,591.9 1211.9,589.8 1212.4,578.8 1212.8,597.9 1213.3,579.1 1213.9,596.4 1214.4,581.6 1214.9,599.0 1215.4,582.7 1215.9,595.1 1216.4,579.8 1216.8,600.1 1217.2,580.7 1217.5,594.5 1217.9,576.6 1218.2,596.5 1218.8,580.5 1219.3,599.1 1219.9,587.8 1220.3,575.9 1220.9,589.3 1221.2,573.6 1221.7,582.2 1222.3,566.9 1222.7,580.5 1223.1,561.5 1223.6,575.4 1224.0,554.3 1224.5,569.3 1224.8,550.7 1225.3,563.1 1225.8,543.0 1226.3,556.8 1226.7,537.9 1227.1,549.8 1227.9,539.8 1228.2,533.5 1228.7,556.3 1229.2,546.3 1229.8,564.3 1230.4,554.1 1230.8,572.8 1231.2,563.1 1231.7,583.8 1232.0,570.8 1232.4,588.1 1232.9,579.0 1233.5,599.2 1233.8,593.8 1234.3,583.8 1234.9,593.1 1235.4,577.1 1235.7,589.2 1236.1,572.6 1236.7,582.0 1237.2,562.6 1237.5,576.2 1237.9,559.6 1238.4,572.5 1238.8,555.8 1239.2,567.3 1239.5,552.0 1240.0,562.2 1240.6,545.4 1241.0,554.6 1241.6,534.4 1242.1,547.0 1242.7,528.3 1243.1,541.5 1243.7,524.4 1244.1,538.0 1244.4,518.5 1244.9,529.7 1245.3,512.3 1245.8,517.9 1246.3,527.0 1246.7,513.3 1247.2,536.6 1247.6,521.8 1248.1,542.1 1248.6,527.6 1249.2,546.0 1249.7,535.7 1250.1,550.2 1250.4,539.1 1250.9,558.0 1251.3,542.7 1251.6,560.2 1252.1,547.1 1252.6,566.4 1253.0,554.5 1253.6,571.9 1254.0,558.6 1254.4,576.5 1254.8,564.3 1255.1,584.3 1255.8,579.8 1256.2,574.0 1256.7,591.2 1257.1,575.2 1257.6,589.1 1258.0,571.5 1258.6,592.2 1259.1,577.1 1259.7,591.3 1260.2,575.5 1260.7,593.2 1261.2,577.2 1261.7,595.8 1262.2,577.1 1262.5,599.7 1263.1,577.6 1263.5,595.7 1264.1,582.5 1264.6,598.5 1265.0,584.1 1265.4,603.1 1265.8,591.8 1266.2,581.8 1266.6,592.8 1267.2,577.8 1267.5,588.5 1268.0,568.3 1268.4,585.5 1268.9,564.2 1269.3,580.5 1269.7,558.7 1270.1,576.6 1270.6,553.2 1271.1,567.3 1271.5,551.1 1272.1,562.5 1272.8,549.8 1273.2,540.4 1273.8,560.4 1274.3,544.8 1274.7,562.1 1275.1,548.3 1275.6,568.3 1276.1,551.3 1276.4,567.6 1277.0,555.5 1277.6,572.9 1277.9,553.4 1278.4,576.8 1278.8,558.0 1279.1,575.5 1279.8,569.8 1280.3,564.6 1280.8,581.1 1281.2,565.5 1281.6,586.3 1282.0,571.7 1282.4,588.2 1282.9,575.5 1283.4,593.0 1283.7,577.4 1284.2,597.1 1284.5,577.0 1285.1,598.2 1285.5,582.1 1286.0,602.8 1286.5,587.1 1287.0,607.3 1287.4,588.9 1287.8,599.8 1288.2,606.3 1288.7,582.9 1289.1,596.9 1289.7,579.8 1290.0,589.4 1290.5,572.9 1290.8,585.6 1291.2,568.2 1291.5,582.2 1291.9,559.8 1292.4,574.5 1292.8,556.2 1293.2,566.8 1293.7,549.9 1294.0,563.4 1294.5,544.2 1294.9,556.3 1295.5,533.6 1296.1,548.7 1296.8,533.8 1297.3,536.3 1297.8,554.8 1298.1,545.4 1298.7,565.8 1299.0,558.8 1299.5,579.1 1300.0,574.1 1300.3,589.7 1300.7,582.0 1301.0,599.6 1301.8,603.8 1302.2,593.2 1302.7,602.8 1303.2,584.3 1303.8,589.4 1304.1,574.1 1304.6,580.4 1305.0,563.9 1305.6,570.6 1306.1,553.8 1306.5,562.1 1306.8,545.4 1307.4,552.0 1307.7,537.6 1308.1,545.1 1308.4,526.9 1309.0,535.4 1309.4,518.1 1309.8,521.9 1310.2,532.6 1310.6,512.3 1311.1,529.6 1311.7,507.5 1312.1,526.2 1312.6,508.0 1313.2,523.1 1313.7,507.1 1314.2,521.8 1314.7,499.9 1315.2,517.1 1315.5,503.1 1316.0,519.3 1316.5,501.4 1316.9,514.9 1317.2,499.3 1317.8,515.6 1318.3,493.6 1318.6,510.0 1319.1,491.8 1319.6,508.8 1320.1,490.1 1320.7,505.2 1321.1,487.1 1321.5,504.2 1321.9,488.7 1322.3,501.3 1322.6,482.9 1322.9,502.0 1323.3,484.3 1323.8,501.4 1324.3,479.1 1324.8,489.9 1325.1,501.0 1325.5,487.3 1326.0,508.7 1326.5,493.7 1326.9,511.7 1327.5,498.0 1328.0,516.7 1328.5,509.2 1328.9,525.0 1329.4,513.4 1329.9,534.3 1330.5,521.0 1330.9,536.8 1331.5,526.4 1332.0,547.2 1332.5,533.1 1333.1,552.8 1333.4,537.5 1333.7,549.8 1334.3,561.7 1334.6,555.5 1334.9,571.8 1335.3,565.6 1335.7,581.2 1336.0,577.0 1336.7,591.8 1337.2,602.9 1337.7,598.0 1338.2,617.8 1338.7,619.8 1339.3,607.9 1339.8,624.7 1340.2,603.6 1340.8,617.6 1341.3,596.1 1341.7,610.1 1342.1,592.3 1342.4,606.0 1342.7,588.0 1343.1,603.0 1343.4,584.4 1344.0,598.7 1344.3,580.1 1344.8,592.5 1345.3,575.5 1345.9,590.2 1346.5,571.0 1346.8,581.3 1347.3,562.1 1347.7,569.8 1348.3,576.9 1348.7,557.2 1349.3,574.5 1349.7,555.1 1350.1,571.4 1350.4,557.1 1350.7,570.7 1351.2,555.2 1351.5,570.1 1351.9,550.1 1352.2,570.6 1352.6,550.8 1353.1,568.3 1353.6,550.9 1354.0,565.9 1354.5,548.9 1354.9,565.6 1355.2,543.3 1355.7,560.5 1356.0,543.9 1356.4,558.6 1356.7,539.3 1357.1,560.8 1357.5,541.9 1357.8,556.6 1358.2,539.0 1358.6,554.0 1359.0,537.6 1359.7,543.8 1360.1,548.5 1360.6,532.9 1361.2,547.2 1361.7,527.3 1362.0,544.0 1362.6,526.6 1363.0,538.7 1363.4,521.8 1363.8,538.1 1364.3,519.6 1364.7,534.3 1365.2,511.1 1365.7,519.9 1366.0,528.4 1366.5,509.6 1367.0,527.8 1367.6,510.8 1368.1,524.9 1368.7,507.3 1369.2,522.2 1369.5,506.7 1370.1,521.1 1370.5,502.3 1370.8,520.6 1371.4,501.1 1372.0,517.3 1372.4,498.4 1372.8,518.4 1373.3,497.5 1373.7,515.2 1374.0,498.7 1374.4,516.7 1375.0,498.8 1375.5,513.1 1375.8,498.8 1376.3,513.8 1376.7,503.9 1377.1,494.7 1377.5,514.5 1378.0,501.6 1378.5,521.3 1379.0,506.7 1379.5,523.7 1379.8,508.4 1380.2,527.9 1380.8,509.2 1381.1,531.3 1381.6,516.2 1382.0,531.5 1382.6,521.6 1383.1,536.6 1383.6,524.1 1384.1,540.6 1384.5,529.2 1385.0,544.6 1385.7,539.8 1386.1,532.3 1386.6,548.5 1387.0,532.4 1387.4,551.3 1387.8,536.6 1388.2,555.6 1388.6,538.1 1389.2,560.2 1389.6,539.7 1389.9,561.1 1390.5,542.2 1391.0,561.7 1391.7,555.8 1392.1,546.2 1392.5,560.0 1393.0,538.9 1393.4,555.0 1393.8,536.4 1394.4,548.8 1394.9,531.5 1395.4,541.9 1396.0,523.3 1396.3,537.2 1396.8,518.0 1397.3,533.9 1397.9,513.3 1398.2,525.1 1398.7,515.9 1399.0,509.8 1399.3,526.3 1399.9,515.3 1400.4,530.7 1400.7,520.3 1401.1,533.7 1401.5,523.9 1401.9,541.2 1402.4,524.0 1402.8,542.2 1403.1,529.3 1403.5,549.3 1404.0,533.7 1404.6,553.9 1405.2,536.7 1405.7,549.8 1406.2,559.9 1406.8,542.4 1407.1,565.1 1407.6,544.9 1408.2,567.5 1408.6,548.4 1409.1,569.0 1409.4,555.0 1409.8,572.3 1410.3,554.1 1410.7,576.9 1411.3,560.3 1411.6,580.4 1412.1,559.1 1412.7,579.1 1413.1,565.6 1413.5,585.4 1414.0,569.6 1414.3,583.6 1414.8,570.5 1415.1,588.0 1415.6,572.0 1416.0,589.0 1416.4,574.5 1416.7,594.6 1417.1,579.6 1417.5,599.2 1417.9,582.5 1418.4,600.7 1418.9,582.9 1419.3,602.9 1419.7,594.8 1420.0,585.8 1420.5,599.7 1420.8,580.1 1421.3,597.2 1421.7,580.0 1422.0,591.7 1422.3,573.9 1422.7,591.9 1423.2,573.3 1423.5,589.3 1424.0,568.0 1424.6,581.8 1425.2,562.0 1425.7,577.8 1426.1,560.8 1426.7,573.5 1427.0,560.1 1427.6,570.1 1428.0,556.4 1428.4,571.9 1428.7,552.2 1429.1,569.3 1429.7,555.8 1430.1,550.5 1430.6,570.1 1431.0,554.5 1431.4,570.9 1431.7,555.5 1432.1,572.4 1432.5,556.9 1433.1,576.1 1433.4,563.0 1433.7,581.5 1434.2,562.9 1434.7,582.5 1435.1,568.4 1435.4,588.1 1436.0,569.8 1436.3,589.1 1436.7,573.4 1437.0,594.7 1437.4,576.3 1437.8,596.3 1438.1,583.7 1438.6,591.8 1439.0,600.3 1439.5,580.8 1439.9,594.0 1440.2,574.3 1440.6,589.0 1441.1,571.8 1441.7,586.9 1442.0,565.6 1442.5,583.5 1443.0,563.3 1443.5,576.0 1444.0,560.5 1444.5,571.7 1445.0,552.1 1445.5,565.3 1445.9,552.0 1446.3,566.1 1446.8,546.7 1447.2,557.4 1447.6,549.8 1448.0,539.8 1448.6,554.7 1449.1,538.3 1449.6,554.2 1450.1,537.0 1450.5,550.4 1451.0,535.5 1451.4,551.1 1451.9,532.1 1452.3,550.8 1452.6,528.6 1453.1,549.0 1453.5,526.9 1453.9,544.3 1454.4,527.9 1455.0,544.6 1455.5,522.7 1455.9,543.3 1456.6,531.8 1457.0,521.5 1457.6,542.7 1457.9,527.9 1458.5,546.7 1459.0,533.0 1459.5,549.4 1460.0,533.2 1460.6,553.1 1461.1,534.9 1461.5,552.5 1461.8,536.7 1462.4,559.7 1463.0,542.6 1463.5,563.2 1463.9,542.4 1464.4,560.4 1464.8,547.6 1465.1,565.3 1465.6,550.1 1466.2,569.1 1466.6,552.3 1467.1,570.1 1467.7,555.8 1468.0,572.2 1468.5,558.8 1468.9,578.0 1469.6,569.8 1470.1,560.5 1470.6,578.8 1471.0,561.3 1471.5,576.3 1471.9,559.7 1472.4,572.2 1472.7,556.7 1473.2,570.8 1473.7,554.3 1474.2,568.2 1474.5,552.6 1474.9,568.1 1475.4,552.8 1475.9,564.8 1476.4,546.8 1476.8,564.1 1477.3,547.0 1477.9,562.3 1478.2,544.2 1478.7,560.4 1479.0,542.1 1479.6,551.8 1480.2,565.6 1480.7,550.1 1481.1,569.2 1481.5,553.7 1481.9,573.2 1482.3,556.9 1482.8,577.2 1483.3,567.5 1483.8,583.1 1484.1,567.0 1484.4,588.1 1484.9,571.4 1485.3,593.8 1485.8,577.4 1486.2,599.5 1486.7,583.4 1487.2,605.4 1487.6,597.8 1484.0,559.8 1484.5,560.0 1484.9,566.5 1485.4,564.1 1485.7,571.8 1486.0,568.3 1486.4,574.3 1486.8,572.7 1487.3,579.5 1487.8,576.6 1488.4,584.4 1488.9,582.1 1489.3,589.6 1489.7,586.2 1490.1,594.0 1490.5,591.3 1491.0,595.8 1491.5,596.0 1491.9,588.8 1492.4,590.1 1492.8,583.6 1493.2,585.9 1493.5,578.7 1494.0,580.2 1494.6,572.4 1494.9,575.4 1495.5,568.2 1495.9,569.3 1496.3,563.3 1496.7,564.6 1497.2,557.4 1497.5,560.0 1498.0,555.8 1498.3,551.2 1498.9,555.0 1499.3,547.5 1499.8,550.3 1500.2,542.3 1500.6,546.1 1501.0,539.2 1501.5,542.1 1502.0,535.4 1502.4,537.8 1502.8,530.6 1503.2,534.4 1503.8,527.1 1504.2,529.9 1504.6,523.7 1505.0,523.9 1505.4,527.3 1505.8,525.1 1506.2,530.8 1506.7,527.2 1507.2,535.1 1507.8,531.5 1508.2,538.6 1508.7,535.4 1509.2,542.0 1509.5,537.9 1509.9,545.6 1510.3,541.5 1510.9,549.2 1511.4,546.0 1511.9,552.2 1512.5,549.7 1513.0,553.8 1513.3,557.8 1513.7,556.6 1514.0,562.3 1514.3,559.5 1514.7,567.9 1515.1,564.9 1515.7,574.4 1516.3,573.6 1516.8,580.5 1517.2,578.7 1517.6,585.6 1518.0,585.8 1518.5,581.5 1518.8,586.3 1519.3,580.3 1519.9,584.4 1520.5,577.6 1520.9,582.1 1521.3,576.1 1521.6,580.8 1522.2,574.4 1522.7,579.1 1523.1,572.5 1523.5,577.1 1523.9,570.5 1524.4,575.0 1524.9,568.9 1525.3,573.8 1525.8,567.7 1526.2,571.2 1526.8,564.7 1527.3,569.0 1527.9,565.8 1528.5,562.7 1528.8,567.3 1529.1,562.2 1529.5,566.6 1530.0,560.7 1530.4,565.2 1530.7,560.1 1531.2,564.5 1531.6,559.2 1532.1,563.2 1532.7,557.3 1533.3,562.3 1533.8,556.3 1534.4,561.9 1534.9,555.9 1535.4,560.0 1535.8,554.3 1536.2,560.1 1536.9,555.8 1537.4,552.4 1537.8,556.4 1538.2,549.1 1538.7,552.8 1539.1,546.5 1539.4,551.8 1539.9,544.9 1540.3,548.5 1540.7,543.1 1541.1,546.0 1541.6,540.2 1541.9,541.8 1542.2,545.0 1542.7,540.6 1543.1,547.8 1543.5,541.9 1543.9,549.8 1544.3,543.7 1544.6,551.4 1545.0,546.7 1545.4,552.1 1545.7,547.2 1546.1,554.7 1546.5,549.1 1547.0,555.4 1547.3,550.8 1547.6,557.3 1548.2,553.9 1548.6,559.1 1548.9,555.6 1549.4,561.7 1549.9,559.8 1550.4,556.7 1550.9,559.0 1551.4,552.6 1551.8,556.7 1552.1,550.5 1552.6,554.5 1553.0,547.8 1553.6,552.0 1554.0,545.1 1554.4,550.7 1555.0,542.8 1555.4,546.9 1555.9,541.1 1556.2,545.6 1556.7,538.4 1557.0,542.2 1557.5,536.7 1557.9,537.8 1558.3,532.6 1558.6,524.0 1559.0,518.7 1559.4,510.2 1559.9,505.1 1560.4,491.5 1560.9,486.4 1561.5,473.9 1562.0,472.9 1562.4,480.9 1562.8,476.7 1563.2,483.5 1563.8,481.1 1564.3,488.2 1564.8,484.7 1565.1,491.8 1565.5,487.8 1565.9,494.4 1566.5,491.1 1567.0,498.1 1567.4,495.5 1567.9,499.9 1568.3,507.1 1568.9,511.1 1569.2,519.2 1569.6,521.3 1570.1,531.2 1570.9,539.8 1571.4,541.2 1571.9,548.0 1572.2,544.9 1572.6,552.2 1573.0,550.1 1573.5,556.4 1573.9,554.7 1574.3,561.8 1574.9,559.9 1575.2,567.1 1575.9,568.8 1576.4,560.9 1576.9,561.2 1577.5,551.4 1578.0,549.0 1578.6,539.0 1579.0,539.9 1579.3,533.1 1579.9,528.9 1580.4,533.0 1580.9,528.8 1581.2,535.0 1581.7,531.6 1582.0,538.6 1582.4,534.7 1583.0,540.9 1583.5,538.5 1584.1,544.6 1584.6,542.0 1584.9,546.6 1585.3,544.1 1585.8,550.3 1586.3,546.8 1586.6,553.4 1587.0,549.5 1587.4,556.1 1587.8,550.9 1588.4,558.5 1588.7,553.6 1589.3,561.1 1589.9,560.8 1590.3,554.8 1590.8,553.6 1591.2,545.9 1591.6,545.0 1592.2,534.9 1592.8,532.9 1593.3,523.8 1593.8,523.0 1594.3,513.5 1594.9,509.9 1595.3,508.8 1595.9,500.6 1596.4,501.1 1596.9,493.7 1597.4,494.8 1598.0,486.0 1598.5,486.4 1598.9,480.1 1599.3,481.9 1599.9,472.6 1600.2,474.7 1600.7,467.5 1601.1,468.6 1601.5,462.0 1601.8,464.3 1602.3,456.0 1602.7,457.6 1603.3,449.6 1603.9,447.9 1604.2,454.4 1604.7,454.1 1605.1,463.2 1605.4,461.9 1606.0,472.2 1606.5,472.7 1606.9,481.4 1607.4,482.7 1607.7,490.2 1608.3,491.6 1608.9,499.9 1609.4,507.6 1609.9,507.2 1610.2,515.2 1610.7,515.4 1611.1,523.0 1611.4,522.5 1612.0,531.5 1612.9,537.8 1613.4,538.6 1613.8,543.7 1614.3,541.1 1614.9,549.8 1615.4,547.6 1615.9,554.2 1616.3,550.3 1616.7,558.4 1617.3,555.3 1617.7,561.9 1618.2,558.9 1618.9,564.8 1619.4,558.6 1620.0,547.4 1620.3,546.4 1620.8,536.0 1621.2,532.4 1621.6,523.1 1622.2,518.3 1622.8,507.9 1623.3,504.7 1623.7,508.9 1624.2,501.4 1624.5,507.1 1625.1,500.2 1625.4,504.4 1625.9,497.1 1626.2,503.0 1626.6,496.0 1627.0,500.3 1627.5,493.8 1627.9,497.3 1628.3,491.6 1628.8,495.4 1629.2,490.2 1629.8,493.2 1630.2,487.7 1630.8,491.6 1631.3,483.7 1631.6,489.8 1632.2,481.8 1632.7,486.1 1633.2,480.5 1633.6,483.5 1634.0,478.2 1634.5,481.3 1634.8,475.1 1635.3,479.8 1635.8,475.9 1636.4,473.7 1636.8,479.5 1637.3,474.5 1637.7,481.1 1638.0,475.8 1638.3,481.8 1638.7,476.5 1639.1,482.0 1639.5,478.7 1640.0,483.0 1640.5,478.8 1641.0,485.7 1641.4,480.3 1641.9,486.6 1642.2,481.3 1642.7,486.7 1643.2,483.2 1643.8,485.9 1644.3,488.3 1644.8,485.1 1645.2,491.3 1645.6,485.2 1645.9,490.5 1646.3,485.7 1646.7,492.5 1647.1,487.2 1647.7,493.1 1648.0,488.6 1648.5,495.4 1648.9,489.7 1649.4,496.6 1649.7,490.4 1650.1,497.3 1650.8,494.9 1651.3,490.6 1651.8,494.3 1652.2,488.5 1652.7,493.0 1653.3,486.6 1653.6,490.1 1654.0,483.7 1654.3,488.6 1654.8,481.6 1655.2,486.1 1655.7,478.8 1656.0,484.1 1656.4,478.5 1656.7,482.1 1657.0,476.7 1657.4,479.8 1657.9,474.4 1658.3,477.4 1658.8,470.3 1659.3,475.6 1659.8,468.9 1660.2,472.6 1660.7,465.8 1661.0,470.3 1661.4,465.0 1661.8,465.9 1662.1,468.4 1662.6,461.2 1663.0,466.9 1663.6,459.5 1664.0,464.9 1664.4,459.6 1664.8,462.5 1665.3,456.5 1665.8,461.8 1666.2,455.1 1666.5,460.8 1667.1,453.2 1667.5,458.1 1668.0,452.3 1668.5,456.3 1668.9,451.2 1669.3,455.6 1669.8,451.9 1670.2,451.8 1670.6,457.8 1671.2,456.5 1671.8,464.1 1672.2,461.0 1672.5,466.4 1672.9,464.5 1673.4,471.8 1674.0,469.5 1674.3,475.8 1674.7,471.5 1675.3,479.4 1675.7,476.8 1676.1,484.1 1676.6,480.9 1677.1,488.8 1677.4,485.4 1677.8,488.9 1678.2,490.5 1678.7,482.1 1679.1,486.8 1679.5,480.6 1679.9,484.4 1680.4,477.4 1680.9,480.6 1681.4,473.5 1681.8,477.8 1682.2,470.1 1682.5,474.4 1682.8,467.9 1683.4,470.7 1683.9,463.9 1684.2,469.4 1684.8,463.9 1685.2,458.9 1685.6,460.5 1686.0,453.7 1686.4,455.4 1686.9,448.5 1687.3,449.9 1687.8,441.5 1688.3,444.1 1688.8,435.8 1689.2,438.2 1689.8,431.9 1690.2,428.4 1690.6,431.6 1691.0,426.2 1691.6,429.8 1692.1,423.5 1692.5,426.8 1693.0,421.1 1693.6,424.1 1694.1,416.6 1694.6,420.4 1695.0,414.9 1695.4,418.8 1695.8,412.0 1696.2,416.7 1696.7,409.6 1697.1,414.6 1697.5,407.0 1697.9,411.5 1698.4,404.4 1698.8,408.7 1699.3,401.9 1699.8,404.0 1700.0,378.0 1700.0,400.0 1700.6,390.1 1700.9,375.7 1701.5,365.9 1702.0,374.7 1702.4,370.1 1702.8,383.7 1703.2,377.6 1703.6,386.1 1704.1,375.5 1704.6,358.8 1705.1,353.9 1705.6,338.1 1706.0,330.0 1706.0,385.0 1706.4,370.6 1706.8,349.5 1707.1,337.9 1707.5,319.1 1708.0,326.7 1708.5,343.4 1709.1,348.9 1709.7,365.8 1710.1,372.6 1710.6,350.1 1711.0,336.9 1711.4,316.8 1712.0,294.0 1712.0,380.0 1712.5,357.9 1713.1,329.9 1713.4,315.6 1713.7,298.7 1714.2,309.3 1714.8,328.6 1715.1,332.8 1715.9,354.7 1716.2,343.8 1716.6,327.4 1717.2,313.3 1717.7,294.7 1718.0,286.0 1718.0,356.0 1718.5,344.8 1719.0,324.5 1719.5,316.4 1719.9,299.0 1720.4,286.1 1721.0,315.3 1721.3,331.0 1722.0,362.7 1722.5,342.3 1723.0,321.4 1723.5,307.4 1724.0,286.0 1724.0,375.0 1724.5,350.1 1725.0,329.3 1725.6,297.4 1726.1,313.4 1726.7,335.5 1727.1,343.7 1727.8,368.8 1728.3,352.4 1728.8,329.5 1729.3,312.6 1730.0,286.0 1730.0,380.0 1730.6,358.0 1731.1,347.1 1731.4,332.8 1732.0,313.1 1732.4,346.0 1732.8,382.9 1733.2,372.9 1733.5,371.2 1734.1,353.7 1734.6,351.9 1735.0,340.0 1735.0,385.0 1735.5,373.6 1735.9,375.6 1736.2,360.6 1736.7,357.6 1737.2,370.1 1737.6,363.0 1737.9,378.4 1738.4,381.0 1738.7,372.9 1739.1,391.1 1739.4,374.6 1740.0,382.0 1740.5,413.3 1741.0,433.0 1741.5,464.4 1742.0,490.0 1742.4,488.4 1743.0,508.0 1743.5,506.4 1744.1,523.4 1744.5,516.5 1745.0,530.0 1745.6,556.8 1746.1,569.0 1746.6,595.9 1746.9,605.7 1747.5,632.2 1748.0,650.0 1748.4,663.6 1748.8,689.2 1749.2,701.8 1749.6,724.6 1750.0,740.0 1750.4,755.2 1751.0,785.5 1751.3,796.2 1752.0,830.0 1752.3,842.7 1752.9,855.9 1753.2,872.8 1753.7,883.6 1754.4,910.0 1754.9,943.7 1755.3,959.9 1755.6,983.5 1756.0,1003.0 1756.6,1013.6 1757.0,1033.1 1757.5,1038.9 1757.9,1054.0 1758.4,1062.2 1759.0,1080.0 1759.4,1096.2 1759.9,1107.2 1760.3,1127.4 1760.7,1133.1 1761.0,1150.6 1761.6,1164.3 1762.0,1180.0 1762.5,1166.9 1762.9,1146.5 1763.4,1137.7 1763.8,1115.6 1764.3,1107.0 1765.0,1080.0 1765.5,1061.2 1765.8,1057.7 1766.1,1040.8 1766.6,1030.9 1767.2,1005.6 1767.6,1000.1 1768.0,982.0 1768.5,958.7 1768.9,946.8 1769.2,929.1 1770.0,896.0 1770.5,864.0 1771.0,830.0 1771.6,757.4 1772.0,700.0 1772.3,649.5 1773.0,530.0 1773.5,504.0 1774.1,483.6 1774.6,455.3 1775.0,440.0 1775.5,426.9 1776.1,402.8 1776.9,380.0 1777.4,408.1 1777.9,428.9 1778.4,457.3 1778.9,473.6 1779.3,499.4 1780.0,530.0 1780.5,533.4 1781.0,550.8 1781.3,547.2 1781.7,564.4 1782.1,558.5 1782.6,580.0 1783.2,577.8 1783.6,594.5 1784.0,590.8 1784.5,612.4 1785.0,609.7 1785.5,625.8 1786.0,630.0 1786.3,638.5 1786.9,660.4 1787.5,673.2 1788.0,697.3 1788.5,706.1 1789.0,729.6 1789.5,738.2 1790.0,758.0 1790.3,759.1 1790.9,737.7 1791.4,739.7 1791.9,722.4 1792.3,727.6 1792.8,709.5 1793.1,715.2 1793.6,695.9 1794.1,698.3 1794.5,680.1 1794.9,683.9 1795.4,665.3 1796.0,666.1 1796.6,647.6 1797.0,650.4 1797.5,633.1 1798.0,630.0 1798.5,635.7 1799.0,614.0 1799.4,624.1 1799.9,605.1 1800.3,620.4 1800.7,600.9 1801.3,612.8 1801.7,590.9 1802.1,603.2 1802.6,584.8 1802.9,599.5 1803.4,578.3 1803.8,589.4 1804.2,574.3 1804.6,583.8 1805.0,565.3 1805.4,576.7 1805.9,559.7 1806.3,573.3 1806.6,555.1 1807.0,567.9 1807.4,545.6 1808.0,550.0 1808.5,552.8 1809.0,532.6 1809.5,537.7 1810.0,521.5 1810.6,523.6 1811.1,506.7 1811.6,515.0 1812.0,502.0 1812.3,505.3 1812.8,523.7 1813.3,527.6 1813.6,542.4 1814.2,548.0 1814.7,566.6 1815.2,569.8 1815.6,589.8 1816.1,590.3 1816.5,608.8 1817.0,616.0 1817.6,619.3 1818.0,635.2 1818.5,632.5 1819.1,652.2 1819.4,646.7 1820.0,662.8 1820.5,660.5 1821.0,673.0 1821.3,684.0 1821.8,685.8 1822.3,708.4 1822.7,706.9 1823.3,727.9 1823.8,731.1 1824.2,750.7 1824.6,750.0 1825.1,768.2 1825.4,767.1 1825.9,787.8 1826.2,785.4 1826.8,803.0 1827.3,799.8 1827.8,781.9 1828.2,786.9 1828.7,766.1 1829.1,773.0 1829.4,755.2 1829.9,757.9 1830.3,743.2 1830.8,743.4 1831.3,726.1 1831.6,729.8 1832.0,720.0 1832.5,700.8 1832.9,697.6 1833.3,679.4 1833.7,672.6 1834.0,660.1 1834.4,650.6 1834.8,669.0 1835.3,650.7 1836.0,660.0 1836.0,600.0 1836.5,614.5 1836.9,611.5 1837.4,631.0 1837.8,632.5 1838.4,648.6 1838.9,617.8 1839.4,586.4 1839.7,567.4 1840.1,580.4 1840.6,589.4 1841.0,608.1 1841.4,613.8 1842.0,635.0 1842.0,540.0 1842.6,569.1 1843.0,587.6 1843.6,626.8 1844.0,614.0 1844.5,590.0 1844.9,574.5 1845.3,553.4 1846.0,525.7 1846.5,550.0 1846.9,564.4 1847.5,594.8 1847.8,608.4 1848.4,578.7 1849.0,554.2 1849.6,523.1 1850.0,505.0 1850.0,615.0 1850.6,589.4 1850.9,570.5 1851.4,549.9 1852.0,516.7 1852.3,503.2 1852.7,523.4 1853.0,535.6 1853.6,566.1 1854.4,602.2 1854.9,569.0 1855.2,551.5 1856.0,499.0 1856.0,600.0 1856.5,579.2 1856.9,564.4 1857.4,538.1 1857.7,528.3 1858.1,505.8 1858.5,527.7 1858.8,556.8 1859.3,593.6 1859.8,571.0 1860.4,554.0 1860.9,532.0 1861.2,521.0 1861.8,550.9 1862.7,591.1 1863.1,575.2 1863.5,568.4 1863.9,548.2 1864.4,539.8 1865.0,515.0 1865.0,600.0 1865.4,577.9 1865.9,551.8 1866.5,515.9 1866.9,525.7 1867.3,543.1 1867.8,552.4 1868.2,571.3 1868.6,575.6 1869.1,596.6 1869.6,574.8 1870.0,549.5 1870.4,532.9 1870.9,506.2 1871.2,521.3 1871.5,541.9 1872.0,562.7 1872.4,584.4 1872.7,598.7 1873.2,559.3 1873.7,526.8 1874.0,500.0 1874.0,610.0 1874.4,588.9 1875.0,562.8 1875.7,524.5 1876.0,537.3 1876.4,557.7 1876.7,567.3 1877.1,590.0 1877.7,612.6 1878.1,595.4 1878.6,586.6 1879.2,562.6 1879.5,558.9 1880.0,540.0 1880.0,630.0 1880.5,613.1 1880.8,609.0 1881.3,585.3 1881.7,576.2 1882.3,598.5 1882.8,608.8 1883.2,629.0 1883.6,638.5 1884.0,634.8 1884.3,653.0 1884.8,646.0 1885.2,636.8 1885.8,643.9 1886.2,625.9 1886.7,635.2 1887.2,619.4 1887.7,627.4 1888.1,608.7 1888.6,622.0 1888.9,603.9 1889.4,609.9 1890.0,600.0 1890.6,586.4 1890.9,594.9 1891.3,575.7 1891.8,574.1 1892.4,588.9 1892.9,597.5 1893.3,580.9 1893.7,570.1 1894.1,552.4 1894.5,542.8 1895.0,520.0 1895.0,600.0 1895.5,578.5 1896.0,560.4 1896.6,532.0 1897.0,518.2 1897.4,498.0 1898.0,528.1 1898.6,567.2 1899.0,590.0 1899.0,470.0 1899.6,501.1 1900.0,529.4 1900.3,545.1 1900.8,577.7 1901.4,504.9 1901.8,460.4 1902.3,493.4 1902.8,522.6 1903.2,548.4 1903.7,580.0 1903.8,450.0 1904.3,485.7 1904.6,507.1 1905.2,550.1 1905.7,581.7 1906.0,562.4 1906.5,546.6 1906.9,525.6 1907.2,516.4 1907.6,494.5 1908.0,480.0 1908.0,590.0 1908.4,582.7 1908.9,560.0 1909.4,554.7 1909.8,534.6 1910.2,529.9 1910.5,517.2 1911.0,542.4 1911.4,567.7 1912.0,600.0 1912.0,540.0 1912.4,546.7 1912.7,564.4 1913.1,571.2 1913.9,599.6 1914.3,593.4 1914.8,575.3 1915.4,570.4 1915.7,552.5 1916.2,547.0 1916.8,571.0 1917.2,578.6 1917.6,592.9 1918.1,586.5 1918.4,569.3 1918.9,566.8 1919.4,548.1 1920.0,540.0 1920.0,600.0 1920.4,594.2 1920.7,577.7 1921.1,571.5 1921.7,547.9 1922.2,536.7 1922.5,556.5 1923.1,593.4 1923.7,577.0 1924.1,571.9 1924.5,556.8 1924.8,554.9 1925.1,540.2 1925.4,539.6 1925.8,528.2 1926.2,546.0 1926.6,573.9 1927.0,590.0 1927.0,520.0 1927.6,539.5 1928.0,564.4 1928.5,585.1 1928.9,562.5 1929.4,544.5 1930.0,516.7 1930.5,527.6 1931.1,549.9 1931.4,551.7 1932.0,573.2 1932.5,585.5 1933.0,544.0 1933.7,490.0 1933.8,590.0 1934.1,578.8 1934.4,561.9 1934.9,551.6 1935.4,528.4 1935.9,510.8 1936.2,527.7 1936.8,548.3 1937.2,567.9 1937.5,576.6 1938.0,600.0 1938.0,530.0 1938.5,552.3 1939.1,567.1 1939.5,591.2 1939.9,605.0 1940.3,593.5 1940.6,599.1 1941.0,581.6 1941.6,582.6 1942.0,570.0 1942.0,612.0 1942.6,600.6 1943.0,610.7 1943.4,591.9 1944.2,593.3 1944.6,605.0 1945.1,599.5 1945.7,612.0 1946.0,616.6 1946.4,598.2 1946.7,610.7 1947.1,590.2 1947.5,599.7 1947.9,584.1 1948.4,593.4 1948.8,573.4 1949.3,582.5 1949.7,566.8 1950.0,570.0 1950.4,574.0 1950.9,557.1 1951.4,567.0 1951.8,546.1 1952.3,557.0 1952.8,542.0 1953.2,553.2 1953.6,533.3 1954.1,545.3 1954.7,527.0 1955.0,530.0 1955.5,532.6 1956.0,514.6 1956.6,520.6 1957.0,506.3 1957.4,514.3 1957.9,497.4 1958.5,505.3 1958.9,490.0 1959.5,495.4 1959.8,479.0 1960.4,488.5 1961.0,469.3 1961.4,480.1 1961.7,470.0 1962.2,461.1 1962.7,475.7 1963.2,456.2 1963.8,471.3 1964.3,453.9 1965.0,462.0"/>
</g>
<rect x="1195.3" y="1119.8" width="659.2" height="273.6" fill="#fff" stroke="#262626" stroke-width="2.6"/>
<path class="c" stroke="#00ff00" d="M1211.7,1159.4H1333.9"/>
<text class="leg" x="1346.3" y="1180.4">Speed limits</text>
<path class="c" stroke="#ff0000" stroke-dasharray="43.48 10.87 21.74 10.87" d="M1211.7,1224.2H1333.9"/>
<text class="leg" x="1346.3" y="1245.2">Real speed</text>
<path class="c" stroke="#ff00ff" stroke-dasharray="10.87 10.87" d="M1211.7,1289.0H1333.9"/>
<text class="leg" x="1346.3" y="1310.0">Estimated speed</text>
<path class="c" stroke="#0000ff" stroke-dasharray="43.48 43.48" d="M1211.7,1354.2H1333.9"/>
<text class="leg" x="1346.3" y="1375.2">Dead-reckoning speed</text>
</svg>
</body></html>
